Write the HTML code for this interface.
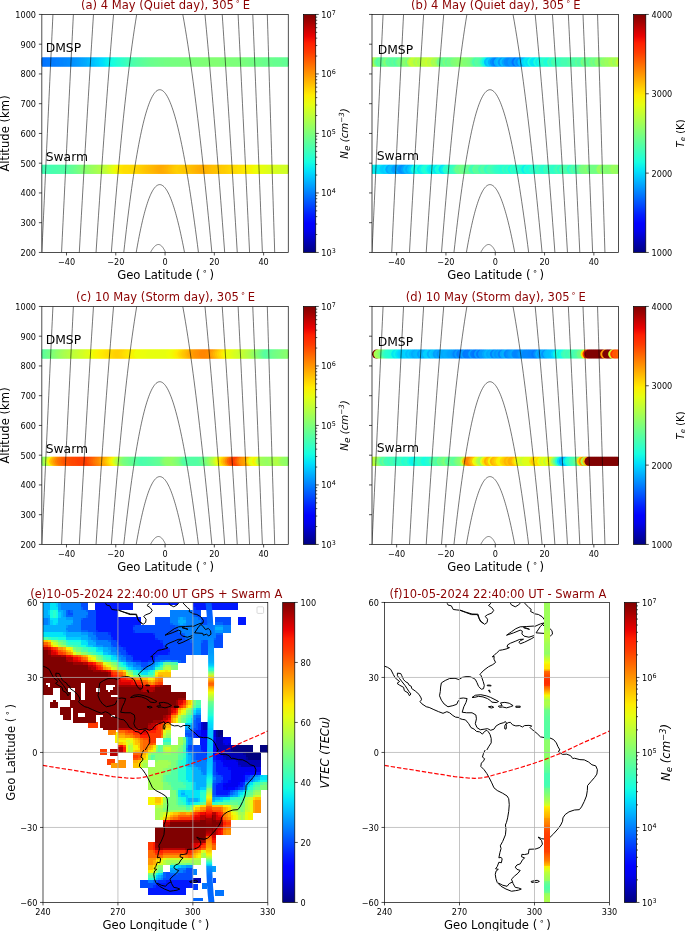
<!DOCTYPE html>
<html lang="en"><head><meta charset="utf-8"><title>Figure</title>
<style>html,body{margin:0;padding:0;background:#fff}svg{display:block}</style></head>
<body>
<svg width="685" height="931" viewBox="0 0 685 931" font-family='"DejaVu Sans","Liberation Sans",sans-serif'>
<rect width="685" height="931" fill="#fff"/>
<g opacity="0.999">
<defs>
<linearGradient id="jet" x1="0" y1="0" x2="0" y2="1"><stop offset="0" stop-color="#800000"/><stop offset="0.03" stop-color="#9f0000"/><stop offset="0.06" stop-color="#c40000"/><stop offset="0.09" stop-color="#e80000"/><stop offset="0.12" stop-color="#ff1e00"/><stop offset="0.16" stop-color="#ff3b00"/><stop offset="0.19" stop-color="#ff5900"/><stop offset="0.22" stop-color="#ff7700"/><stop offset="0.25" stop-color="#ff9400"/><stop offset="0.28" stop-color="#ffb200"/><stop offset="0.31" stop-color="#ffd000"/><stop offset="0.34" stop-color="#feed00"/><stop offset="0.38" stop-color="#e4ff13"/><stop offset="0.41" stop-color="#caff2c"/><stop offset="0.44" stop-color="#b1ff46"/><stop offset="0.47" stop-color="#97ff60"/><stop offset="0.5" stop-color="#7dff7a"/><stop offset="0.53" stop-color="#63ff94"/><stop offset="0.56" stop-color="#49ffad"/><stop offset="0.59" stop-color="#30ffc7"/><stop offset="0.62" stop-color="#16ffe1"/><stop offset="0.66" stop-color="#00e0fb"/><stop offset="0.69" stop-color="#00c0ff"/><stop offset="0.72" stop-color="#00a0ff"/><stop offset="0.75" stop-color="#0080ff"/><stop offset="0.78" stop-color="#0060ff"/><stop offset="0.81" stop-color="#0040ff"/><stop offset="0.84" stop-color="#0020ff"/><stop offset="0.88" stop-color="#0000ff"/><stop offset="0.91" stop-color="#0000ed"/><stop offset="0.94" stop-color="#0000c8"/><stop offset="0.97" stop-color="#0000a4"/><stop offset="1" stop-color="#000080"/></linearGradient>
<linearGradient id="g_a_dmsp" x1="0" y1="0" x2="1" y2="0"><stop offset="0" stop-color="#0074ff"/><stop offset="0.01" stop-color="#0074ff"/><stop offset="0.02" stop-color="#0078ff"/><stop offset="0.03" stop-color="#0078ff"/><stop offset="0.04" stop-color="#007cff"/><stop offset="0.05" stop-color="#0080ff"/><stop offset="0.06" stop-color="#0080ff"/><stop offset="0.07" stop-color="#0084ff"/><stop offset="0.08" stop-color="#0084ff"/><stop offset="0.09" stop-color="#0088ff"/><stop offset="0.1" stop-color="#0088ff"/><stop offset="0.11" stop-color="#008cff"/><stop offset="0.12" stop-color="#0090ff"/><stop offset="0.13" stop-color="#0094ff"/><stop offset="0.14" stop-color="#0098ff"/><stop offset="0.15" stop-color="#009cff"/><stop offset="0.16" stop-color="#00a4ff"/><stop offset="0.17" stop-color="#00a8ff"/><stop offset="0.18" stop-color="#00b0ff"/><stop offset="0.19" stop-color="#00b4ff"/><stop offset="0.2" stop-color="#00bcff"/><stop offset="0.21" stop-color="#00c4ff"/><stop offset="0.22" stop-color="#00ccff"/><stop offset="0.23" stop-color="#00d4ff"/><stop offset="0.24" stop-color="#00dcfe"/><stop offset="0.25" stop-color="#00e4f8"/><stop offset="0.26" stop-color="#06ecf1"/><stop offset="0.27" stop-color="#0cf4eb"/><stop offset="0.28" stop-color="#13fce4"/><stop offset="0.29" stop-color="#19ffde"/><stop offset="0.3" stop-color="#1fffd7"/><stop offset="0.31" stop-color="#26ffd1"/><stop offset="0.32" stop-color="#2cffca"/><stop offset="0.33" stop-color="#33ffc4"/><stop offset="0.34" stop-color="#3cffba"/><stop offset="0.35" stop-color="#43ffb4"/><stop offset="0.36" stop-color="#46ffb1"/><stop offset="0.37" stop-color="#4dffaa"/><stop offset="0.38" stop-color="#50ffa7"/><stop offset="0.39" stop-color="#56ffa0"/><stop offset="0.4" stop-color="#5aff9d"/><stop offset="0.41" stop-color="#5dff9a"/><stop offset="0.42" stop-color="#60ff97"/><stop offset="0.43" stop-color="#63ff94"/><stop offset="0.44" stop-color="#66ff90"/><stop offset="0.45" stop-color="#6aff8d"/><stop offset="0.46" stop-color="#6dff8a"/><stop offset="0.47" stop-color="#6dff8a"/><stop offset="0.48" stop-color="#70ff87"/><stop offset="0.49" stop-color="#70ff87"/><stop offset="0.5" stop-color="#73ff83"/><stop offset="0.51" stop-color="#73ff83"/><stop offset="0.52" stop-color="#73ff83"/><stop offset="0.53" stop-color="#77ff80"/><stop offset="0.54" stop-color="#77ff80"/><stop offset="0.55" stop-color="#77ff80"/><stop offset="0.56" stop-color="#77ff80"/><stop offset="0.57" stop-color="#7aff7d"/><stop offset="0.58" stop-color="#7aff7d"/><stop offset="0.59" stop-color="#7aff7d"/><stop offset="0.6" stop-color="#7dff7a"/><stop offset="0.61" stop-color="#7dff7a"/><stop offset="0.62" stop-color="#7dff7a"/><stop offset="0.63" stop-color="#7dff7a"/><stop offset="0.64" stop-color="#80ff77"/><stop offset="0.65" stop-color="#80ff77"/><stop offset="0.66" stop-color="#80ff77"/><stop offset="0.67" stop-color="#80ff77"/><stop offset="0.68" stop-color="#83ff73"/><stop offset="0.69" stop-color="#83ff73"/><stop offset="0.7" stop-color="#83ff73"/><stop offset="0.71" stop-color="#83ff73"/><stop offset="0.72" stop-color="#83ff73"/><stop offset="0.73" stop-color="#80ff77"/><stop offset="0.74" stop-color="#80ff77"/><stop offset="0.75" stop-color="#80ff77"/><stop offset="0.76" stop-color="#80ff77"/><stop offset="0.77" stop-color="#7dff7a"/><stop offset="0.78" stop-color="#7dff7a"/><stop offset="0.79" stop-color="#7dff7a"/><stop offset="0.8" stop-color="#7dff7a"/><stop offset="0.81" stop-color="#7aff7d"/><stop offset="0.82" stop-color="#77ff80"/><stop offset="0.83" stop-color="#77ff80"/><stop offset="0.84" stop-color="#73ff83"/><stop offset="0.85" stop-color="#73ff83"/><stop offset="0.86" stop-color="#70ff87"/><stop offset="0.87" stop-color="#70ff87"/><stop offset="0.88" stop-color="#6dff8a"/><stop offset="0.89" stop-color="#6dff8a"/><stop offset="0.9" stop-color="#6aff8d"/><stop offset="0.91" stop-color="#6aff8d"/><stop offset="0.92" stop-color="#6aff8d"/><stop offset="0.93" stop-color="#6aff8d"/><stop offset="0.94" stop-color="#66ff90"/><stop offset="0.95" stop-color="#66ff90"/><stop offset="0.96" stop-color="#66ff90"/><stop offset="0.97" stop-color="#66ff90"/><stop offset="0.98" stop-color="#63ff94"/><stop offset="0.99" stop-color="#63ff94"/><stop offset="1" stop-color="#63ff94"/></linearGradient>
<linearGradient id="g_a_swarm" x1="0" y1="0" x2="1" y2="0"><stop offset="0" stop-color="#43ffb4"/><stop offset="0.01" stop-color="#43ffb4"/><stop offset="0.02" stop-color="#46ffb1"/><stop offset="0.03" stop-color="#46ffb1"/><stop offset="0.04" stop-color="#49ffad"/><stop offset="0.05" stop-color="#49ffad"/><stop offset="0.06" stop-color="#4dffaa"/><stop offset="0.07" stop-color="#4dffaa"/><stop offset="0.08" stop-color="#50ffa7"/><stop offset="0.09" stop-color="#50ffa7"/><stop offset="0.1" stop-color="#56ffa0"/><stop offset="0.11" stop-color="#5dff9a"/><stop offset="0.12" stop-color="#63ff94"/><stop offset="0.13" stop-color="#6aff8d"/><stop offset="0.14" stop-color="#70ff87"/><stop offset="0.15" stop-color="#7aff7d"/><stop offset="0.16" stop-color="#80ff77"/><stop offset="0.17" stop-color="#87ff70"/><stop offset="0.18" stop-color="#8dff6a"/><stop offset="0.19" stop-color="#94ff63"/><stop offset="0.2" stop-color="#9aff5d"/><stop offset="0.21" stop-color="#a0ff56"/><stop offset="0.22" stop-color="#a7ff50"/><stop offset="0.23" stop-color="#adff49"/><stop offset="0.24" stop-color="#b4ff43"/><stop offset="0.25" stop-color="#beff39"/><stop offset="0.26" stop-color="#c7ff30"/><stop offset="0.27" stop-color="#d1ff26"/><stop offset="0.28" stop-color="#deff19"/><stop offset="0.29" stop-color="#e7ff0f"/><stop offset="0.3" stop-color="#f4f802"/><stop offset="0.31" stop-color="#feed00"/><stop offset="0.32" stop-color="#ffe200"/><stop offset="0.33" stop-color="#ffde00"/><stop offset="0.34" stop-color="#ffde00"/><stop offset="0.35" stop-color="#ffde00"/><stop offset="0.36" stop-color="#ffdb00"/><stop offset="0.37" stop-color="#ffdb00"/><stop offset="0.38" stop-color="#ffd700"/><stop offset="0.39" stop-color="#ffd300"/><stop offset="0.4" stop-color="#ffcc00"/><stop offset="0.41" stop-color="#ffc800"/><stop offset="0.42" stop-color="#ffc400"/><stop offset="0.43" stop-color="#ffc100"/><stop offset="0.44" stop-color="#ffb900"/><stop offset="0.45" stop-color="#ffb600"/><stop offset="0.46" stop-color="#ffb200"/><stop offset="0.47" stop-color="#ffae00"/><stop offset="0.48" stop-color="#ffab00"/><stop offset="0.49" stop-color="#ffae00"/><stop offset="0.5" stop-color="#ffb200"/><stop offset="0.51" stop-color="#ffb900"/><stop offset="0.52" stop-color="#ffc100"/><stop offset="0.53" stop-color="#ffc800"/><stop offset="0.54" stop-color="#ffcc00"/><stop offset="0.55" stop-color="#ffcc00"/><stop offset="0.56" stop-color="#ffcc00"/><stop offset="0.57" stop-color="#ffc800"/><stop offset="0.58" stop-color="#ffc800"/><stop offset="0.59" stop-color="#ffc400"/><stop offset="0.6" stop-color="#ffc100"/><stop offset="0.61" stop-color="#ffb900"/><stop offset="0.62" stop-color="#ffb600"/><stop offset="0.63" stop-color="#ffae00"/><stop offset="0.64" stop-color="#ffab00"/><stop offset="0.65" stop-color="#ffae00"/><stop offset="0.66" stop-color="#ffb200"/><stop offset="0.67" stop-color="#ffb900"/><stop offset="0.68" stop-color="#ffbd00"/><stop offset="0.69" stop-color="#ffc100"/><stop offset="0.7" stop-color="#ffc400"/><stop offset="0.71" stop-color="#ffc400"/><stop offset="0.72" stop-color="#ffc800"/><stop offset="0.73" stop-color="#ffcc00"/><stop offset="0.74" stop-color="#ffd000"/><stop offset="0.75" stop-color="#ffd300"/><stop offset="0.76" stop-color="#ffd300"/><stop offset="0.77" stop-color="#ffd700"/><stop offset="0.78" stop-color="#ffdb00"/><stop offset="0.79" stop-color="#ffde00"/><stop offset="0.8" stop-color="#ffe200"/><stop offset="0.81" stop-color="#ffe600"/><stop offset="0.82" stop-color="#ffea00"/><stop offset="0.83" stop-color="#feed00"/><stop offset="0.84" stop-color="#fbf100"/><stop offset="0.85" stop-color="#f4f802"/><stop offset="0.86" stop-color="#f1fc06"/><stop offset="0.87" stop-color="#eeff09"/><stop offset="0.88" stop-color="#e7ff0f"/><stop offset="0.89" stop-color="#e4ff13"/><stop offset="0.9" stop-color="#e1ff16"/><stop offset="0.91" stop-color="#e1ff16"/><stop offset="0.92" stop-color="#deff19"/><stop offset="0.93" stop-color="#dbff1c"/><stop offset="0.94" stop-color="#d7ff1f"/><stop offset="0.95" stop-color="#d4ff23"/><stop offset="0.96" stop-color="#d4ff23"/><stop offset="0.97" stop-color="#d1ff26"/><stop offset="0.98" stop-color="#d1ff26"/><stop offset="0.99" stop-color="#d1ff26"/><stop offset="1" stop-color="#ceff29"/></linearGradient>
<linearGradient id="g_b_dmsp" x1="0" y1="0" x2="1" y2="0"><stop offset="0" stop-color="#a4ff53"/><stop offset="0.01" stop-color="#83ff73"/><stop offset="0.02" stop-color="#60ff97"/><stop offset="0.03" stop-color="#60ff97"/><stop offset="0.04" stop-color="#73ff83"/><stop offset="0.05" stop-color="#6dff8a"/><stop offset="0.06" stop-color="#5dff9a"/><stop offset="0.07" stop-color="#53ffa4"/><stop offset="0.08" stop-color="#5aff9d"/><stop offset="0.09" stop-color="#5dff9a"/><stop offset="0.1" stop-color="#63ff94"/><stop offset="0.11" stop-color="#6dff8a"/><stop offset="0.12" stop-color="#77ff80"/><stop offset="0.13" stop-color="#83ff73"/><stop offset="0.14" stop-color="#90ff66"/><stop offset="0.15" stop-color="#b4ff43"/><stop offset="0.16" stop-color="#caff2c"/><stop offset="0.17" stop-color="#baff3c"/><stop offset="0.18" stop-color="#aaff4d"/><stop offset="0.19" stop-color="#a7ff50"/><stop offset="0.2" stop-color="#adff49"/><stop offset="0.21" stop-color="#b4ff43"/><stop offset="0.22" stop-color="#baff3c"/><stop offset="0.23" stop-color="#baff3c"/><stop offset="0.24" stop-color="#aaff4d"/><stop offset="0.25" stop-color="#97ff60"/><stop offset="0.26" stop-color="#8aff6d"/><stop offset="0.27" stop-color="#7dff7a"/><stop offset="0.28" stop-color="#73ff83"/><stop offset="0.29" stop-color="#66ff90"/><stop offset="0.3" stop-color="#6aff8d"/><stop offset="0.31" stop-color="#70ff87"/><stop offset="0.32" stop-color="#7aff7d"/><stop offset="0.33" stop-color="#83ff73"/><stop offset="0.34" stop-color="#8aff6d"/><stop offset="0.35" stop-color="#83ff73"/><stop offset="0.36" stop-color="#7dff7a"/><stop offset="0.37" stop-color="#77ff80"/><stop offset="0.38" stop-color="#70ff87"/><stop offset="0.39" stop-color="#6aff8d"/><stop offset="0.4" stop-color="#60ff97"/><stop offset="0.41" stop-color="#56ffa0"/><stop offset="0.42" stop-color="#49ffad"/><stop offset="0.43" stop-color="#40ffb7"/><stop offset="0.44" stop-color="#29ffce"/><stop offset="0.45" stop-color="#06ecf1"/><stop offset="0.46" stop-color="#00c8ff"/><stop offset="0.47" stop-color="#00b4ff"/><stop offset="0.48" stop-color="#00a0ff"/><stop offset="0.49" stop-color="#0094ff"/><stop offset="0.5" stop-color="#00a0ff"/><stop offset="0.51" stop-color="#00a8ff"/><stop offset="0.52" stop-color="#00b0ff"/><stop offset="0.53" stop-color="#00a4ff"/><stop offset="0.54" stop-color="#0098ff"/><stop offset="0.55" stop-color="#0090ff"/><stop offset="0.56" stop-color="#0084ff"/><stop offset="0.57" stop-color="#0088ff"/><stop offset="0.58" stop-color="#0098ff"/><stop offset="0.59" stop-color="#00acff"/><stop offset="0.6" stop-color="#00b8ff"/><stop offset="0.61" stop-color="#00c8ff"/><stop offset="0.62" stop-color="#00d8ff"/><stop offset="0.63" stop-color="#00e4f8"/><stop offset="0.64" stop-color="#09f0ee"/><stop offset="0.65" stop-color="#0ff8e7"/><stop offset="0.66" stop-color="#16ffe1"/><stop offset="0.67" stop-color="#1fffd7"/><stop offset="0.68" stop-color="#26ffd1"/><stop offset="0.69" stop-color="#2cffca"/><stop offset="0.7" stop-color="#2cffca"/><stop offset="0.71" stop-color="#30ffc7"/><stop offset="0.72" stop-color="#33ffc4"/><stop offset="0.73" stop-color="#36ffc1"/><stop offset="0.74" stop-color="#39ffbe"/><stop offset="0.75" stop-color="#3cffba"/><stop offset="0.76" stop-color="#3cffba"/><stop offset="0.77" stop-color="#40ffb7"/><stop offset="0.78" stop-color="#43ffb4"/><stop offset="0.79" stop-color="#46ffb1"/><stop offset="0.8" stop-color="#49ffad"/><stop offset="0.81" stop-color="#49ffad"/><stop offset="0.82" stop-color="#50ffa7"/><stop offset="0.83" stop-color="#56ffa0"/><stop offset="0.84" stop-color="#5dff9a"/><stop offset="0.85" stop-color="#60ff97"/><stop offset="0.86" stop-color="#66ff90"/><stop offset="0.87" stop-color="#6dff8a"/><stop offset="0.88" stop-color="#73ff83"/><stop offset="0.89" stop-color="#77ff80"/><stop offset="0.9" stop-color="#7dff7a"/><stop offset="0.91" stop-color="#83ff73"/><stop offset="0.92" stop-color="#8aff6d"/><stop offset="0.93" stop-color="#8dff6a"/><stop offset="0.94" stop-color="#94ff63"/><stop offset="0.95" stop-color="#9aff5d"/><stop offset="0.96" stop-color="#9dff5a"/><stop offset="0.97" stop-color="#a4ff53"/><stop offset="0.98" stop-color="#b1ff46"/><stop offset="0.99" stop-color="#beff39"/><stop offset="1" stop-color="#beff39"/></linearGradient>
<linearGradient id="g_b_swarm" x1="0" y1="0" x2="1" y2="0"><stop offset="0" stop-color="#0ff8e7"/><stop offset="0.01" stop-color="#09f0ee"/><stop offset="0.02" stop-color="#02e8f4"/><stop offset="0.03" stop-color="#00e0fb"/><stop offset="0.04" stop-color="#00d4ff"/><stop offset="0.05" stop-color="#00ccff"/><stop offset="0.06" stop-color="#00c0ff"/><stop offset="0.07" stop-color="#00b4ff"/><stop offset="0.08" stop-color="#00acff"/><stop offset="0.09" stop-color="#00a8ff"/><stop offset="0.1" stop-color="#00a4ff"/><stop offset="0.11" stop-color="#00a0ff"/><stop offset="0.12" stop-color="#00a4ff"/><stop offset="0.13" stop-color="#00b4ff"/><stop offset="0.14" stop-color="#00c8ff"/><stop offset="0.15" stop-color="#00dcfe"/><stop offset="0.16" stop-color="#06ecf1"/><stop offset="0.17" stop-color="#0cf4eb"/><stop offset="0.18" stop-color="#0ff8e7"/><stop offset="0.19" stop-color="#13fce4"/><stop offset="0.2" stop-color="#16ffe1"/><stop offset="0.21" stop-color="#16ffe1"/><stop offset="0.22" stop-color="#16ffe1"/><stop offset="0.23" stop-color="#13fce4"/><stop offset="0.24" stop-color="#0ff8e7"/><stop offset="0.25" stop-color="#0ff8e7"/><stop offset="0.26" stop-color="#0cf4eb"/><stop offset="0.27" stop-color="#09f0ee"/><stop offset="0.28" stop-color="#0ff8e7"/><stop offset="0.29" stop-color="#1cffdb"/><stop offset="0.3" stop-color="#26ffd1"/><stop offset="0.31" stop-color="#33ffc4"/><stop offset="0.32" stop-color="#40ffb7"/><stop offset="0.33" stop-color="#53ffa4"/><stop offset="0.34" stop-color="#63ff94"/><stop offset="0.35" stop-color="#77ff80"/><stop offset="0.36" stop-color="#73ff83"/><stop offset="0.37" stop-color="#6aff8d"/><stop offset="0.38" stop-color="#5dff9a"/><stop offset="0.39" stop-color="#56ffa0"/><stop offset="0.4" stop-color="#53ffa4"/><stop offset="0.41" stop-color="#4dffaa"/><stop offset="0.42" stop-color="#49ffad"/><stop offset="0.43" stop-color="#43ffb4"/><stop offset="0.44" stop-color="#40ffb7"/><stop offset="0.45" stop-color="#40ffb7"/><stop offset="0.46" stop-color="#3cffba"/><stop offset="0.47" stop-color="#3cffba"/><stop offset="0.48" stop-color="#39ffbe"/><stop offset="0.49" stop-color="#39ffbe"/><stop offset="0.5" stop-color="#36ffc1"/><stop offset="0.51" stop-color="#36ffc1"/><stop offset="0.52" stop-color="#33ffc4"/><stop offset="0.53" stop-color="#33ffc4"/><stop offset="0.54" stop-color="#30ffc7"/><stop offset="0.55" stop-color="#29ffce"/><stop offset="0.56" stop-color="#26ffd1"/><stop offset="0.57" stop-color="#23ffd4"/><stop offset="0.58" stop-color="#1fffd7"/><stop offset="0.59" stop-color="#19ffde"/><stop offset="0.6" stop-color="#19ffde"/><stop offset="0.61" stop-color="#1cffdb"/><stop offset="0.62" stop-color="#1fffd7"/><stop offset="0.63" stop-color="#23ffd4"/><stop offset="0.64" stop-color="#26ffd1"/><stop offset="0.65" stop-color="#29ffce"/><stop offset="0.66" stop-color="#2cffca"/><stop offset="0.67" stop-color="#2cffca"/><stop offset="0.68" stop-color="#30ffc7"/><stop offset="0.69" stop-color="#30ffc7"/><stop offset="0.7" stop-color="#33ffc4"/><stop offset="0.71" stop-color="#33ffc4"/><stop offset="0.72" stop-color="#36ffc1"/><stop offset="0.73" stop-color="#36ffc1"/><stop offset="0.74" stop-color="#39ffbe"/><stop offset="0.75" stop-color="#39ffbe"/><stop offset="0.76" stop-color="#3cffba"/><stop offset="0.77" stop-color="#3cffba"/><stop offset="0.78" stop-color="#3cffba"/><stop offset="0.79" stop-color="#40ffb7"/><stop offset="0.8" stop-color="#40ffb7"/><stop offset="0.81" stop-color="#46ffb1"/><stop offset="0.82" stop-color="#53ffa4"/><stop offset="0.83" stop-color="#63ff94"/><stop offset="0.84" stop-color="#73ff83"/><stop offset="0.85" stop-color="#7dff7a"/><stop offset="0.86" stop-color="#7dff7a"/><stop offset="0.87" stop-color="#80ff77"/><stop offset="0.88" stop-color="#80ff77"/><stop offset="0.89" stop-color="#83ff73"/><stop offset="0.9" stop-color="#83ff73"/><stop offset="0.91" stop-color="#87ff70"/><stop offset="0.92" stop-color="#87ff70"/><stop offset="0.93" stop-color="#87ff70"/><stop offset="0.94" stop-color="#8aff6d"/><stop offset="0.95" stop-color="#8aff6d"/><stop offset="0.96" stop-color="#8dff6a"/><stop offset="0.97" stop-color="#94ff63"/><stop offset="0.98" stop-color="#97ff60"/><stop offset="0.99" stop-color="#9dff5a"/><stop offset="1" stop-color="#9dff5a"/></linearGradient>
<linearGradient id="g_c_dmsp" x1="0" y1="0" x2="1" y2="0"><stop offset="0" stop-color="#5aff9d"/><stop offset="0.01" stop-color="#63ff94"/><stop offset="0.02" stop-color="#6dff8a"/><stop offset="0.03" stop-color="#77ff80"/><stop offset="0.04" stop-color="#7dff7a"/><stop offset="0.05" stop-color="#87ff70"/><stop offset="0.06" stop-color="#90ff66"/><stop offset="0.07" stop-color="#9aff5d"/><stop offset="0.08" stop-color="#a4ff53"/><stop offset="0.09" stop-color="#aaff4d"/><stop offset="0.1" stop-color="#b1ff46"/><stop offset="0.11" stop-color="#b4ff43"/><stop offset="0.12" stop-color="#baff3c"/><stop offset="0.13" stop-color="#c1ff36"/><stop offset="0.14" stop-color="#c7ff30"/><stop offset="0.15" stop-color="#caff2c"/><stop offset="0.16" stop-color="#d1ff26"/><stop offset="0.17" stop-color="#d7ff1f"/><stop offset="0.18" stop-color="#dbff1c"/><stop offset="0.19" stop-color="#e4ff13"/><stop offset="0.2" stop-color="#ebff0c"/><stop offset="0.21" stop-color="#f4f802"/><stop offset="0.22" stop-color="#fbf100"/><stop offset="0.23" stop-color="#feed00"/><stop offset="0.24" stop-color="#ffea00"/><stop offset="0.25" stop-color="#ffe600"/><stop offset="0.26" stop-color="#ffe200"/><stop offset="0.27" stop-color="#ffde00"/><stop offset="0.28" stop-color="#ffdb00"/><stop offset="0.29" stop-color="#ffd300"/><stop offset="0.3" stop-color="#ffd000"/><stop offset="0.31" stop-color="#ffd300"/><stop offset="0.32" stop-color="#ffd700"/><stop offset="0.33" stop-color="#ffde00"/><stop offset="0.34" stop-color="#ffe200"/><stop offset="0.35" stop-color="#ffea00"/><stop offset="0.36" stop-color="#fbf100"/><stop offset="0.37" stop-color="#f4f802"/><stop offset="0.38" stop-color="#eeff09"/><stop offset="0.39" stop-color="#eeff09"/><stop offset="0.4" stop-color="#ebff0c"/><stop offset="0.41" stop-color="#ebff0c"/><stop offset="0.42" stop-color="#e7ff0f"/><stop offset="0.43" stop-color="#e7ff0f"/><stop offset="0.44" stop-color="#e7ff0f"/><stop offset="0.45" stop-color="#e7ff0f"/><stop offset="0.46" stop-color="#e7ff0f"/><stop offset="0.47" stop-color="#e7ff0f"/><stop offset="0.48" stop-color="#e7ff0f"/><stop offset="0.49" stop-color="#e7ff0f"/><stop offset="0.5" stop-color="#e7ff0f"/><stop offset="0.51" stop-color="#eeff09"/><stop offset="0.52" stop-color="#f1fc06"/><stop offset="0.53" stop-color="#f4f802"/><stop offset="0.54" stop-color="#fbf100"/><stop offset="0.55" stop-color="#ffe200"/><stop offset="0.56" stop-color="#ffd700"/><stop offset="0.57" stop-color="#ffc800"/><stop offset="0.58" stop-color="#ffbd00"/><stop offset="0.59" stop-color="#ffae00"/><stop offset="0.6" stop-color="#ffa300"/><stop offset="0.61" stop-color="#ff9c00"/><stop offset="0.62" stop-color="#ff9400"/><stop offset="0.63" stop-color="#ff8d00"/><stop offset="0.64" stop-color="#ff8900"/><stop offset="0.65" stop-color="#ff8600"/><stop offset="0.66" stop-color="#ff8600"/><stop offset="0.67" stop-color="#ff8900"/><stop offset="0.68" stop-color="#ff9400"/><stop offset="0.69" stop-color="#ffa700"/><stop offset="0.7" stop-color="#ffb900"/><stop offset="0.71" stop-color="#ffcc00"/><stop offset="0.72" stop-color="#ffdb00"/><stop offset="0.73" stop-color="#ffea00"/><stop offset="0.74" stop-color="#f4f802"/><stop offset="0.75" stop-color="#ebff0c"/><stop offset="0.76" stop-color="#e4ff13"/><stop offset="0.77" stop-color="#deff19"/><stop offset="0.78" stop-color="#d7ff1f"/><stop offset="0.79" stop-color="#d1ff26"/><stop offset="0.8" stop-color="#caff2c"/><stop offset="0.81" stop-color="#c4ff33"/><stop offset="0.82" stop-color="#baff3c"/><stop offset="0.83" stop-color="#b4ff43"/><stop offset="0.84" stop-color="#aaff4d"/><stop offset="0.85" stop-color="#9dff5a"/><stop offset="0.86" stop-color="#90ff66"/><stop offset="0.87" stop-color="#83ff73"/><stop offset="0.88" stop-color="#77ff80"/><stop offset="0.89" stop-color="#66ff90"/><stop offset="0.9" stop-color="#56ffa0"/><stop offset="0.91" stop-color="#5aff9d"/><stop offset="0.92" stop-color="#60ff97"/><stop offset="0.93" stop-color="#6aff8d"/><stop offset="0.94" stop-color="#70ff87"/><stop offset="0.95" stop-color="#77ff80"/><stop offset="0.96" stop-color="#7aff7d"/><stop offset="0.97" stop-color="#80ff77"/><stop offset="0.98" stop-color="#83ff73"/><stop offset="0.99" stop-color="#87ff70"/><stop offset="1" stop-color="#8dff6a"/></linearGradient>
<linearGradient id="g_c_swarm" x1="0" y1="0" x2="1" y2="0"><stop offset="0" stop-color="#8dff6a"/><stop offset="0.01" stop-color="#adff49"/><stop offset="0.02" stop-color="#d4ff23"/><stop offset="0.03" stop-color="#ffdb00"/><stop offset="0.04" stop-color="#ffb200"/><stop offset="0.05" stop-color="#ff9400"/><stop offset="0.06" stop-color="#ff7700"/><stop offset="0.07" stop-color="#ff6c00"/><stop offset="0.08" stop-color="#ff6000"/><stop offset="0.09" stop-color="#ff5200"/><stop offset="0.1" stop-color="#ff4e00"/><stop offset="0.11" stop-color="#ff4e00"/><stop offset="0.12" stop-color="#ff4a00"/><stop offset="0.13" stop-color="#ff4700"/><stop offset="0.14" stop-color="#ff4300"/><stop offset="0.15" stop-color="#ff3f00"/><stop offset="0.16" stop-color="#ff3f00"/><stop offset="0.17" stop-color="#ff3f00"/><stop offset="0.18" stop-color="#ff4300"/><stop offset="0.19" stop-color="#ff5200"/><stop offset="0.2" stop-color="#ff6400"/><stop offset="0.21" stop-color="#ff7300"/><stop offset="0.22" stop-color="#ff8200"/><stop offset="0.23" stop-color="#ff9100"/><stop offset="0.24" stop-color="#ff9f00"/><stop offset="0.25" stop-color="#ffae00"/><stop offset="0.26" stop-color="#ffc400"/><stop offset="0.27" stop-color="#ffdb00"/><stop offset="0.28" stop-color="#fbf100"/><stop offset="0.29" stop-color="#d7ff1f"/><stop offset="0.3" stop-color="#b7ff40"/><stop offset="0.31" stop-color="#9dff5a"/><stop offset="0.32" stop-color="#87ff70"/><stop offset="0.33" stop-color="#77ff80"/><stop offset="0.34" stop-color="#70ff87"/><stop offset="0.35" stop-color="#6aff8d"/><stop offset="0.36" stop-color="#63ff94"/><stop offset="0.37" stop-color="#5dff9a"/><stop offset="0.38" stop-color="#56ffa0"/><stop offset="0.39" stop-color="#50ffa7"/><stop offset="0.4" stop-color="#49ffad"/><stop offset="0.41" stop-color="#4dffaa"/><stop offset="0.42" stop-color="#50ffa7"/><stop offset="0.43" stop-color="#50ffa7"/><stop offset="0.44" stop-color="#53ffa4"/><stop offset="0.45" stop-color="#5aff9d"/><stop offset="0.46" stop-color="#5dff9a"/><stop offset="0.47" stop-color="#60ff97"/><stop offset="0.48" stop-color="#70ff87"/><stop offset="0.49" stop-color="#83ff73"/><stop offset="0.5" stop-color="#8dff6a"/><stop offset="0.51" stop-color="#90ff66"/><stop offset="0.52" stop-color="#94ff63"/><stop offset="0.53" stop-color="#8dff6a"/><stop offset="0.54" stop-color="#83ff73"/><stop offset="0.55" stop-color="#7dff7a"/><stop offset="0.56" stop-color="#6aff8d"/><stop offset="0.57" stop-color="#56ffa0"/><stop offset="0.58" stop-color="#53ffa4"/><stop offset="0.59" stop-color="#53ffa4"/><stop offset="0.6" stop-color="#53ffa4"/><stop offset="0.61" stop-color="#53ffa4"/><stop offset="0.62" stop-color="#53ffa4"/><stop offset="0.63" stop-color="#53ffa4"/><stop offset="0.64" stop-color="#5dff9a"/><stop offset="0.65" stop-color="#6aff8d"/><stop offset="0.66" stop-color="#7aff7d"/><stop offset="0.67" stop-color="#8aff6d"/><stop offset="0.68" stop-color="#a0ff56"/><stop offset="0.69" stop-color="#b4ff43"/><stop offset="0.7" stop-color="#ceff29"/><stop offset="0.71" stop-color="#ebff0c"/><stop offset="0.72" stop-color="#ffe200"/><stop offset="0.73" stop-color="#ffc400"/><stop offset="0.74" stop-color="#ffa300"/><stop offset="0.75" stop-color="#ff7700"/><stop offset="0.76" stop-color="#ff5200"/><stop offset="0.77" stop-color="#ff3f00"/><stop offset="0.78" stop-color="#ff4300"/><stop offset="0.79" stop-color="#ff6400"/><stop offset="0.8" stop-color="#ff8600"/><stop offset="0.81" stop-color="#ff9800"/><stop offset="0.82" stop-color="#ffa300"/><stop offset="0.83" stop-color="#ffc400"/><stop offset="0.84" stop-color="#eeff09"/><stop offset="0.85" stop-color="#ebff0c"/><stop offset="0.86" stop-color="#feed00"/><stop offset="0.87" stop-color="#caff2c"/><stop offset="0.88" stop-color="#a4ff53"/><stop offset="0.89" stop-color="#9dff5a"/><stop offset="0.9" stop-color="#9aff5d"/><stop offset="0.91" stop-color="#97ff60"/><stop offset="0.92" stop-color="#9aff5d"/><stop offset="0.93" stop-color="#a4ff53"/><stop offset="0.94" stop-color="#adff49"/><stop offset="0.95" stop-color="#b4ff43"/><stop offset="0.96" stop-color="#a7ff50"/><stop offset="0.97" stop-color="#97ff60"/><stop offset="0.98" stop-color="#90ff66"/><stop offset="0.99" stop-color="#90ff66"/><stop offset="1" stop-color="#8dff6a"/></linearGradient>
<linearGradient id="g_d_dmsp" x1="0" y1="0" x2="1" y2="0"><stop offset="0" stop-color="#beff39"/><stop offset="0.01" stop-color="#b7ff40"/><stop offset="0.02" stop-color="#97ff60"/><stop offset="0.03" stop-color="#77ff80"/><stop offset="0.04" stop-color="#56ffa0"/><stop offset="0.05" stop-color="#39ffbe"/><stop offset="0.06" stop-color="#29ffce"/><stop offset="0.07" stop-color="#19ffde"/><stop offset="0.08" stop-color="#09f0ee"/><stop offset="0.09" stop-color="#02e8f4"/><stop offset="0.1" stop-color="#00e0fb"/><stop offset="0.11" stop-color="#00d4ff"/><stop offset="0.12" stop-color="#00d0ff"/><stop offset="0.13" stop-color="#00c8ff"/><stop offset="0.14" stop-color="#00c4ff"/><stop offset="0.15" stop-color="#00c0ff"/><stop offset="0.16" stop-color="#00b8ff"/><stop offset="0.17" stop-color="#00b4ff"/><stop offset="0.18" stop-color="#00b4ff"/><stop offset="0.19" stop-color="#00b4ff"/><stop offset="0.2" stop-color="#00b8ff"/><stop offset="0.21" stop-color="#00bcff"/><stop offset="0.22" stop-color="#00b8ff"/><stop offset="0.23" stop-color="#00b4ff"/><stop offset="0.24" stop-color="#00b0ff"/><stop offset="0.25" stop-color="#00acff"/><stop offset="0.26" stop-color="#00a8ff"/><stop offset="0.27" stop-color="#00a4ff"/><stop offset="0.28" stop-color="#00a0ff"/><stop offset="0.29" stop-color="#009cff"/><stop offset="0.3" stop-color="#009cff"/><stop offset="0.31" stop-color="#0098ff"/><stop offset="0.32" stop-color="#0098ff"/><stop offset="0.33" stop-color="#0098ff"/><stop offset="0.34" stop-color="#0094ff"/><stop offset="0.35" stop-color="#0094ff"/><stop offset="0.36" stop-color="#0094ff"/><stop offset="0.37" stop-color="#0090ff"/><stop offset="0.38" stop-color="#0090ff"/><stop offset="0.39" stop-color="#0090ff"/><stop offset="0.4" stop-color="#008cff"/><stop offset="0.41" stop-color="#008cff"/><stop offset="0.42" stop-color="#008cff"/><stop offset="0.43" stop-color="#0088ff"/><stop offset="0.44" stop-color="#008cff"/><stop offset="0.45" stop-color="#0098ff"/><stop offset="0.46" stop-color="#00a4ff"/><stop offset="0.47" stop-color="#00a4ff"/><stop offset="0.48" stop-color="#009cff"/><stop offset="0.49" stop-color="#0094ff"/><stop offset="0.5" stop-color="#0094ff"/><stop offset="0.51" stop-color="#0098ff"/><stop offset="0.52" stop-color="#0098ff"/><stop offset="0.53" stop-color="#009cff"/><stop offset="0.54" stop-color="#009cff"/><stop offset="0.55" stop-color="#0098ff"/><stop offset="0.56" stop-color="#0098ff"/><stop offset="0.57" stop-color="#0098ff"/><stop offset="0.58" stop-color="#0094ff"/><stop offset="0.59" stop-color="#0094ff"/><stop offset="0.6" stop-color="#0090ff"/><stop offset="0.61" stop-color="#0090ff"/><stop offset="0.62" stop-color="#008cff"/><stop offset="0.63" stop-color="#008cff"/><stop offset="0.64" stop-color="#0088ff"/><stop offset="0.65" stop-color="#008cff"/><stop offset="0.66" stop-color="#0094ff"/><stop offset="0.67" stop-color="#0098ff"/><stop offset="0.68" stop-color="#00a0ff"/><stop offset="0.69" stop-color="#00a8ff"/><stop offset="0.7" stop-color="#00b0ff"/><stop offset="0.71" stop-color="#00b4ff"/><stop offset="0.72" stop-color="#00c0ff"/><stop offset="0.73" stop-color="#00d8ff"/><stop offset="0.74" stop-color="#0cf4eb"/><stop offset="0.75" stop-color="#19ffde"/><stop offset="0.76" stop-color="#26ffd1"/><stop offset="0.77" stop-color="#30ffc7"/><stop offset="0.78" stop-color="#36ffc1"/><stop offset="0.79" stop-color="#3cffba"/><stop offset="0.8" stop-color="#43ffb4"/><stop offset="0.81" stop-color="#4dffaa"/><stop offset="0.82" stop-color="#5aff9d"/><stop offset="0.83" stop-color="#66ff90"/><stop offset="0.84" stop-color="#73ff83"/><stop offset="0.85" stop-color="#ffd700"/><stop offset="0.86" stop-color="#800000"/><stop offset="0.87" stop-color="#800000"/><stop offset="0.88" stop-color="#800000"/><stop offset="0.89" stop-color="#800000"/><stop offset="0.9" stop-color="#800000"/><stop offset="0.91" stop-color="#800000"/><stop offset="0.92" stop-color="#800000"/><stop offset="0.93" stop-color="#ffb200"/><stop offset="0.94" stop-color="#800000"/><stop offset="0.95" stop-color="#800000"/><stop offset="0.96" stop-color="#d4ff23"/><stop offset="0.97" stop-color="#ff3b00"/><stop offset="0.98" stop-color="#ff5900"/><stop offset="0.99" stop-color="#ff6800"/><stop offset="1" stop-color="#ff6800"/></linearGradient>
<linearGradient id="g_d_swarm" x1="0" y1="0" x2="1" y2="0"><stop offset="0" stop-color="#ceff29"/><stop offset="0.01" stop-color="#b4ff43"/><stop offset="0.02" stop-color="#83ff73"/><stop offset="0.03" stop-color="#63ff94"/><stop offset="0.04" stop-color="#53ffa4"/><stop offset="0.05" stop-color="#43ffb4"/><stop offset="0.06" stop-color="#3cffba"/><stop offset="0.07" stop-color="#39ffbe"/><stop offset="0.08" stop-color="#36ffc1"/><stop offset="0.09" stop-color="#33ffc4"/><stop offset="0.1" stop-color="#30ffc7"/><stop offset="0.11" stop-color="#2cffca"/><stop offset="0.12" stop-color="#29ffce"/><stop offset="0.13" stop-color="#23ffd4"/><stop offset="0.14" stop-color="#1fffd7"/><stop offset="0.15" stop-color="#1cffdb"/><stop offset="0.16" stop-color="#19ffde"/><stop offset="0.17" stop-color="#19ffde"/><stop offset="0.18" stop-color="#1cffdb"/><stop offset="0.19" stop-color="#1cffdb"/><stop offset="0.2" stop-color="#1fffd7"/><stop offset="0.21" stop-color="#23ffd4"/><stop offset="0.22" stop-color="#2cffca"/><stop offset="0.23" stop-color="#36ffc1"/><stop offset="0.24" stop-color="#40ffb7"/><stop offset="0.25" stop-color="#4dffaa"/><stop offset="0.26" stop-color="#5aff9d"/><stop offset="0.27" stop-color="#66ff90"/><stop offset="0.28" stop-color="#73ff83"/><stop offset="0.29" stop-color="#77ff80"/><stop offset="0.3" stop-color="#6dff8a"/><stop offset="0.31" stop-color="#60ff97"/><stop offset="0.32" stop-color="#60ff97"/><stop offset="0.33" stop-color="#6aff8d"/><stop offset="0.34" stop-color="#73ff83"/><stop offset="0.35" stop-color="#8dff6a"/><stop offset="0.36" stop-color="#baff3c"/><stop offset="0.37" stop-color="#ffb200"/><stop offset="0.38" stop-color="#ff7300"/><stop offset="0.39" stop-color="#ff9400"/><stop offset="0.4" stop-color="#ffd000"/><stop offset="0.41" stop-color="#f4f802"/><stop offset="0.42" stop-color="#d1ff26"/><stop offset="0.43" stop-color="#b4ff43"/><stop offset="0.44" stop-color="#caff2c"/><stop offset="0.45" stop-color="#ffcc00"/><stop offset="0.46" stop-color="#ffc800"/><stop offset="0.47" stop-color="#ffe600"/><stop offset="0.48" stop-color="#ffcc00"/><stop offset="0.49" stop-color="#ffc100"/><stop offset="0.5" stop-color="#ffea00"/><stop offset="0.51" stop-color="#f8f500"/><stop offset="0.52" stop-color="#ffe600"/><stop offset="0.53" stop-color="#ffd300"/><stop offset="0.54" stop-color="#ffc100"/><stop offset="0.55" stop-color="#ffb600"/><stop offset="0.56" stop-color="#ffc400"/><stop offset="0.57" stop-color="#ffd700"/><stop offset="0.58" stop-color="#fbf100"/><stop offset="0.59" stop-color="#e7ff0f"/><stop offset="0.6" stop-color="#d1ff26"/><stop offset="0.61" stop-color="#d4ff23"/><stop offset="0.62" stop-color="#d7ff1f"/><stop offset="0.63" stop-color="#deff19"/><stop offset="0.64" stop-color="#ffea00"/><stop offset="0.65" stop-color="#ffc800"/><stop offset="0.66" stop-color="#ffe200"/><stop offset="0.67" stop-color="#f1fc06"/><stop offset="0.68" stop-color="#e1ff16"/><stop offset="0.69" stop-color="#d7ff1f"/><stop offset="0.7" stop-color="#d7ff1f"/><stop offset="0.71" stop-color="#f8f500"/><stop offset="0.72" stop-color="#ceff29"/><stop offset="0.73" stop-color="#90ff66"/><stop offset="0.74" stop-color="#4dffaa"/><stop offset="0.75" stop-color="#13fce4"/><stop offset="0.76" stop-color="#00c8ff"/><stop offset="0.77" stop-color="#00c4ff"/><stop offset="0.78" stop-color="#02e8f4"/><stop offset="0.79" stop-color="#1cffdb"/><stop offset="0.8" stop-color="#36ffc1"/><stop offset="0.81" stop-color="#50ffa7"/><stop offset="0.82" stop-color="#6aff8d"/><stop offset="0.83" stop-color="#87ff70"/><stop offset="0.84" stop-color="#ff7a00"/><stop offset="0.85" stop-color="#a4ff53"/><stop offset="0.86" stop-color="#ff6f00"/><stop offset="0.87" stop-color="#800000"/><stop offset="0.88" stop-color="#800000"/><stop offset="0.89" stop-color="#800000"/><stop offset="0.9" stop-color="#800000"/><stop offset="0.91" stop-color="#800000"/><stop offset="0.92" stop-color="#800000"/><stop offset="0.93" stop-color="#800000"/><stop offset="0.94" stop-color="#800000"/><stop offset="0.95" stop-color="#800000"/><stop offset="0.96" stop-color="#800000"/><stop offset="0.97" stop-color="#800000"/><stop offset="0.98" stop-color="#800000"/><stop offset="0.99" stop-color="#800000"/><stop offset="1" stop-color="#800000"/></linearGradient>
<linearGradient id="g_fs" x1="0" y1="0" x2="0" y2="1"><stop offset="0" stop-color="#9dff5a"/><stop offset="0.01" stop-color="#9dff5a"/><stop offset="0.02" stop-color="#9dff5a"/><stop offset="0.03" stop-color="#9dff5a"/><stop offset="0.03" stop-color="#9dff5a"/><stop offset="0.04" stop-color="#9dff5a"/><stop offset="0.05" stop-color="#9dff5a"/><stop offset="0.06" stop-color="#9dff5a"/><stop offset="0.07" stop-color="#9dff5a"/><stop offset="0.07" stop-color="#9dff5a"/><stop offset="0.08" stop-color="#9dff5a"/><stop offset="0.09" stop-color="#a7ff50"/><stop offset="0.1" stop-color="#b1ff46"/><stop offset="0.11" stop-color="#baff3c"/><stop offset="0.12" stop-color="#b7ff40"/><stop offset="0.12" stop-color="#b1ff46"/><stop offset="0.13" stop-color="#aaff4d"/><stop offset="0.14" stop-color="#a0ff56"/><stop offset="0.15" stop-color="#9dff5a"/><stop offset="0.16" stop-color="#97ff60"/><stop offset="0.17" stop-color="#90ff66"/><stop offset="0.17" stop-color="#90ff66"/><stop offset="0.18" stop-color="#adff49"/><stop offset="0.19" stop-color="#caff2c"/><stop offset="0.2" stop-color="#eeff09"/><stop offset="0.21" stop-color="#ffe600"/><stop offset="0.22" stop-color="#ffe600"/><stop offset="0.23" stop-color="#ff8200"/><stop offset="0.23" stop-color="#ff6c00"/><stop offset="0.24" stop-color="#ff5500"/><stop offset="0.25" stop-color="#ff3f00"/><stop offset="0.26" stop-color="#ff2d00"/><stop offset="0.27" stop-color="#ff2d00"/><stop offset="0.28" stop-color="#ff3f00"/><stop offset="0.28" stop-color="#ff5d00"/><stop offset="0.29" stop-color="#ff8900"/><stop offset="0.3" stop-color="#ffc100"/><stop offset="0.31" stop-color="#f4f802"/><stop offset="0.32" stop-color="#caff2c"/><stop offset="0.33" stop-color="#94ff63"/><stop offset="0.33" stop-color="#adff49"/><stop offset="0.34" stop-color="#adff49"/><stop offset="0.35" stop-color="#97ff60"/><stop offset="0.36" stop-color="#6aff8d"/><stop offset="0.37" stop-color="#66ff90"/><stop offset="0.38" stop-color="#60ff97"/><stop offset="0.38" stop-color="#5dff9a"/><stop offset="0.39" stop-color="#5aff9d"/><stop offset="0.4" stop-color="#56ffa0"/><stop offset="0.41" stop-color="#56ffa0"/><stop offset="0.42" stop-color="#53ffa4"/><stop offset="0.42" stop-color="#53ffa4"/><stop offset="0.43" stop-color="#53ffa4"/><stop offset="0.44" stop-color="#53ffa4"/><stop offset="0.45" stop-color="#53ffa4"/><stop offset="0.46" stop-color="#8dff6a"/><stop offset="0.47" stop-color="#8dff6a"/><stop offset="0.47" stop-color="#8dff6a"/><stop offset="0.48" stop-color="#8dff6a"/><stop offset="0.49" stop-color="#8dff6a"/><stop offset="0.5" stop-color="#8dff6a"/><stop offset="0.51" stop-color="#8dff6a"/><stop offset="0.52" stop-color="#8dff6a"/><stop offset="0.53" stop-color="#87ff70"/><stop offset="0.53" stop-color="#7dff7a"/><stop offset="0.54" stop-color="#70ff87"/><stop offset="0.55" stop-color="#66ff90"/><stop offset="0.56" stop-color="#5dff9a"/><stop offset="0.57" stop-color="#53ffa4"/><stop offset="0.57" stop-color="#49ffad"/><stop offset="0.58" stop-color="#46ffb1"/><stop offset="0.59" stop-color="#46ffb1"/><stop offset="0.6" stop-color="#43ffb4"/><stop offset="0.61" stop-color="#46ffb1"/><stop offset="0.62" stop-color="#56ffa0"/><stop offset="0.62" stop-color="#66ff90"/><stop offset="0.63" stop-color="#73ff83"/><stop offset="0.64" stop-color="#83ff73"/><stop offset="0.65" stop-color="#97ff60"/><stop offset="0.66" stop-color="#aaff4d"/><stop offset="0.67" stop-color="#c4ff33"/><stop offset="0.68" stop-color="#deff19"/><stop offset="0.68" stop-color="#fbf100"/><stop offset="0.69" stop-color="#ffdb00"/><stop offset="0.7" stop-color="#ffc800"/><stop offset="0.71" stop-color="#ffb900"/><stop offset="0.72" stop-color="#ffa700"/><stop offset="0.72" stop-color="#ff9800"/><stop offset="0.73" stop-color="#ff8900"/><stop offset="0.74" stop-color="#ff7a00"/><stop offset="0.75" stop-color="#ff6000"/><stop offset="0.76" stop-color="#ff4700"/><stop offset="0.77" stop-color="#ff3f00"/><stop offset="0.78" stop-color="#ff3b00"/><stop offset="0.78" stop-color="#ff3b00"/><stop offset="0.79" stop-color="#ff3800"/><stop offset="0.8" stop-color="#ff3800"/><stop offset="0.81" stop-color="#ff3b00"/><stop offset="0.82" stop-color="#ff3b00"/><stop offset="0.82" stop-color="#ff3f00"/><stop offset="0.83" stop-color="#ff3f00"/><stop offset="0.84" stop-color="#ff5500"/><stop offset="0.85" stop-color="#ff6800"/><stop offset="0.86" stop-color="#ff7a00"/><stop offset="0.87" stop-color="#ffa300"/><stop offset="0.88" stop-color="#ffcc00"/><stop offset="0.88" stop-color="#fbf100"/><stop offset="0.89" stop-color="#deff19"/><stop offset="0.9" stop-color="#beff39"/><stop offset="0.91" stop-color="#adff49"/><stop offset="0.92" stop-color="#a0ff56"/><stop offset="0.93" stop-color="#90ff66"/><stop offset="0.93" stop-color="#73ff83"/><stop offset="0.94" stop-color="#5dff9a"/><stop offset="0.95" stop-color="#50ffa7"/><stop offset="0.96" stop-color="#5aff9d"/><stop offset="0.97" stop-color="#77ff80"/><stop offset="0.97" stop-color="#90ff66"/><stop offset="0.98" stop-color="#a4ff53"/><stop offset="0.99" stop-color="#aaff4d"/><stop offset="1" stop-color="#adff49"/></linearGradient>
<linearGradient id="g_es" x1="0" y1="0" x2="0" y2="1"><stop offset="0" stop-color="#0054ff"/><stop offset="0.01" stop-color="#0058ff"/><stop offset="0.02" stop-color="#005cff"/><stop offset="0.03" stop-color="#005cff"/><stop offset="0.03" stop-color="#0060ff"/><stop offset="0.04" stop-color="#0060ff"/><stop offset="0.05" stop-color="#0064ff"/><stop offset="0.06" stop-color="#0068ff"/><stop offset="0.07" stop-color="#0068ff"/><stop offset="0.07" stop-color="#0070ff"/><stop offset="0.08" stop-color="#0074ff"/><stop offset="0.09" stop-color="#0078ff"/><stop offset="0.1" stop-color="#007cff"/><stop offset="0.11" stop-color="#0080ff"/><stop offset="0.12" stop-color="#0084ff"/><stop offset="0.12" stop-color="#0088ff"/><stop offset="0.13" stop-color="#008cff"/><stop offset="0.14" stop-color="#0090ff"/><stop offset="0.15" stop-color="#0094ff"/><stop offset="0.16" stop-color="#0098ff"/><stop offset="0.17" stop-color="#0098ff"/><stop offset="0.17" stop-color="#009cff"/><stop offset="0.18" stop-color="#00a4ff"/><stop offset="0.19" stop-color="#00a8ff"/><stop offset="0.2" stop-color="#00b0ff"/><stop offset="0.21" stop-color="#00ccff"/><stop offset="0.22" stop-color="#1cffdb"/><stop offset="0.23" stop-color="#40ffb7"/><stop offset="0.23" stop-color="#63ff94"/><stop offset="0.24" stop-color="#b4ff43"/><stop offset="0.25" stop-color="#ffd700"/><stop offset="0.26" stop-color="#ff9c00"/><stop offset="0.27" stop-color="#ff6000"/><stop offset="0.28" stop-color="#ff7300"/><stop offset="0.28" stop-color="#ff9400"/><stop offset="0.29" stop-color="#ffd000"/><stop offset="0.3" stop-color="#ebff0c"/><stop offset="0.31" stop-color="#c7ff30"/><stop offset="0.32" stop-color="#a7ff50"/><stop offset="0.33" stop-color="#8dff6a"/><stop offset="0.33" stop-color="#73ff83"/><stop offset="0.34" stop-color="#5dff9a"/><stop offset="0.35" stop-color="#49ffad"/><stop offset="0.36" stop-color="#39ffbe"/><stop offset="0.37" stop-color="#29ffce"/><stop offset="0.38" stop-color="#1cffdb"/><stop offset="0.38" stop-color="#13fce4"/><stop offset="0.39" stop-color="#09f0ee"/><stop offset="0.4" stop-color="#00e4f8"/><stop offset="0.41" stop-color="#00d8ff"/><stop offset="0.42" stop-color="#00d4ff"/><stop offset="0.42" stop-color="#00ccff"/><stop offset="0.43" stop-color="#00c4ff"/><stop offset="0.44" stop-color="#00c4ff"/><stop offset="0.45" stop-color="#00c0ff"/><stop offset="0.46" stop-color="#00c0ff"/><stop offset="0.47" stop-color="#00bcff"/><stop offset="0.47" stop-color="#00bcff"/><stop offset="0.48" stop-color="#00bcff"/><stop offset="0.49" stop-color="#00bcff"/><stop offset="0.5" stop-color="#00bcff"/><stop offset="0.51" stop-color="#00bcff"/><stop offset="0.52" stop-color="#00c0ff"/><stop offset="0.53" stop-color="#00c4ff"/><stop offset="0.53" stop-color="#00c4ff"/><stop offset="0.54" stop-color="#00c8ff"/><stop offset="0.55" stop-color="#00ccff"/><stop offset="0.56" stop-color="#00d0ff"/><stop offset="0.57" stop-color="#00d8ff"/><stop offset="0.57" stop-color="#00dcfe"/><stop offset="0.58" stop-color="#09f0ee"/><stop offset="0.59" stop-color="#16ffe1"/><stop offset="0.6" stop-color="#26ffd1"/><stop offset="0.61" stop-color="#40ffb7"/><stop offset="0.62" stop-color="#60ff97"/><stop offset="0.62" stop-color="#80ff77"/><stop offset="0.63" stop-color="#a4ff53"/><stop offset="0.64" stop-color="#caff2c"/><stop offset="0.65" stop-color="#f1fc06"/><stop offset="0.66" stop-color="#ffd300"/><stop offset="0.67" stop-color="#ffab00"/><stop offset="0.68" stop-color="#ff8900"/><stop offset="0.68" stop-color="#ff6400"/><stop offset="0.69" stop-color="#ff3f00"/><stop offset="0.7" stop-color="#ff1a00"/><stop offset="0.71" stop-color="#e40000"/><stop offset="0.72" stop-color="#c40000"/><stop offset="0.72" stop-color="#a80000"/><stop offset="0.73" stop-color="#960000"/><stop offset="0.74" stop-color="#890000"/><stop offset="0.75" stop-color="#800000"/><stop offset="0.76" stop-color="#9b0000"/><stop offset="0.77" stop-color="#bb0000"/><stop offset="0.78" stop-color="#f10800"/><stop offset="0.78" stop-color="#ff4a00"/><stop offset="0.79" stop-color="#ff7300"/><stop offset="0.8" stop-color="#ff8900"/><stop offset="0.81" stop-color="#ff9c00"/><stop offset="0.82" stop-color="#ffa700"/><stop offset="0.82" stop-color="#ffb600"/><stop offset="0.83" stop-color="#ffcc00"/><stop offset="0.84" stop-color="#f8f500"/><stop offset="0.85" stop-color="#baff3c"/><stop offset="0.86" stop-color="#60ff97"/><stop offset="0.87" stop-color="#0ff8e7"/><stop offset="0.88" stop-color="#00b0ff"/><stop offset="0.88" stop-color="#0098ff"/><stop offset="0.89" stop-color="#0084ff"/><stop offset="0.9" stop-color="#0078ff"/><stop offset="0.91" stop-color="#006cff"/><stop offset="0.92" stop-color="#0068ff"/><stop offset="0.93" stop-color="#0068ff"/><stop offset="0.93" stop-color="#0068ff"/><stop offset="0.94" stop-color="#0068ff"/><stop offset="0.95" stop-color="#0068ff"/><stop offset="0.96" stop-color="#0068ff"/><stop offset="0.97" stop-color="#0068ff"/><stop offset="0.97" stop-color="#0068ff"/><stop offset="0.98" stop-color="#0068ff"/><stop offset="0.99" stop-color="#0068ff"/><stop offset="1" stop-color="#0068ff"/></linearGradient>
<clipPath id="cp_a"><rect x="41.85" y="14.45" width="246.4" height="238"/></clipPath>
<clipPath id="cp_b"><rect x="372" y="14.45" width="246.5" height="238"/></clipPath>
<clipPath id="cp_c"><rect x="41.85" y="306.45" width="246.4" height="238"/></clipPath>
<clipPath id="cp_d"><rect x="372" y="306.45" width="246.5" height="238"/></clipPath>
<clipPath id="cp_e"><rect x="43" y="602.45" width="224.8" height="300"/></clipPath>
<clipPath id="cp_f"><rect x="384.5" y="602.45" width="225" height="300"/></clipPath>
</defs>
<g clip-path="url(#cp_a)">
<rect x="41.85" y="57.6" width="246.4" height="8.9" fill="url(#g_a_dmsp)"/>
<circle cx="37.91" cy="62.05" r="4.45" fill="#0074ff"/><circle cx="39.88" cy="62.05" r="4.45" fill="#0074ff"/><circle cx="41.85" cy="62.05" r="4.45" fill="#0074ff"/><circle cx="43.82" cy="62.05" r="4.45" fill="#0074ff"/><circle cx="45.79" cy="62.05" r="4.45" fill="#0074ff"/><circle cx="47.76" cy="62.05" r="4.45" fill="#0074ff"/><circle cx="49.73" cy="62.05" r="4.45" fill="#0078ff"/><circle cx="51.71" cy="62.05" r="4.45" fill="#0078ff"/><circle cx="53.68" cy="62.05" r="4.45" fill="#007cff"/><circle cx="55.65" cy="62.05" r="4.45" fill="#007cff"/><circle cx="57.62" cy="62.05" r="4.45" fill="#007cff"/><circle cx="59.59" cy="62.05" r="4.45" fill="#0080ff"/><circle cx="61.56" cy="62.05" r="4.45" fill="#0080ff"/><circle cx="63.53" cy="62.05" r="4.45" fill="#0084ff"/><circle cx="65.5" cy="62.05" r="4.45" fill="#0084ff"/><circle cx="67.48" cy="62.05" r="4.45" fill="#0088ff"/><circle cx="69.45" cy="62.05" r="4.45" fill="#0088ff"/><circle cx="71.42" cy="62.05" r="4.45" fill="#008cff"/><circle cx="73.39" cy="62.05" r="4.45" fill="#008cff"/><circle cx="75.36" cy="62.05" r="4.45" fill="#0090ff"/><circle cx="77.33" cy="62.05" r="4.45" fill="#0094ff"/><circle cx="79.3" cy="62.05" r="4.45" fill="#0098ff"/><circle cx="81.27" cy="62.05" r="4.45" fill="#009cff"/><circle cx="83.25" cy="62.05" r="4.45" fill="#00a0ff"/><circle cx="85.22" cy="62.05" r="4.45" fill="#00a4ff"/><circle cx="87.19" cy="62.05" r="4.45" fill="#00a8ff"/><circle cx="89.16" cy="62.05" r="4.45" fill="#00acff"/><circle cx="91.13" cy="62.05" r="4.45" fill="#00b4ff"/><circle cx="93.1" cy="62.05" r="4.45" fill="#00b8ff"/><circle cx="95.07" cy="62.05" r="4.45" fill="#00bcff"/><circle cx="97.04" cy="62.05" r="4.45" fill="#00c4ff"/><circle cx="99.01" cy="62.05" r="4.45" fill="#00ccff"/><circle cx="100.99" cy="62.05" r="4.45" fill="#00d0ff"/><circle cx="102.96" cy="62.05" r="4.45" fill="#00d8ff"/><circle cx="104.93" cy="62.05" r="4.45" fill="#00dcfe"/><circle cx="106.9" cy="62.05" r="4.45" fill="#00e4f8"/><circle cx="108.87" cy="62.05" r="4.45" fill="#06ecf1"/><circle cx="110.84" cy="62.05" r="4.45" fill="#09f0ee"/><circle cx="112.81" cy="62.05" r="4.45" fill="#0ff8e7"/><circle cx="114.78" cy="62.05" r="4.45" fill="#16ffe1"/><circle cx="116.76" cy="62.05" r="4.45" fill="#19ffde"/><circle cx="118.73" cy="62.05" r="4.45" fill="#1fffd7"/><circle cx="120.7" cy="62.05" r="4.45" fill="#26ffd1"/><circle cx="122.67" cy="62.05" r="4.45" fill="#29ffce"/><circle cx="124.64" cy="62.05" r="4.45" fill="#30ffc7"/><circle cx="126.61" cy="62.05" r="4.45" fill="#33ffc4"/><circle cx="128.58" cy="62.05" r="4.45" fill="#39ffbe"/><circle cx="130.55" cy="62.05" r="4.45" fill="#40ffb7"/><circle cx="132.53" cy="62.05" r="4.45" fill="#43ffb4"/><circle cx="134.5" cy="62.05" r="4.45" fill="#46ffb1"/><circle cx="136.47" cy="62.05" r="4.45" fill="#4dffaa"/><circle cx="138.44" cy="62.05" r="4.45" fill="#50ffa7"/><circle cx="140.41" cy="62.05" r="4.45" fill="#53ffa4"/><circle cx="142.38" cy="62.05" r="4.45" fill="#56ffa0"/><circle cx="144.35" cy="62.05" r="4.45" fill="#5aff9d"/><circle cx="146.32" cy="62.05" r="4.45" fill="#5dff9a"/><circle cx="148.29" cy="62.05" r="4.45" fill="#60ff97"/><circle cx="150.27" cy="62.05" r="4.45" fill="#63ff94"/><circle cx="152.24" cy="62.05" r="4.45" fill="#66ff90"/><circle cx="154.21" cy="62.05" r="4.45" fill="#6aff8d"/><circle cx="156.18" cy="62.05" r="4.45" fill="#6aff8d"/><circle cx="158.15" cy="62.05" r="4.45" fill="#6dff8a"/><circle cx="160.12" cy="62.05" r="4.45" fill="#6dff8a"/><circle cx="162.09" cy="62.05" r="4.45" fill="#70ff87"/><circle cx="164.06" cy="62.05" r="4.45" fill="#70ff87"/><circle cx="166.04" cy="62.05" r="4.45" fill="#70ff87"/><circle cx="168.01" cy="62.05" r="4.45" fill="#73ff83"/><circle cx="169.98" cy="62.05" r="4.45" fill="#73ff83"/><circle cx="171.95" cy="62.05" r="4.45" fill="#73ff83"/><circle cx="173.92" cy="62.05" r="4.45" fill="#77ff80"/><circle cx="175.89" cy="62.05" r="4.45" fill="#77ff80"/><circle cx="177.86" cy="62.05" r="4.45" fill="#77ff80"/><circle cx="179.83" cy="62.05" r="4.45" fill="#77ff80"/><circle cx="181.81" cy="62.05" r="4.45" fill="#77ff80"/><circle cx="183.78" cy="62.05" r="4.45" fill="#7aff7d"/><circle cx="185.75" cy="62.05" r="4.45" fill="#7aff7d"/><circle cx="187.72" cy="62.05" r="4.45" fill="#7aff7d"/><circle cx="189.69" cy="62.05" r="4.45" fill="#7aff7d"/><circle cx="191.66" cy="62.05" r="4.45" fill="#7aff7d"/><circle cx="193.63" cy="62.05" r="4.45" fill="#7dff7a"/><circle cx="195.6" cy="62.05" r="4.45" fill="#7dff7a"/><circle cx="197.57" cy="62.05" r="4.45" fill="#7dff7a"/><circle cx="199.55" cy="62.05" r="4.45" fill="#7dff7a"/><circle cx="201.52" cy="62.05" r="4.45" fill="#7dff7a"/><circle cx="203.49" cy="62.05" r="4.45" fill="#80ff77"/><circle cx="205.46" cy="62.05" r="4.45" fill="#80ff77"/><circle cx="207.43" cy="62.05" r="4.45" fill="#80ff77"/><circle cx="209.4" cy="62.05" r="4.45" fill="#80ff77"/><circle cx="211.37" cy="62.05" r="4.45" fill="#80ff77"/><circle cx="213.34" cy="62.05" r="4.45" fill="#83ff73"/><circle cx="215.32" cy="62.05" r="4.45" fill="#83ff73"/><circle cx="217.29" cy="62.05" r="4.45" fill="#83ff73"/><circle cx="219.26" cy="62.05" r="4.45" fill="#83ff73"/><circle cx="221.23" cy="62.05" r="4.45" fill="#83ff73"/><circle cx="223.2" cy="62.05" r="4.45" fill="#80ff77"/><circle cx="225.17" cy="62.05" r="4.45" fill="#80ff77"/><circle cx="227.14" cy="62.05" r="4.45" fill="#80ff77"/><circle cx="229.11" cy="62.05" r="4.45" fill="#80ff77"/><circle cx="231.09" cy="62.05" r="4.45" fill="#80ff77"/><circle cx="233.06" cy="62.05" r="4.45" fill="#7dff7a"/><circle cx="235.03" cy="62.05" r="4.45" fill="#7dff7a"/><circle cx="237" cy="62.05" r="4.45" fill="#7dff7a"/><circle cx="238.97" cy="62.05" r="4.45" fill="#7dff7a"/><circle cx="240.94" cy="62.05" r="4.45" fill="#7dff7a"/><circle cx="242.91" cy="62.05" r="4.45" fill="#7aff7d"/><circle cx="244.88" cy="62.05" r="4.45" fill="#7aff7d"/><circle cx="246.85" cy="62.05" r="4.45" fill="#7aff7d"/><circle cx="248.83" cy="62.05" r="4.45" fill="#77ff80"/><circle cx="250.8" cy="62.05" r="4.45" fill="#77ff80"/><circle cx="252.77" cy="62.05" r="4.45" fill="#73ff83"/><circle cx="254.74" cy="62.05" r="4.45" fill="#73ff83"/><circle cx="256.71" cy="62.05" r="4.45" fill="#73ff83"/><circle cx="258.68" cy="62.05" r="4.45" fill="#70ff87"/><circle cx="260.65" cy="62.05" r="4.45" fill="#70ff87"/><circle cx="262.62" cy="62.05" r="4.45" fill="#6dff8a"/><circle cx="264.6" cy="62.05" r="4.45" fill="#6dff8a"/><circle cx="266.57" cy="62.05" r="4.45" fill="#6aff8d"/><circle cx="268.54" cy="62.05" r="4.45" fill="#6aff8d"/><circle cx="270.51" cy="62.05" r="4.45" fill="#6aff8d"/><circle cx="272.48" cy="62.05" r="4.45" fill="#6aff8d"/><circle cx="274.45" cy="62.05" r="4.45" fill="#6aff8d"/><circle cx="276.42" cy="62.05" r="4.45" fill="#66ff90"/><circle cx="278.39" cy="62.05" r="4.45" fill="#66ff90"/><circle cx="280.37" cy="62.05" r="4.45" fill="#66ff90"/><circle cx="282.34" cy="62.05" r="4.45" fill="#66ff90"/><circle cx="284.31" cy="62.05" r="4.45" fill="#66ff90"/><circle cx="286.28" cy="62.05" r="4.45" fill="#63ff94"/><circle cx="288.25" cy="62.05" r="4.45" fill="#63ff94"/><circle cx="290.22" cy="62.05" r="4.45" fill="#63ff94"/><circle cx="292.19" cy="62.05" r="4.45" fill="#63ff94"/>
<rect x="41.85" y="164.85" width="246.4" height="8.9" fill="url(#g_a_swarm)"/>
<circle cx="37.91" cy="169.3" r="4.45" fill="#43ffb4"/><circle cx="39.88" cy="169.3" r="4.45" fill="#43ffb4"/><circle cx="41.85" cy="169.3" r="4.45" fill="#43ffb4"/><circle cx="43.82" cy="169.3" r="4.45" fill="#43ffb4"/><circle cx="45.79" cy="169.3" r="4.45" fill="#43ffb4"/><circle cx="47.76" cy="169.3" r="4.45" fill="#43ffb4"/><circle cx="49.73" cy="169.3" r="4.45" fill="#46ffb1"/><circle cx="51.71" cy="169.3" r="4.45" fill="#46ffb1"/><circle cx="53.68" cy="169.3" r="4.45" fill="#46ffb1"/><circle cx="55.65" cy="169.3" r="4.45" fill="#49ffad"/><circle cx="57.62" cy="169.3" r="4.45" fill="#49ffad"/><circle cx="59.59" cy="169.3" r="4.45" fill="#4dffaa"/><circle cx="61.56" cy="169.3" r="4.45" fill="#4dffaa"/><circle cx="63.53" cy="169.3" r="4.45" fill="#50ffa7"/><circle cx="65.5" cy="169.3" r="4.45" fill="#50ffa7"/><circle cx="67.48" cy="169.3" r="4.45" fill="#50ffa7"/><circle cx="69.45" cy="169.3" r="4.45" fill="#53ffa4"/><circle cx="71.42" cy="169.3" r="4.45" fill="#5aff9d"/><circle cx="73.39" cy="169.3" r="4.45" fill="#60ff97"/><circle cx="75.36" cy="169.3" r="4.45" fill="#63ff94"/><circle cx="77.33" cy="169.3" r="4.45" fill="#6aff8d"/><circle cx="79.3" cy="169.3" r="4.45" fill="#70ff87"/><circle cx="81.27" cy="169.3" r="4.45" fill="#77ff80"/><circle cx="83.25" cy="169.3" r="4.45" fill="#7aff7d"/><circle cx="85.22" cy="169.3" r="4.45" fill="#80ff77"/><circle cx="87.19" cy="169.3" r="4.45" fill="#87ff70"/><circle cx="89.16" cy="169.3" r="4.45" fill="#8dff6a"/><circle cx="91.13" cy="169.3" r="4.45" fill="#90ff66"/><circle cx="93.1" cy="169.3" r="4.45" fill="#97ff60"/><circle cx="95.07" cy="169.3" r="4.45" fill="#9aff5d"/><circle cx="97.04" cy="169.3" r="4.45" fill="#a0ff56"/><circle cx="99.01" cy="169.3" r="4.45" fill="#a4ff53"/><circle cx="100.99" cy="169.3" r="4.45" fill="#aaff4d"/><circle cx="102.96" cy="169.3" r="4.45" fill="#adff49"/><circle cx="104.93" cy="169.3" r="4.45" fill="#b4ff43"/><circle cx="106.9" cy="169.3" r="4.45" fill="#beff39"/><circle cx="108.87" cy="169.3" r="4.45" fill="#c4ff33"/><circle cx="110.84" cy="169.3" r="4.45" fill="#ceff29"/><circle cx="112.81" cy="169.3" r="4.45" fill="#d7ff1f"/><circle cx="114.78" cy="169.3" r="4.45" fill="#e1ff16"/><circle cx="116.76" cy="169.3" r="4.45" fill="#e7ff0f"/><circle cx="118.73" cy="169.3" r="4.45" fill="#f1fc06"/><circle cx="120.7" cy="169.3" r="4.45" fill="#fbf100"/><circle cx="122.67" cy="169.3" r="4.45" fill="#ffe600"/><circle cx="124.64" cy="169.3" r="4.45" fill="#ffe200"/><circle cx="126.61" cy="169.3" r="4.45" fill="#ffde00"/><circle cx="128.58" cy="169.3" r="4.45" fill="#ffde00"/><circle cx="130.55" cy="169.3" r="4.45" fill="#ffde00"/><circle cx="132.53" cy="169.3" r="4.45" fill="#ffdb00"/><circle cx="134.5" cy="169.3" r="4.45" fill="#ffdb00"/><circle cx="136.47" cy="169.3" r="4.45" fill="#ffdb00"/><circle cx="138.44" cy="169.3" r="4.45" fill="#ffd700"/><circle cx="140.41" cy="169.3" r="4.45" fill="#ffd300"/><circle cx="142.38" cy="169.3" r="4.45" fill="#ffd000"/><circle cx="144.35" cy="169.3" r="4.45" fill="#ffcc00"/><circle cx="146.32" cy="169.3" r="4.45" fill="#ffc800"/><circle cx="148.29" cy="169.3" r="4.45" fill="#ffc400"/><circle cx="150.27" cy="169.3" r="4.45" fill="#ffc100"/><circle cx="152.24" cy="169.3" r="4.45" fill="#ffbd00"/><circle cx="154.21" cy="169.3" r="4.45" fill="#ffb900"/><circle cx="156.18" cy="169.3" r="4.45" fill="#ffb600"/><circle cx="158.15" cy="169.3" r="4.45" fill="#ffb200"/><circle cx="160.12" cy="169.3" r="4.45" fill="#ffae00"/><circle cx="162.09" cy="169.3" r="4.45" fill="#ffab00"/><circle cx="164.06" cy="169.3" r="4.45" fill="#ffab00"/><circle cx="166.04" cy="169.3" r="4.45" fill="#ffae00"/><circle cx="168.01" cy="169.3" r="4.45" fill="#ffb200"/><circle cx="169.98" cy="169.3" r="4.45" fill="#ffb600"/><circle cx="171.95" cy="169.3" r="4.45" fill="#ffbd00"/><circle cx="173.92" cy="169.3" r="4.45" fill="#ffc100"/><circle cx="175.89" cy="169.3" r="4.45" fill="#ffc800"/><circle cx="177.86" cy="169.3" r="4.45" fill="#ffcc00"/><circle cx="179.83" cy="169.3" r="4.45" fill="#ffd000"/><circle cx="181.81" cy="169.3" r="4.45" fill="#ffcc00"/><circle cx="183.78" cy="169.3" r="4.45" fill="#ffcc00"/><circle cx="185.75" cy="169.3" r="4.45" fill="#ffc800"/><circle cx="187.72" cy="169.3" r="4.45" fill="#ffc800"/><circle cx="189.69" cy="169.3" r="4.45" fill="#ffc400"/><circle cx="191.66" cy="169.3" r="4.45" fill="#ffc100"/><circle cx="193.63" cy="169.3" r="4.45" fill="#ffbd00"/><circle cx="195.6" cy="169.3" r="4.45" fill="#ffb900"/><circle cx="197.57" cy="169.3" r="4.45" fill="#ffb600"/><circle cx="199.55" cy="169.3" r="4.45" fill="#ffb200"/><circle cx="201.52" cy="169.3" r="4.45" fill="#ffae00"/><circle cx="203.49" cy="169.3" r="4.45" fill="#ffab00"/><circle cx="205.46" cy="169.3" r="4.45" fill="#ffae00"/><circle cx="207.43" cy="169.3" r="4.45" fill="#ffb200"/><circle cx="209.4" cy="169.3" r="4.45" fill="#ffb600"/><circle cx="211.37" cy="169.3" r="4.45" fill="#ffb900"/><circle cx="213.34" cy="169.3" r="4.45" fill="#ffbd00"/><circle cx="215.32" cy="169.3" r="4.45" fill="#ffc100"/><circle cx="217.29" cy="169.3" r="4.45" fill="#ffc100"/><circle cx="219.26" cy="169.3" r="4.45" fill="#ffc400"/><circle cx="221.23" cy="169.3" r="4.45" fill="#ffc800"/><circle cx="223.2" cy="169.3" r="4.45" fill="#ffc800"/><circle cx="225.17" cy="169.3" r="4.45" fill="#ffcc00"/><circle cx="227.14" cy="169.3" r="4.45" fill="#ffcc00"/><circle cx="229.11" cy="169.3" r="4.45" fill="#ffd000"/><circle cx="231.09" cy="169.3" r="4.45" fill="#ffd300"/><circle cx="233.06" cy="169.3" r="4.45" fill="#ffd700"/><circle cx="235.03" cy="169.3" r="4.45" fill="#ffd700"/><circle cx="237" cy="169.3" r="4.45" fill="#ffdb00"/><circle cx="238.97" cy="169.3" r="4.45" fill="#ffde00"/><circle cx="240.94" cy="169.3" r="4.45" fill="#ffe200"/><circle cx="242.91" cy="169.3" r="4.45" fill="#ffe200"/><circle cx="244.88" cy="169.3" r="4.45" fill="#ffe600"/><circle cx="246.85" cy="169.3" r="4.45" fill="#ffea00"/><circle cx="248.83" cy="169.3" r="4.45" fill="#feed00"/><circle cx="250.8" cy="169.3" r="4.45" fill="#fbf100"/><circle cx="252.77" cy="169.3" r="4.45" fill="#f8f500"/><circle cx="254.74" cy="169.3" r="4.45" fill="#f4f802"/><circle cx="256.71" cy="169.3" r="4.45" fill="#f1fc06"/><circle cx="258.68" cy="169.3" r="4.45" fill="#eeff09"/><circle cx="260.65" cy="169.3" r="4.45" fill="#ebff0c"/><circle cx="262.62" cy="169.3" r="4.45" fill="#e7ff0f"/><circle cx="264.6" cy="169.3" r="4.45" fill="#e4ff13"/><circle cx="266.57" cy="169.3" r="4.45" fill="#e4ff13"/><circle cx="268.54" cy="169.3" r="4.45" fill="#e1ff16"/><circle cx="270.51" cy="169.3" r="4.45" fill="#deff19"/><circle cx="272.48" cy="169.3" r="4.45" fill="#dbff1c"/><circle cx="274.45" cy="169.3" r="4.45" fill="#dbff1c"/><circle cx="276.42" cy="169.3" r="4.45" fill="#d7ff1f"/><circle cx="278.39" cy="169.3" r="4.45" fill="#d7ff1f"/><circle cx="280.37" cy="169.3" r="4.45" fill="#d4ff23"/><circle cx="282.34" cy="169.3" r="4.45" fill="#d4ff23"/><circle cx="284.31" cy="169.3" r="4.45" fill="#d1ff26"/><circle cx="286.28" cy="169.3" r="4.45" fill="#d1ff26"/><circle cx="288.25" cy="169.3" r="4.45" fill="#d1ff26"/><circle cx="290.22" cy="169.3" r="4.45" fill="#ceff29"/><circle cx="292.19" cy="169.3" r="4.45" fill="#ceff29"/>
<path d="M111.33 252.45 111.93 245.01 112.52 237.57 113.13 230.14 113.74 222.7 114.36 215.26 114.99 207.82 115.62 200.39 116.27 192.95 116.92 185.51 117.59 178.07 118.27 170.64 118.95 163.2 119.65 155.76 120.36 148.32 121.08 140.89 121.82 133.45 122.57 126.01 123.34 118.57 124.12 111.14 124.93 103.7 125.75 96.26 126.59 88.82 127.46 81.39 128.34 73.95 129.26 66.51 130.21 59.07 131.18 51.64 132.2 44.2 133.25 36.76 134.35 29.32 135.5 21.89 136.71 14.45M211.87 252.45 211.16 245.01 210.45 237.57 209.73 230.14 209 222.7 208.26 215.26 207.52 207.82 206.77 200.39 206.01 192.95 205.24 185.51 204.46 178.07 203.66 170.64 202.86 163.2 202.05 155.76 201.22 148.32 200.38 140.89 199.53 133.45 198.66 126.01 197.78 118.57 196.88 111.14 195.96 103.7 195.03 96.26 194.07 88.82 193.09 81.39 192.08 73.95 191.05 66.51 189.99 59.07 188.9 51.64 187.77 44.2 186.6 36.76 185.39 29.32 184.12 21.89 182.79 14.45M96.06 252.45 96.54 245.01 97.03 237.57 97.52 230.14 98.01 222.7 98.51 215.26 99 207.82 99.51 200.39 100.01 192.95 100.52 185.51 101.04 178.07 101.55 170.64 102.07 163.2 102.6 155.76 103.13 148.32 103.66 140.89 104.2 133.45 104.74 126.01 105.29 118.57 105.84 111.14 106.4 103.7 106.96 96.26 107.53 88.82 108.1 81.39 108.68 73.95 109.26 66.51 109.86 59.07 110.45 51.64 111.06 44.2 111.67 36.76 112.29 29.32 112.92 21.89 113.55 14.45M224.68 252.45 224.13 245.01 223.57 237.57 223.01 230.14 222.45 222.7 221.88 215.26 221.32 207.82 220.74 200.39 220.17 192.95 219.59 185.51 219.01 178.07 218.42 170.64 217.83 163.2 217.24 155.76 216.64 148.32 216.04 140.89 215.43 133.45 214.82 126.01 214.2 118.57 213.58 111.14 212.95 103.7 212.32 96.26 211.69 88.82 211.04 81.39 210.39 73.95 209.74 66.51 209.08 59.07 208.41 51.64 207.74 44.2 207.06 36.76 206.37 29.32 205.67 21.89 204.97 14.45M79.3 252.45 79.72 245.01 80.14 237.57 80.56 230.14 80.98 222.7 81.4 215.26 81.83 207.82 82.25 200.39 82.68 192.95 83.11 185.51 83.54 178.07 83.97 170.64 84.4 163.2 84.84 155.76 85.27 148.32 85.71 140.89 86.15 133.45 86.59 126.01 87.04 118.57 87.48 111.14 87.93 103.7 88.38 96.26 88.83 88.82 89.29 81.39 89.74 73.95 90.2 66.51 90.66 59.07 91.12 51.64 91.59 44.2 92.05 36.76 92.52 29.32 93 21.89 93.47 14.45M237.25 252.45 236.8 245.01 236.36 237.57 235.91 230.14 235.46 222.7 235.01 215.26 234.56 207.82 234.11 200.39 233.65 192.95 233.2 185.51 232.74 178.07 232.28 170.64 231.82 163.2 231.36 155.76 230.9 148.32 230.43 140.89 229.96 133.45 229.5 126.01 229.02 118.57 228.55 111.14 228.08 103.7 227.6 96.26 227.12 88.82 226.64 81.39 226.16 73.95 225.67 66.51 225.19 59.07 224.7 51.64 224.21 44.2 223.71 36.76 223.22 29.32 222.72 21.89 222.21 14.45M61.56 252.45 61.92 245.01 62.28 237.57 62.64 230.14 63.01 222.7 63.37 215.26 63.73 207.82 64.1 200.39 64.46 192.95 64.82 185.51 65.19 178.07 65.55 170.64 65.92 163.2 66.29 155.76 66.66 148.32 67.02 140.89 67.39 133.45 67.76 126.01 68.13 118.57 68.5 111.14 68.87 103.7 69.25 96.26 69.62 88.82 69.99 81.39 70.37 73.95 70.74 66.51 71.12 59.07 71.49 51.64 71.87 44.2 72.25 36.76 72.63 29.32 73.01 21.89 73.39 14.45M249.57 252.45 249.22 245.01 248.87 237.57 248.52 230.14 248.17 222.7 247.82 215.26 247.46 207.82 247.11 200.39 246.76 192.95 246.41 185.51 246.05 178.07 245.7 170.64 245.35 163.2 244.99 155.76 244.63 148.32 244.28 140.89 243.92 133.45 243.56 126.01 243.2 118.57 242.84 111.14 242.48 103.7 242.12 96.26 241.76 88.82 241.4 81.39 241.04 73.95 240.67 66.51 240.31 59.07 239.95 51.64 239.58 44.2 239.21 36.76 238.85 29.32 238.48 21.89 238.11 14.45M41.85 252.45 42.19 245.01 42.54 237.57 42.88 230.14 43.22 222.7 43.57 215.26 43.91 207.82 44.26 200.39 44.6 192.95 44.94 185.51 45.29 178.07 45.63 170.64 45.98 163.2 46.32 155.76 46.67 148.32 47.02 140.89 47.36 133.45 47.71 126.01 48.06 118.57 48.4 111.14 48.75 103.7 49.1 96.26 49.44 88.82 49.79 81.39 50.14 73.95 50.49 66.51 50.84 59.07 51.19 51.64 51.54 44.2 51.89 36.76 52.24 29.32 52.59 21.89 52.94 14.45M262.38 252.45 262.08 245.01 261.78 237.57 261.49 230.14 261.19 222.7 260.89 215.26 260.59 207.82 260.3 200.39 260 192.95 259.7 185.51 259.4 178.07 259.1 170.64 258.8 163.2 258.5 155.76 258.2 148.32 257.9 140.89 257.61 133.45 257.3 126.01 257 118.57 256.7 111.14 256.4 103.7 256.1 96.26 255.8 88.82 255.5 81.39 255.2 73.95 254.89 66.51 254.59 59.07 254.29 51.64 253.99 44.2 253.68 36.76 253.38 29.32 253.07 21.89 252.77 14.45M21.15 252.45 21.49 245.01 21.83 237.57 22.17 230.14 22.51 222.7 22.85 215.26 23.19 207.82 23.52 200.39 23.86 192.95 24.2 185.51 24.54 178.07 24.88 170.64 25.22 163.2 25.56 155.76 25.89 148.32 26.23 140.89 26.57 133.45 26.91 126.01 27.25 118.57 27.59 111.14 27.93 103.7 28.26 96.26 28.6 88.82 28.94 81.39 29.28 73.95 29.62 66.51 29.96 59.07 30.3 51.64 30.64 44.2 30.98 36.76 31.32 29.32 31.65 21.89 31.99 14.45M274.7 252.45 274.47 245.01 274.24 237.57 274 230.14 273.77 222.7 273.54 215.26 273.31 207.82 273.08 200.39 272.85 192.95 272.62 185.51 272.39 178.07 272.16 170.64 271.93 163.2 271.7 155.76 271.47 148.32 271.23 140.89 271 133.45 270.77 126.01 270.54 118.57 270.31 111.14 270.08 103.7 269.85 96.26 269.62 88.82 269.39 81.39 269.16 73.95 268.93 66.51 268.69 59.07 268.46 51.64 268.23 44.2 268 36.76 267.77 29.32 267.54 21.89 267.31 14.45M150.51 252.45 150.72 252.06 150.92 251.68 151.13 251.31 151.33 250.95 151.54 250.6 151.74 250.26 151.95 249.92 152.15 249.6 152.35 249.29 152.55 248.99 152.75 248.7 152.96 248.42 153.16 248.14 153.36 247.88 153.56 247.63 153.75 247.39 153.95 247.16 154.15 246.93 154.35 246.72 154.55 246.52 154.74 246.32 154.94 246.14 155.14 245.97 155.33 245.8 155.53 245.65 155.72 245.51 155.92 245.37 156.11 245.25 156.3 245.14 156.5 245.03 156.69 244.94 156.88 244.85 157.07 244.78 157.26 244.71 157.45 244.66 157.64 244.62 157.83 244.58 158.02 244.56 158.21 244.54 158.4 244.54 158.58 244.54 158.77 244.56 158.96 244.58 159.15 244.62 159.33 244.66 159.52 244.71 159.7 244.78 159.89 244.85 160.07 244.94 160.25 245.03 160.44 245.14 160.62 245.25 160.8 245.37 160.98 245.51 161.16 245.65 161.34 245.8 161.52 245.97 161.7 246.14 161.88 246.32 162.06 246.52 162.24 246.72 162.42 246.93 162.6 247.16 162.77 247.39 162.95 247.63 163.13 247.88 163.3 248.14 163.48 248.42 163.65 248.7 163.83 248.99 164 249.29 164.17 249.6 164.35 249.92 164.52 250.26 164.69 250.6 164.86 250.95 165.03 251.31 165.2 251.68 165.37 252.06 165.54 252.45M136.22 252.45 136.79 249.14 137.37 245.9 137.94 242.75 138.52 239.68 139.1 236.69 139.67 233.78 140.25 230.95 140.83 228.21 141.41 225.55 141.99 222.96 142.57 220.47 143.15 218.05 143.74 215.72 144.32 213.47 144.9 211.3 145.49 209.22 146.07 207.22 146.66 205.3 147.25 203.47 147.83 201.72 148.42 200.06 149.01 198.48 149.6 196.99 150.19 195.58 150.78 194.25 151.38 193.01 151.97 191.86 152.56 190.79 153.16 189.8 153.75 188.9 154.35 188.09 154.95 187.36 155.55 186.72 156.14 186.16 156.74 185.69 157.34 185.31 157.94 185.01 158.55 184.79 159.15 184.66 159.75 184.62 160.36 184.66 160.96 184.79 161.57 185.01 162.17 185.31 162.78 185.69 163.39 186.16 164 186.72 164.61 187.36 165.22 188.09 165.83 188.9 166.44 189.8 167.05 190.79 167.67 191.86 168.28 193.01 168.9 194.25 169.51 195.58 170.13 196.99 170.74 198.48 171.36 200.06 171.98 201.72 172.6 203.47 173.22 205.3 173.84 207.22 174.46 209.22 175.09 211.3 175.71 213.47 176.33 215.72 176.96 218.05 177.58 220.47 178.21 222.96 178.84 225.55 179.47 228.21 180.09 230.95 180.72 233.78 181.35 236.69 181.98 239.68 182.62 242.75 183.25 245.9 183.88 249.14 184.52 252.45M123.78 252.45 124.65 244.62 125.52 236.96 126.39 229.49 127.26 222.19 128.13 215.08 129.01 208.16 129.89 201.42 130.76 194.86 131.64 188.5 132.53 182.32 133.41 176.33 134.29 170.54 135.18 164.94 136.07 159.53 136.96 154.32 137.85 149.3 138.74 144.48 139.64 139.86 140.54 135.44 141.43 131.21 142.33 127.19 143.23 123.37 144.14 119.75 145.04 116.34 145.95 113.13 146.86 110.12 147.77 107.32 148.68 104.72 149.59 102.33 150.51 100.14 151.42 98.16 152.34 96.39 153.26 94.83 154.18 93.47 155.11 92.33 156.03 91.39 156.96 90.66 157.89 90.14 158.82 89.82 159.75 89.72 160.69 89.82 161.62 90.14 162.56 90.66 163.5 91.39 164.44 92.33 165.38 93.47 166.33 94.83 167.27 96.39 168.22 98.16 169.17 100.14 170.12 102.33 171.08 104.72 172.03 107.32 172.99 110.12 173.95 113.13 174.91 116.34 175.87 119.75 176.83 123.37 177.8 127.19 178.76 131.21 179.73 135.44 180.7 139.86 181.67 144.48 182.65 149.3 183.62 154.32 184.6 159.53 185.58 164.94 186.56 170.54 187.54 176.33 188.52 182.32 189.51 188.5 190.49 194.86 191.48 201.42 192.47 208.16 193.46 215.08 194.45 222.19 195.45 229.49 196.44 236.96 197.44 244.62 198.44 252.45" fill="none" stroke="#000" stroke-width="0.55"/>
</g>
<rect x="41.85" y="14.45" width="246.4" height="238" fill="none" stroke="#000" stroke-width="0.7"/>
<text x="66.49" y="264.55" font-size="8.15" text-anchor="middle" fill="#000">&#x2212;40</text>
<text x="115.77" y="264.55" font-size="8.15" text-anchor="middle" fill="#000">&#x2212;20</text>
<text x="165.05" y="264.55" font-size="8.15" text-anchor="middle" fill="#000">0</text>
<text x="214.33" y="264.55" font-size="8.15" text-anchor="middle" fill="#000">20</text>
<text x="263.61" y="264.55" font-size="8.15" text-anchor="middle" fill="#000">40</text>
<text x="36.05" y="255.95" font-size="8.15" text-anchor="end" fill="#000">200</text>
<text x="36.05" y="226.2" font-size="8.15" text-anchor="end" fill="#000">300</text>
<text x="36.05" y="196.45" font-size="8.15" text-anchor="end" fill="#000">400</text>
<text x="36.05" y="166.7" font-size="8.15" text-anchor="end" fill="#000">500</text>
<text x="36.05" y="136.95" font-size="8.15" text-anchor="end" fill="#000">600</text>
<text x="36.05" y="107.2" font-size="8.15" text-anchor="end" fill="#000">700</text>
<text x="36.05" y="77.45" font-size="8.15" text-anchor="end" fill="#000">800</text>
<text x="36.05" y="47.7" font-size="8.15" text-anchor="end" fill="#000">900</text>
<text x="36.05" y="17.95" font-size="8.15" text-anchor="end" fill="#000">1000</text>
<path d="M66.49 252.45v3M115.77 252.45v3M165.05 252.45v3M214.33 252.45v3M263.61 252.45v3M41.85 252.45h-3M41.85 222.7h-3M41.85 192.95h-3M41.85 163.2h-3M41.85 133.45h-3M41.85 103.7h-3M41.85 73.95h-3M41.85 44.2h-3M41.85 14.45h-3" stroke="#000" stroke-width="0.7" fill="none"/>
<text x="165.55" y="279.1" font-size="11.65" text-anchor="middle" fill="#000">Geo Latitude (<tspan dx="1.9" dy="-5.0" font-size="8.15">&#x2218;</tspan><tspan dx="2.1" dy="5.0">)</tspan></text>
<text transform="translate(9.15 133.45) rotate(-90)" font-size="11.65" text-anchor="middle" fill="#000">Altitude (km)</text>
<text x="165.55" y="9.35" font-size="11.55" text-anchor="middle" fill="#8b0000">(a) 4 May (Quiet day), 305<tspan dx="1.5" dy="-5.4" font-size="8.05">&#x2218;</tspan><tspan dx="2.4" dy="5.4">E</tspan></text>
<text x="45.65" y="52.35" font-size="12.35" text-anchor="start" fill="#000">DMSP</text>
<text x="45.65" y="161.3" font-size="12.35" text-anchor="start" fill="#000">Swarm</text>
<rect x="303.45" y="14.45" width="12.3" height="238" fill="url(#jet)" stroke="#000" stroke-width="0.7"/>
<text x="321.35" y="255.85" font-size="8.15" fill="#000">10<tspan dy="-3.2" font-size="6.4">3</tspan></text>
<text x="321.35" y="196.35" font-size="8.15" fill="#000">10<tspan dy="-3.2" font-size="6.4">4</tspan></text>
<text x="321.35" y="136.85" font-size="8.15" fill="#000">10<tspan dy="-3.2" font-size="6.4">5</tspan></text>
<text x="321.35" y="77.35" font-size="8.15" fill="#000">10<tspan dy="-3.2" font-size="6.4">6</tspan></text>
<text x="321.35" y="17.85" font-size="8.15" fill="#000">10<tspan dy="-3.2" font-size="6.4">7</tspan></text>
<text transform="translate(347.95 133.45) rotate(-90)" font-size="10.2" text-anchor="middle" fill="#000"><tspan font-style="italic">N<tspan dy="1.8" font-size="9">e</tspan><tspan dy="-1.8"> (cm</tspan><tspan dy="-3.9" font-size="7.1">&#x2212;3</tspan><tspan dy="3.9">)</tspan></tspan></text>
<path d="M315.75 252.45h3M315.75 234.54h1.5M315.75 224.06h1.5M315.75 216.63h1.5M315.75 210.86h1.5M315.75 206.15h1.5M315.75 202.17h1.5M315.75 198.72h1.5M315.75 195.67h1.5M315.75 192.95h3M315.75 175.04h1.5M315.75 164.56h1.5M315.75 157.13h1.5M315.75 151.36h1.5M315.75 146.65h1.5M315.75 142.67h1.5M315.75 139.22h1.5M315.75 136.17h1.5M315.75 133.45h3M315.75 115.54h1.5M315.75 105.06h1.5M315.75 97.63h1.5M315.75 91.86h1.5M315.75 87.15h1.5M315.75 83.17h1.5M315.75 79.72h1.5M315.75 76.67h1.5M315.75 73.95h3M315.75 56.04h1.5M315.75 45.56h1.5M315.75 38.13h1.5M315.75 32.36h1.5M315.75 27.65h1.5M315.75 23.67h1.5M315.75 20.22h1.5M315.75 17.17h1.5M315.75 14.45h3" stroke="#000" stroke-width="0.7" fill="none"/>
<g clip-path="url(#cp_b)">
<rect x="372" y="57.6" width="246.5" height="8.9" fill="url(#g_b_dmsp)"/>
<circle cx="368.06" cy="62.05" r="4.45" fill="#9aff5d"/><circle cx="370.03" cy="62.05" r="4.45" fill="#a7ff50"/><circle cx="372" cy="62.05" r="4.45" fill="#a0ff56"/><circle cx="373.97" cy="62.05" r="4.45" fill="#aaff4d"/><circle cx="375.94" cy="62.05" r="4.45" fill="#a4ff53"/><circle cx="377.92" cy="62.05" r="4.45" fill="#70ff87"/><circle cx="379.89" cy="62.05" r="4.45" fill="#53ffa4"/><circle cx="381.86" cy="62.05" r="4.45" fill="#63ff94"/><circle cx="383.83" cy="62.05" r="4.45" fill="#5dff9a"/><circle cx="385.8" cy="62.05" r="4.45" fill="#6dff8a"/><circle cx="387.78" cy="62.05" r="4.45" fill="#83ff73"/><circle cx="389.75" cy="62.05" r="4.45" fill="#5dff9a"/><circle cx="391.72" cy="62.05" r="4.45" fill="#60ff97"/><circle cx="393.69" cy="62.05" r="4.45" fill="#56ffa0"/><circle cx="395.66" cy="62.05" r="4.45" fill="#60ff97"/><circle cx="397.64" cy="62.05" r="4.45" fill="#50ffa7"/><circle cx="399.61" cy="62.05" r="4.45" fill="#66ff90"/><circle cx="401.58" cy="62.05" r="4.45" fill="#77ff80"/><circle cx="403.55" cy="62.05" r="4.45" fill="#70ff87"/><circle cx="405.52" cy="62.05" r="4.45" fill="#83ff73"/><circle cx="407.5" cy="62.05" r="4.45" fill="#8aff6d"/><circle cx="409.47" cy="62.05" r="4.45" fill="#7aff7d"/><circle cx="411.44" cy="62.05" r="4.45" fill="#b1ff46"/><circle cx="413.41" cy="62.05" r="4.45" fill="#c7ff30"/><circle cx="415.38" cy="62.05" r="4.45" fill="#beff39"/><circle cx="417.36" cy="62.05" r="4.45" fill="#a7ff50"/><circle cx="419.33" cy="62.05" r="4.45" fill="#baff3c"/><circle cx="421.3" cy="62.05" r="4.45" fill="#a4ff53"/><circle cx="423.27" cy="62.05" r="4.45" fill="#b4ff43"/><circle cx="425.24" cy="62.05" r="4.45" fill="#beff39"/><circle cx="427.22" cy="62.05" r="4.45" fill="#beff39"/><circle cx="429.19" cy="62.05" r="4.45" fill="#caff2c"/><circle cx="431.16" cy="62.05" r="4.45" fill="#b7ff40"/><circle cx="433.13" cy="62.05" r="4.45" fill="#c1ff36"/><circle cx="435.1" cy="62.05" r="4.45" fill="#a4ff53"/><circle cx="437.08" cy="62.05" r="4.45" fill="#aaff4d"/><circle cx="439.05" cy="62.05" r="4.45" fill="#9aff5d"/><circle cx="441.02" cy="62.05" r="4.45" fill="#70ff87"/><circle cx="442.99" cy="62.05" r="4.45" fill="#6aff8d"/><circle cx="444.96" cy="62.05" r="4.45" fill="#63ff94"/><circle cx="446.94" cy="62.05" r="4.45" fill="#7aff7d"/><circle cx="448.91" cy="62.05" r="4.45" fill="#63ff94"/><circle cx="450.88" cy="62.05" r="4.45" fill="#73ff83"/><circle cx="452.85" cy="62.05" r="4.45" fill="#6dff8a"/><circle cx="454.82" cy="62.05" r="4.45" fill="#7dff7a"/><circle cx="456.8" cy="62.05" r="4.45" fill="#80ff77"/><circle cx="458.77" cy="62.05" r="4.45" fill="#83ff73"/><circle cx="460.74" cy="62.05" r="4.45" fill="#8aff6d"/><circle cx="462.71" cy="62.05" r="4.45" fill="#87ff70"/><circle cx="464.68" cy="62.05" r="4.45" fill="#8dff6a"/><circle cx="466.66" cy="62.05" r="4.45" fill="#80ff77"/><circle cx="468.63" cy="62.05" r="4.45" fill="#83ff73"/><circle cx="470.6" cy="62.05" r="4.45" fill="#7dff7a"/><circle cx="472.57" cy="62.05" r="4.45" fill="#7aff7d"/><circle cx="474.54" cy="62.05" r="4.45" fill="#63ff94"/><circle cx="476.52" cy="62.05" r="4.45" fill="#46ffb1"/><circle cx="478.49" cy="62.05" r="4.45" fill="#5aff9d"/><circle cx="480.46" cy="62.05" r="4.45" fill="#56ffa0"/><circle cx="482.43" cy="62.05" r="4.45" fill="#4dffaa"/><circle cx="484.4" cy="62.05" r="4.45" fill="#26ffd1"/><circle cx="486.38" cy="62.05" r="4.45" fill="#0ff8e7"/><circle cx="488.35" cy="62.05" r="4.45" fill="#00c0ff"/><circle cx="490.32" cy="62.05" r="4.45" fill="#00d0ff"/><circle cx="492.29" cy="62.05" r="4.45" fill="#00b0ff"/><circle cx="494.26" cy="62.05" r="4.45" fill="#0090ff"/><circle cx="496.24" cy="62.05" r="4.45" fill="#0080ff"/><circle cx="498.21" cy="62.05" r="4.45" fill="#00b0ff"/><circle cx="500.18" cy="62.05" r="4.45" fill="#00bcff"/><circle cx="502.15" cy="62.05" r="4.45" fill="#0098ff"/><circle cx="504.12" cy="62.05" r="4.45" fill="#00c0ff"/><circle cx="506.1" cy="62.05" r="4.45" fill="#00a0ff"/><circle cx="508.07" cy="62.05" r="4.45" fill="#008cff"/><circle cx="510.04" cy="62.05" r="4.45" fill="#0088ff"/><circle cx="512.01" cy="62.05" r="4.45" fill="#0098ff"/><circle cx="513.98" cy="62.05" r="4.45" fill="#0094ff"/><circle cx="515.96" cy="62.05" r="4.45" fill="#0070ff"/><circle cx="517.93" cy="62.05" r="4.45" fill="#009cff"/><circle cx="519.9" cy="62.05" r="4.45" fill="#008cff"/><circle cx="521.87" cy="62.05" r="4.45" fill="#00bcff"/><circle cx="523.84" cy="62.05" r="4.45" fill="#00b4ff"/><circle cx="525.82" cy="62.05" r="4.45" fill="#00dcfe"/><circle cx="527.79" cy="62.05" r="4.45" fill="#06ecf1"/><circle cx="529.76" cy="62.05" r="4.45" fill="#00e0fb"/><circle cx="531.73" cy="62.05" r="4.45" fill="#16ffe1"/><circle cx="533.7" cy="62.05" r="4.45" fill="#02e8f4"/><circle cx="535.68" cy="62.05" r="4.45" fill="#00e4f8"/><circle cx="537.65" cy="62.05" r="4.45" fill="#19ffde"/><circle cx="539.62" cy="62.05" r="4.45" fill="#09f0ee"/><circle cx="541.59" cy="62.05" r="4.45" fill="#16ffe1"/><circle cx="543.56" cy="62.05" r="4.45" fill="#26ffd1"/><circle cx="545.54" cy="62.05" r="4.45" fill="#30ffc7"/><circle cx="547.51" cy="62.05" r="4.45" fill="#1fffd7"/><circle cx="549.48" cy="62.05" r="4.45" fill="#1cffdb"/><circle cx="551.45" cy="62.05" r="4.45" fill="#40ffb7"/><circle cx="553.42" cy="62.05" r="4.45" fill="#2cffca"/><circle cx="555.4" cy="62.05" r="4.45" fill="#49ffad"/><circle cx="557.37" cy="62.05" r="4.45" fill="#49ffad"/><circle cx="559.34" cy="62.05" r="4.45" fill="#36ffc1"/><circle cx="561.31" cy="62.05" r="4.45" fill="#39ffbe"/><circle cx="563.28" cy="62.05" r="4.45" fill="#40ffb7"/><circle cx="565.26" cy="62.05" r="4.45" fill="#46ffb1"/><circle cx="567.23" cy="62.05" r="4.45" fill="#46ffb1"/><circle cx="569.2" cy="62.05" r="4.45" fill="#46ffb1"/><circle cx="571.17" cy="62.05" r="4.45" fill="#4dffaa"/><circle cx="573.14" cy="62.05" r="4.45" fill="#5aff9d"/><circle cx="575.12" cy="62.05" r="4.45" fill="#4dffaa"/><circle cx="577.09" cy="62.05" r="4.45" fill="#4dffaa"/><circle cx="579.06" cy="62.05" r="4.45" fill="#5dff9a"/><circle cx="581.03" cy="62.05" r="4.45" fill="#4dffaa"/><circle cx="583" cy="62.05" r="4.45" fill="#53ffa4"/><circle cx="584.98" cy="62.05" r="4.45" fill="#77ff80"/><circle cx="586.95" cy="62.05" r="4.45" fill="#66ff90"/><circle cx="588.92" cy="62.05" r="4.45" fill="#6dff8a"/><circle cx="590.89" cy="62.05" r="4.45" fill="#5aff9d"/><circle cx="592.86" cy="62.05" r="4.45" fill="#70ff87"/><circle cx="594.84" cy="62.05" r="4.45" fill="#7aff7d"/><circle cx="596.81" cy="62.05" r="4.45" fill="#6aff8d"/><circle cx="598.78" cy="62.05" r="4.45" fill="#87ff70"/><circle cx="600.75" cy="62.05" r="4.45" fill="#8aff6d"/><circle cx="602.72" cy="62.05" r="4.45" fill="#77ff80"/><circle cx="604.7" cy="62.05" r="4.45" fill="#94ff63"/><circle cx="606.67" cy="62.05" r="4.45" fill="#90ff66"/><circle cx="608.64" cy="62.05" r="4.45" fill="#9dff5a"/><circle cx="610.61" cy="62.05" r="4.45" fill="#97ff60"/><circle cx="612.58" cy="62.05" r="4.45" fill="#a7ff50"/><circle cx="614.56" cy="62.05" r="4.45" fill="#adff49"/><circle cx="616.53" cy="62.05" r="4.45" fill="#9aff5d"/><circle cx="618.5" cy="62.05" r="4.45" fill="#a7ff50"/><circle cx="620.47" cy="62.05" r="4.45" fill="#c4ff33"/><circle cx="622.44" cy="62.05" r="4.45" fill="#d1ff26"/>
<rect x="372" y="164.85" width="246.5" height="8.9" fill="url(#g_b_swarm)"/>
<circle cx="368.06" cy="169.3" r="4.45" fill="#06ecf1"/><circle cx="370.03" cy="169.3" r="4.45" fill="#0ff8e7"/><circle cx="372" cy="169.3" r="4.45" fill="#13fce4"/><circle cx="373.97" cy="169.3" r="4.45" fill="#09f0ee"/><circle cx="375.94" cy="169.3" r="4.45" fill="#09f0ee"/><circle cx="377.92" cy="169.3" r="4.45" fill="#02e8f4"/><circle cx="379.89" cy="169.3" r="4.45" fill="#00e4f8"/><circle cx="381.86" cy="169.3" r="4.45" fill="#02e8f4"/><circle cx="383.83" cy="169.3" r="4.45" fill="#00d0ff"/><circle cx="385.8" cy="169.3" r="4.45" fill="#00ccff"/><circle cx="387.78" cy="169.3" r="4.45" fill="#00d8ff"/><circle cx="389.75" cy="169.3" r="4.45" fill="#00a8ff"/><circle cx="391.72" cy="169.3" r="4.45" fill="#00bcff"/><circle cx="393.69" cy="169.3" r="4.45" fill="#00bcff"/><circle cx="395.66" cy="169.3" r="4.45" fill="#00a4ff"/><circle cx="397.64" cy="169.3" r="4.45" fill="#009cff"/><circle cx="399.61" cy="169.3" r="4.45" fill="#00b4ff"/><circle cx="401.58" cy="169.3" r="4.45" fill="#0094ff"/><circle cx="403.55" cy="169.3" r="4.45" fill="#0090ff"/><circle cx="405.52" cy="169.3" r="4.45" fill="#00a4ff"/><circle cx="407.5" cy="169.3" r="4.45" fill="#00c0ff"/><circle cx="409.47" cy="169.3" r="4.45" fill="#00b0ff"/><circle cx="411.44" cy="169.3" r="4.45" fill="#00c8ff"/><circle cx="413.41" cy="169.3" r="4.45" fill="#00d8ff"/><circle cx="415.38" cy="169.3" r="4.45" fill="#16ffe1"/><circle cx="417.36" cy="169.3" r="4.45" fill="#09f0ee"/><circle cx="419.33" cy="169.3" r="4.45" fill="#1cffdb"/><circle cx="421.3" cy="169.3" r="4.45" fill="#02e8f4"/><circle cx="423.27" cy="169.3" r="4.45" fill="#0cf4eb"/><circle cx="425.24" cy="169.3" r="4.45" fill="#1cffdb"/><circle cx="427.22" cy="169.3" r="4.45" fill="#26ffd1"/><circle cx="429.19" cy="169.3" r="4.45" fill="#16ffe1"/><circle cx="431.16" cy="169.3" r="4.45" fill="#09f0ee"/><circle cx="433.13" cy="169.3" r="4.45" fill="#02e8f4"/><circle cx="435.1" cy="169.3" r="4.45" fill="#13fce4"/><circle cx="437.08" cy="169.3" r="4.45" fill="#02e8f4"/><circle cx="439.05" cy="169.3" r="4.45" fill="#19ffde"/><circle cx="441.02" cy="169.3" r="4.45" fill="#19ffde"/><circle cx="442.99" cy="169.3" r="4.45" fill="#00e0fb"/><circle cx="444.96" cy="169.3" r="4.45" fill="#09f0ee"/><circle cx="446.94" cy="169.3" r="4.45" fill="#29ffce"/><circle cx="448.91" cy="169.3" r="4.45" fill="#2cffca"/><circle cx="450.88" cy="169.3" r="4.45" fill="#39ffbe"/><circle cx="452.85" cy="169.3" r="4.45" fill="#30ffc7"/><circle cx="454.82" cy="169.3" r="4.45" fill="#36ffc1"/><circle cx="456.8" cy="169.3" r="4.45" fill="#49ffad"/><circle cx="458.77" cy="169.3" r="4.45" fill="#6dff8a"/><circle cx="460.74" cy="169.3" r="4.45" fill="#66ff90"/><circle cx="462.71" cy="169.3" r="4.45" fill="#73ff83"/><circle cx="464.68" cy="169.3" r="4.45" fill="#6dff8a"/><circle cx="466.66" cy="169.3" r="4.45" fill="#66ff90"/><circle cx="468.63" cy="169.3" r="4.45" fill="#5dff9a"/><circle cx="470.6" cy="169.3" r="4.45" fill="#6aff8d"/><circle cx="472.57" cy="169.3" r="4.45" fill="#46ffb1"/><circle cx="474.54" cy="169.3" r="4.45" fill="#3cffba"/><circle cx="476.52" cy="169.3" r="4.45" fill="#60ff97"/><circle cx="478.49" cy="169.3" r="4.45" fill="#5aff9d"/><circle cx="480.46" cy="169.3" r="4.45" fill="#5aff9d"/><circle cx="482.43" cy="169.3" r="4.45" fill="#40ffb7"/><circle cx="484.4" cy="169.3" r="4.45" fill="#53ffa4"/><circle cx="486.38" cy="169.3" r="4.45" fill="#50ffa7"/><circle cx="488.35" cy="169.3" r="4.45" fill="#33ffc4"/><circle cx="490.32" cy="169.3" r="4.45" fill="#46ffb1"/><circle cx="492.29" cy="169.3" r="4.45" fill="#49ffad"/><circle cx="494.26" cy="169.3" r="4.45" fill="#40ffb7"/><circle cx="496.24" cy="169.3" r="4.45" fill="#39ffbe"/><circle cx="498.21" cy="169.3" r="4.45" fill="#30ffc7"/><circle cx="500.18" cy="169.3" r="4.45" fill="#30ffc7"/><circle cx="502.15" cy="169.3" r="4.45" fill="#29ffce"/><circle cx="504.12" cy="169.3" r="4.45" fill="#23ffd4"/><circle cx="506.1" cy="169.3" r="4.45" fill="#36ffc1"/><circle cx="508.07" cy="169.3" r="4.45" fill="#26ffd1"/><circle cx="510.04" cy="169.3" r="4.45" fill="#39ffbe"/><circle cx="512.01" cy="169.3" r="4.45" fill="#16ffe1"/><circle cx="513.98" cy="169.3" r="4.45" fill="#36ffc1"/><circle cx="515.96" cy="169.3" r="4.45" fill="#29ffce"/><circle cx="517.93" cy="169.3" r="4.45" fill="#30ffc7"/><circle cx="519.9" cy="169.3" r="4.45" fill="#2cffca"/><circle cx="521.87" cy="169.3" r="4.45" fill="#29ffce"/><circle cx="523.84" cy="169.3" r="4.45" fill="#1fffd7"/><circle cx="525.82" cy="169.3" r="4.45" fill="#09f0ee"/><circle cx="527.79" cy="169.3" r="4.45" fill="#29ffce"/><circle cx="529.76" cy="169.3" r="4.45" fill="#16ffe1"/><circle cx="531.73" cy="169.3" r="4.45" fill="#1cffdb"/><circle cx="533.7" cy="169.3" r="4.45" fill="#30ffc7"/><circle cx="535.68" cy="169.3" r="4.45" fill="#29ffce"/><circle cx="537.65" cy="169.3" r="4.45" fill="#26ffd1"/><circle cx="539.62" cy="169.3" r="4.45" fill="#40ffb7"/><circle cx="541.59" cy="169.3" r="4.45" fill="#33ffc4"/><circle cx="543.56" cy="169.3" r="4.45" fill="#29ffce"/><circle cx="545.54" cy="169.3" r="4.45" fill="#26ffd1"/><circle cx="547.51" cy="169.3" r="4.45" fill="#40ffb7"/><circle cx="549.48" cy="169.3" r="4.45" fill="#33ffc4"/><circle cx="551.45" cy="169.3" r="4.45" fill="#40ffb7"/><circle cx="553.42" cy="169.3" r="4.45" fill="#30ffc7"/><circle cx="555.4" cy="169.3" r="4.45" fill="#2cffca"/><circle cx="557.37" cy="169.3" r="4.45" fill="#39ffbe"/><circle cx="559.34" cy="169.3" r="4.45" fill="#46ffb1"/><circle cx="561.31" cy="169.3" r="4.45" fill="#2cffca"/><circle cx="563.28" cy="169.3" r="4.45" fill="#49ffad"/><circle cx="565.26" cy="169.3" r="4.45" fill="#50ffa7"/><circle cx="567.23" cy="169.3" r="4.45" fill="#49ffad"/><circle cx="569.2" cy="169.3" r="4.45" fill="#4dffaa"/><circle cx="571.17" cy="169.3" r="4.45" fill="#2cffca"/><circle cx="573.14" cy="169.3" r="4.45" fill="#46ffb1"/><circle cx="575.12" cy="169.3" r="4.45" fill="#53ffa4"/><circle cx="577.09" cy="169.3" r="4.45" fill="#40ffb7"/><circle cx="579.06" cy="169.3" r="4.45" fill="#53ffa4"/><circle cx="581.03" cy="169.3" r="4.45" fill="#60ff97"/><circle cx="583" cy="169.3" r="4.45" fill="#77ff80"/><circle cx="584.98" cy="169.3" r="4.45" fill="#7aff7d"/><circle cx="586.95" cy="169.3" r="4.45" fill="#7dff7a"/><circle cx="588.92" cy="169.3" r="4.45" fill="#8aff6d"/><circle cx="590.89" cy="169.3" r="4.45" fill="#6dff8a"/><circle cx="592.86" cy="169.3" r="4.45" fill="#70ff87"/><circle cx="594.84" cy="169.3" r="4.45" fill="#73ff83"/><circle cx="596.81" cy="169.3" r="4.45" fill="#73ff83"/><circle cx="598.78" cy="169.3" r="4.45" fill="#73ff83"/><circle cx="600.75" cy="169.3" r="4.45" fill="#9aff5d"/><circle cx="602.72" cy="169.3" r="4.45" fill="#97ff60"/><circle cx="604.7" cy="169.3" r="4.45" fill="#77ff80"/><circle cx="606.67" cy="169.3" r="4.45" fill="#8aff6d"/><circle cx="608.64" cy="169.3" r="4.45" fill="#83ff73"/><circle cx="610.61" cy="169.3" r="4.45" fill="#83ff73"/><circle cx="612.58" cy="169.3" r="4.45" fill="#8aff6d"/><circle cx="614.56" cy="169.3" r="4.45" fill="#9aff5d"/><circle cx="616.53" cy="169.3" r="4.45" fill="#9aff5d"/><circle cx="618.5" cy="169.3" r="4.45" fill="#94ff63"/><circle cx="620.47" cy="169.3" r="4.45" fill="#90ff66"/><circle cx="622.44" cy="169.3" r="4.45" fill="#97ff60"/>
<path d="M441.51 252.45 442.1 245.01 442.7 237.57 443.31 230.14 443.92 222.7 444.54 215.26 445.17 207.82 445.8 200.39 446.45 192.95 447.11 185.51 447.77 178.07 448.45 170.64 449.13 163.2 449.83 155.76 450.54 148.32 451.27 140.89 452 133.45 452.76 126.01 453.52 118.57 454.31 111.14 455.11 103.7 455.93 96.26 456.77 88.82 457.64 81.39 458.53 73.95 459.45 66.51 460.39 59.07 461.37 51.64 462.38 44.2 463.44 36.76 464.54 29.32 465.69 21.89 466.9 14.45M542.09 252.45 541.38 245.01 540.67 237.57 539.95 230.14 539.22 222.7 538.48 215.26 537.74 207.82 536.99 200.39 536.22 192.95 535.45 185.51 534.67 178.07 533.88 170.64 533.08 163.2 532.26 155.76 531.44 148.32 530.6 140.89 529.75 133.45 528.88 126.01 527.99 118.57 527.09 111.14 526.18 103.7 525.24 96.26 524.28 88.82 523.3 81.39 522.3 73.95 521.26 66.51 520.2 59.07 519.11 51.64 517.98 44.2 516.81 36.76 515.59 29.32 514.33 21.89 513 14.45M426.23 252.45 426.71 245.01 427.2 237.57 427.69 230.14 428.18 222.7 428.68 215.26 429.18 207.82 429.68 200.39 430.19 192.95 430.7 185.51 431.21 178.07 431.73 170.64 432.25 163.2 432.77 155.76 433.3 148.32 433.84 140.89 434.37 133.45 434.92 126.01 435.46 118.57 436.02 111.14 436.57 103.7 437.14 96.26 437.7 88.82 438.28 81.39 438.86 73.95 439.44 66.51 440.03 59.07 440.63 51.64 441.24 44.2 441.85 36.76 442.47 29.32 443.1 21.89 443.73 14.45M554.9 252.45 554.35 245.01 553.79 237.57 553.24 230.14 552.67 222.7 552.11 215.26 551.54 207.82 550.97 200.39 550.39 192.95 549.81 185.51 549.23 178.07 548.64 170.64 548.05 163.2 547.46 155.76 546.86 148.32 546.26 140.89 545.65 133.45 545.04 126.01 544.42 118.57 543.8 111.14 543.17 103.7 542.54 96.26 541.9 88.82 541.26 81.39 540.61 73.95 539.96 66.51 539.3 59.07 538.63 51.64 537.95 44.2 537.27 36.76 536.58 29.32 535.89 21.89 535.18 14.45M409.47 252.45 409.89 245.01 410.3 237.57 410.72 230.14 411.15 222.7 411.57 215.26 411.99 207.82 412.42 200.39 412.85 192.95 413.27 185.51 413.7 178.07 414.14 170.64 414.57 163.2 415.01 155.76 415.44 148.32 415.88 140.89 416.32 133.45 416.76 126.01 417.21 118.57 417.65 111.14 418.1 103.7 418.55 96.26 419 88.82 419.46 81.39 419.91 73.95 420.37 66.51 420.83 59.07 421.29 51.64 421.76 44.2 422.22 36.76 422.69 29.32 423.17 21.89 423.64 14.45M567.47 252.45 567.03 245.01 566.58 237.57 566.14 230.14 565.69 222.7 565.24 215.26 564.79 207.82 564.34 200.39 563.88 192.95 563.43 185.51 562.97 178.07 562.51 170.64 562.05 163.2 561.59 155.76 561.12 148.32 560.66 140.89 560.19 133.45 559.72 126.01 559.25 118.57 558.78 111.14 558.3 103.7 557.83 96.26 557.35 88.82 556.87 81.39 556.38 73.95 555.9 66.51 555.41 59.07 554.92 51.64 554.43 44.2 553.94 36.76 553.44 29.32 552.94 21.89 552.44 14.45M391.72 252.45 392.08 245.01 392.44 237.57 392.8 230.14 393.17 222.7 393.53 215.26 393.89 207.82 394.25 200.39 394.62 192.95 394.98 185.51 395.35 178.07 395.71 170.64 396.08 163.2 396.45 155.76 396.82 148.32 397.18 140.89 397.55 133.45 397.92 126.01 398.29 118.57 398.66 111.14 399.03 103.7 399.41 96.26 399.78 88.82 400.15 81.39 400.53 73.95 400.9 66.51 401.28 59.07 401.66 51.64 402.03 44.2 402.41 36.76 402.79 29.32 403.17 21.89 403.55 14.45M579.8 252.45 579.45 245.01 579.1 237.57 578.75 230.14 578.4 222.7 578.05 215.26 577.7 207.82 577.35 200.39 576.99 192.95 576.64 185.51 576.29 178.07 575.93 170.64 575.58 163.2 575.22 155.76 574.87 148.32 574.51 140.89 574.15 133.45 573.79 126.01 573.44 118.57 573.08 111.14 572.72 103.7 572.36 96.26 571.99 88.82 571.63 81.39 571.27 73.95 570.91 66.51 570.54 59.07 570.18 51.64 569.81 44.2 569.44 36.76 569.08 29.32 568.71 21.89 568.34 14.45M372 252.45 372.34 245.01 372.69 237.57 373.03 230.14 373.37 222.7 373.72 215.26 374.06 207.82 374.41 200.39 374.75 192.95 375.1 185.51 375.44 178.07 375.79 170.64 376.13 163.2 376.48 155.76 376.82 148.32 377.17 140.89 377.51 133.45 377.86 126.01 378.21 118.57 378.55 111.14 378.9 103.7 379.25 96.26 379.6 88.82 379.95 81.39 380.29 73.95 380.64 66.51 380.99 59.07 381.34 51.64 381.69 44.2 382.04 36.76 382.39 29.32 382.74 21.89 383.09 14.45M592.62 252.45 592.32 245.01 592.02 237.57 591.73 230.14 591.43 222.7 591.13 215.26 590.83 207.82 590.53 200.39 590.24 192.95 589.94 185.51 589.64 178.07 589.34 170.64 589.04 163.2 588.74 155.76 588.44 148.32 588.14 140.89 587.84 133.45 587.54 126.01 587.24 118.57 586.94 111.14 586.64 103.7 586.34 96.26 586.04 88.82 585.74 81.39 585.43 73.95 585.13 66.51 584.83 59.07 584.52 51.64 584.22 44.2 583.92 36.76 583.61 29.32 583.31 21.89 583 14.45M351.29 252.45 351.63 245.01 351.97 237.57 352.31 230.14 352.65 222.7 352.99 215.26 353.33 207.82 353.67 200.39 354.01 192.95 354.34 185.51 354.68 178.07 355.02 170.64 355.36 163.2 355.7 155.76 356.04 148.32 356.38 140.89 356.72 133.45 357.05 126.01 357.39 118.57 357.73 111.14 358.07 103.7 358.41 96.26 358.75 88.82 359.09 81.39 359.43 73.95 359.77 66.51 360.1 59.07 360.44 51.64 360.78 44.2 361.12 36.76 361.46 29.32 361.8 21.89 362.14 14.45M604.94 252.45 604.71 245.01 604.48 237.57 604.25 230.14 604.02 222.7 603.79 215.26 603.56 207.82 603.32 200.39 603.09 192.95 602.86 185.51 602.63 178.07 602.4 170.64 602.17 163.2 601.94 155.76 601.71 148.32 601.48 140.89 601.25 133.45 601.02 126.01 600.78 118.57 600.55 111.14 600.32 103.7 600.09 96.26 599.86 88.82 599.63 81.39 599.4 73.95 599.17 66.51 598.94 59.07 598.7 51.64 598.47 44.2 598.24 36.76 598.01 29.32 597.78 21.89 597.55 14.45M480.71 252.45 480.91 252.06 481.12 251.68 481.32 251.31 481.53 250.95 481.73 250.6 481.94 250.26 482.14 249.92 482.34 249.6 482.55 249.29 482.75 248.99 482.95 248.7 483.15 248.42 483.35 248.14 483.55 247.88 483.75 247.63 483.95 247.39 484.15 247.16 484.35 246.93 484.55 246.72 484.74 246.52 484.94 246.32 485.14 246.14 485.33 245.97 485.53 245.8 485.72 245.65 485.92 245.51 486.11 245.37 486.31 245.25 486.5 245.14 486.69 245.03 486.88 244.94 487.08 244.85 487.27 244.78 487.46 244.71 487.65 244.66 487.84 244.62 488.03 244.58 488.22 244.56 488.41 244.54 488.59 244.54 488.78 244.54 488.97 244.56 489.16 244.58 489.34 244.62 489.53 244.66 489.71 244.71 489.9 244.78 490.08 244.85 490.27 244.94 490.45 245.03 490.63 245.14 490.82 245.25 491 245.37 491.18 245.51 491.36 245.65 491.54 245.8 491.72 245.97 491.9 246.14 492.08 246.32 492.26 246.52 492.44 246.72 492.62 246.93 492.8 247.16 492.97 247.39 493.15 247.63 493.33 247.88 493.5 248.14 493.68 248.42 493.85 248.7 494.03 248.99 494.2 249.29 494.37 249.6 494.55 249.92 494.72 250.26 494.89 250.6 495.06 250.95 495.23 251.31 495.4 251.68 495.57 252.06 495.74 252.45M466.41 252.45 466.98 249.14 467.56 245.9 468.13 242.75 468.71 239.68 469.29 236.69 469.86 233.78 470.44 230.95 471.02 228.21 471.6 225.55 472.18 222.96 472.76 220.47 473.34 218.05 473.93 215.72 474.51 213.47 475.09 211.3 475.68 209.22 476.27 207.22 476.85 205.3 477.44 203.47 478.03 201.72 478.62 200.06 479.21 198.48 479.8 196.99 480.39 195.58 480.98 194.25 481.57 193.01 482.16 191.86 482.76 190.79 483.35 189.8 483.95 188.9 484.55 188.09 485.14 187.36 485.74 186.72 486.34 186.16 486.94 185.69 487.54 185.31 488.14 185.01 488.74 184.79 489.35 184.66 489.95 184.62 490.55 184.66 491.16 184.79 491.77 185.01 492.37 185.31 492.98 185.69 493.59 186.16 494.2 186.72 494.81 187.36 495.42 188.09 496.03 188.9 496.64 189.8 497.25 190.79 497.87 191.86 498.48 193.01 499.1 194.25 499.71 195.58 500.33 196.99 500.95 198.48 501.57 200.06 502.18 201.72 502.8 203.47 503.42 205.3 504.05 207.22 504.67 209.22 505.29 211.3 505.91 213.47 506.54 215.72 507.16 218.05 507.79 220.47 508.42 222.96 509.04 225.55 509.67 228.21 510.3 230.95 510.93 233.78 511.56 236.69 512.19 239.68 512.82 242.75 513.46 245.9 514.09 249.14 514.72 252.45M453.96 252.45 454.83 244.62 455.7 236.96 456.57 229.49 457.44 222.19 458.32 215.08 459.19 208.16 460.07 201.42 460.95 194.86 461.83 188.5 462.71 182.32 463.6 176.33 464.48 170.54 465.37 164.94 466.26 159.53 467.15 154.32 468.04 149.3 468.93 144.48 469.83 139.86 470.73 135.44 471.62 131.21 472.52 127.19 473.43 123.37 474.33 119.75 475.23 116.34 476.14 113.13 477.05 110.12 477.96 107.32 478.87 104.72 479.79 102.33 480.7 100.14 481.62 98.16 482.54 96.39 483.46 94.83 484.38 93.47 485.3 92.33 486.23 91.39 487.16 90.66 488.09 90.14 489.02 89.82 489.95 89.72 490.88 89.82 491.82 90.14 492.76 90.66 493.7 91.39 494.64 92.33 495.58 93.47 496.53 94.83 497.47 96.39 498.42 98.16 499.37 100.14 500.33 102.33 501.28 104.72 502.23 107.32 503.19 110.12 504.15 113.13 505.11 116.34 506.07 119.75 507.04 123.37 508 127.19 508.97 131.21 509.94 135.44 510.91 139.86 511.88 144.48 512.85 149.3 513.83 154.32 514.81 159.53 515.78 164.94 516.76 170.54 517.75 176.33 518.73 182.32 519.72 188.5 520.7 194.86 521.69 201.42 522.68 208.16 523.67 215.08 524.66 222.19 525.66 229.49 526.65 236.96 527.65 244.62 528.65 252.45" fill="none" stroke="#000" stroke-width="0.55"/>
</g>
<rect x="372" y="14.45" width="246.5" height="238" fill="none" stroke="#000" stroke-width="0.7"/>
<text x="396.65" y="264.55" font-size="8.15" text-anchor="middle" fill="#000">&#x2212;40</text>
<text x="445.95" y="264.55" font-size="8.15" text-anchor="middle" fill="#000">&#x2212;20</text>
<text x="495.25" y="264.55" font-size="8.15" text-anchor="middle" fill="#000">0</text>
<text x="544.55" y="264.55" font-size="8.15" text-anchor="middle" fill="#000">20</text>
<text x="593.85" y="264.55" font-size="8.15" text-anchor="middle" fill="#000">40</text>
<path d="M396.65 252.45v3M445.95 252.45v3M495.25 252.45v3M544.55 252.45v3M593.85 252.45v3M372 252.45h-3M372 222.7h-3M372 192.95h-3M372 163.2h-3M372 133.45h-3M372 103.7h-3M372 73.95h-3M372 44.2h-3M372 14.45h-3" stroke="#000" stroke-width="0.7" fill="none"/>
<text x="495.75" y="279.1" font-size="11.65" text-anchor="middle" fill="#000">Geo Latitude (<tspan dx="1.9" dy="-5.0" font-size="8.15">&#x2218;</tspan><tspan dx="2.1" dy="5.0">)</tspan></text>
<text x="495.75" y="9.35" font-size="11.55" text-anchor="middle" fill="#8b0000">(b) 4 May (Quiet day), 305<tspan dx="1.5" dy="-5.4" font-size="8.05">&#x2218;</tspan><tspan dx="2.4" dy="5.4">E</tspan></text>
<text x="377.7" y="53.55" font-size="12.35" text-anchor="start" fill="#000">DMSP</text>
<text x="376.75" y="160.25" font-size="12.35" text-anchor="start" fill="#000">Swarm</text>
<rect x="633.5" y="14.45" width="12.3" height="238" fill="url(#jet)" stroke="#000" stroke-width="0.7"/>
<text x="651.6" y="255.85" font-size="8.15" text-anchor="start" fill="#000">1000</text>
<text x="651.6" y="176.52" font-size="8.15" text-anchor="start" fill="#000">2000</text>
<text x="651.6" y="97.18" font-size="8.15" text-anchor="start" fill="#000">3000</text>
<text x="651.6" y="17.85" font-size="8.15" text-anchor="start" fill="#000">4000</text>
<text transform="translate(683.5 133.45) rotate(-90)" font-size="10" text-anchor="middle" fill="#000"><tspan font-style="italic">T<tspan dy="1.8" font-size="7">e</tspan></tspan><tspan dy="-1.8"> (K)</tspan></text>
<path d="M645.8 252.45h3M645.8 173.12h3M645.8 93.78h3M645.8 14.45h3" stroke="#000" stroke-width="0.7" fill="none"/>
<g clip-path="url(#cp_c)">
<rect x="41.85" y="349.6" width="246.4" height="8.9" fill="url(#g_c_dmsp)"/>
<circle cx="37.91" cy="354.05" r="4.45" fill="#5aff9d"/><circle cx="39.88" cy="354.05" r="4.45" fill="#5aff9d"/><circle cx="41.85" cy="354.05" r="4.45" fill="#5aff9d"/><circle cx="43.82" cy="354.05" r="4.45" fill="#5aff9d"/><circle cx="45.79" cy="354.05" r="4.45" fill="#5dff9a"/><circle cx="47.76" cy="354.05" r="4.45" fill="#63ff94"/><circle cx="49.73" cy="354.05" r="4.45" fill="#6aff8d"/><circle cx="51.71" cy="354.05" r="4.45" fill="#70ff87"/><circle cx="53.68" cy="354.05" r="4.45" fill="#7aff7d"/><circle cx="55.65" cy="354.05" r="4.45" fill="#80ff77"/><circle cx="57.62" cy="354.05" r="4.45" fill="#87ff70"/><circle cx="59.59" cy="354.05" r="4.45" fill="#90ff66"/><circle cx="61.56" cy="354.05" r="4.45" fill="#97ff60"/><circle cx="63.53" cy="354.05" r="4.45" fill="#9dff5a"/><circle cx="65.5" cy="354.05" r="4.45" fill="#a4ff53"/><circle cx="67.48" cy="354.05" r="4.45" fill="#aaff4d"/><circle cx="69.45" cy="354.05" r="4.45" fill="#adff49"/><circle cx="71.42" cy="354.05" r="4.45" fill="#b4ff43"/><circle cx="73.39" cy="354.05" r="4.45" fill="#b7ff40"/><circle cx="75.36" cy="354.05" r="4.45" fill="#baff3c"/><circle cx="77.33" cy="354.05" r="4.45" fill="#c1ff36"/><circle cx="79.3" cy="354.05" r="4.45" fill="#c4ff33"/><circle cx="81.27" cy="354.05" r="4.45" fill="#caff2c"/><circle cx="83.25" cy="354.05" r="4.45" fill="#ceff29"/><circle cx="85.22" cy="354.05" r="4.45" fill="#d1ff26"/><circle cx="87.19" cy="354.05" r="4.45" fill="#d7ff1f"/><circle cx="89.16" cy="354.05" r="4.45" fill="#dbff1c"/><circle cx="91.13" cy="354.05" r="4.45" fill="#deff19"/><circle cx="93.1" cy="354.05" r="4.45" fill="#e7ff0f"/><circle cx="95.07" cy="354.05" r="4.45" fill="#eeff09"/><circle cx="97.04" cy="354.05" r="4.45" fill="#f4f802"/><circle cx="99.01" cy="354.05" r="4.45" fill="#f8f500"/><circle cx="100.99" cy="354.05" r="4.45" fill="#fbf100"/><circle cx="102.96" cy="354.05" r="4.45" fill="#feed00"/><circle cx="104.93" cy="354.05" r="4.45" fill="#ffea00"/><circle cx="106.9" cy="354.05" r="4.45" fill="#ffe600"/><circle cx="108.87" cy="354.05" r="4.45" fill="#ffe200"/><circle cx="110.84" cy="354.05" r="4.45" fill="#ffde00"/><circle cx="112.81" cy="354.05" r="4.45" fill="#ffdb00"/><circle cx="114.78" cy="354.05" r="4.45" fill="#ffd700"/><circle cx="116.76" cy="354.05" r="4.45" fill="#ffd300"/><circle cx="118.73" cy="354.05" r="4.45" fill="#ffd000"/><circle cx="120.7" cy="354.05" r="4.45" fill="#ffd000"/><circle cx="122.67" cy="354.05" r="4.45" fill="#ffd300"/><circle cx="124.64" cy="354.05" r="4.45" fill="#ffd700"/><circle cx="126.61" cy="354.05" r="4.45" fill="#ffde00"/><circle cx="128.58" cy="354.05" r="4.45" fill="#ffe200"/><circle cx="130.55" cy="354.05" r="4.45" fill="#ffe600"/><circle cx="132.53" cy="354.05" r="4.45" fill="#feed00"/><circle cx="134.5" cy="354.05" r="4.45" fill="#f8f500"/><circle cx="136.47" cy="354.05" r="4.45" fill="#f4f802"/><circle cx="138.44" cy="354.05" r="4.45" fill="#eeff09"/><circle cx="140.41" cy="354.05" r="4.45" fill="#eeff09"/><circle cx="142.38" cy="354.05" r="4.45" fill="#eeff09"/><circle cx="144.35" cy="354.05" r="4.45" fill="#ebff0c"/><circle cx="146.32" cy="354.05" r="4.45" fill="#ebff0c"/><circle cx="148.29" cy="354.05" r="4.45" fill="#ebff0c"/><circle cx="150.27" cy="354.05" r="4.45" fill="#e7ff0f"/><circle cx="152.24" cy="354.05" r="4.45" fill="#e7ff0f"/><circle cx="154.21" cy="354.05" r="4.45" fill="#e7ff0f"/><circle cx="156.18" cy="354.05" r="4.45" fill="#e7ff0f"/><circle cx="158.15" cy="354.05" r="4.45" fill="#e7ff0f"/><circle cx="160.12" cy="354.05" r="4.45" fill="#e7ff0f"/><circle cx="162.09" cy="354.05" r="4.45" fill="#e7ff0f"/><circle cx="164.06" cy="354.05" r="4.45" fill="#e7ff0f"/><circle cx="166.04" cy="354.05" r="4.45" fill="#e7ff0f"/><circle cx="168.01" cy="354.05" r="4.45" fill="#e7ff0f"/><circle cx="169.98" cy="354.05" r="4.45" fill="#ebff0c"/><circle cx="171.95" cy="354.05" r="4.45" fill="#eeff09"/><circle cx="173.92" cy="354.05" r="4.45" fill="#f1fc06"/><circle cx="175.89" cy="354.05" r="4.45" fill="#f4f802"/><circle cx="177.86" cy="354.05" r="4.45" fill="#fbf100"/><circle cx="179.83" cy="354.05" r="4.45" fill="#ffea00"/><circle cx="181.81" cy="354.05" r="4.45" fill="#ffde00"/><circle cx="183.78" cy="354.05" r="4.45" fill="#ffd300"/><circle cx="185.75" cy="354.05" r="4.45" fill="#ffc800"/><circle cx="187.72" cy="354.05" r="4.45" fill="#ffc100"/><circle cx="189.69" cy="354.05" r="4.45" fill="#ffb600"/><circle cx="191.66" cy="354.05" r="4.45" fill="#ffab00"/><circle cx="193.63" cy="354.05" r="4.45" fill="#ff9f00"/><circle cx="195.6" cy="354.05" r="4.45" fill="#ff9c00"/><circle cx="197.57" cy="354.05" r="4.45" fill="#ff9400"/><circle cx="199.55" cy="354.05" r="4.45" fill="#ff9100"/><circle cx="201.52" cy="354.05" r="4.45" fill="#ff8d00"/><circle cx="203.49" cy="354.05" r="4.45" fill="#ff8600"/><circle cx="205.46" cy="354.05" r="4.45" fill="#ff8600"/><circle cx="207.43" cy="354.05" r="4.45" fill="#ff8600"/><circle cx="209.4" cy="354.05" r="4.45" fill="#ff8900"/><circle cx="211.37" cy="354.05" r="4.45" fill="#ff8d00"/><circle cx="213.34" cy="354.05" r="4.45" fill="#ff9800"/><circle cx="215.32" cy="354.05" r="4.45" fill="#ffa700"/><circle cx="217.29" cy="354.05" r="4.45" fill="#ffb600"/><circle cx="219.26" cy="354.05" r="4.45" fill="#ffc400"/><circle cx="221.23" cy="354.05" r="4.45" fill="#ffd300"/><circle cx="223.2" cy="354.05" r="4.45" fill="#ffde00"/><circle cx="225.17" cy="354.05" r="4.45" fill="#ffea00"/><circle cx="227.14" cy="354.05" r="4.45" fill="#f4f802"/><circle cx="229.11" cy="354.05" r="4.45" fill="#eeff09"/><circle cx="231.09" cy="354.05" r="4.45" fill="#e7ff0f"/><circle cx="233.06" cy="354.05" r="4.45" fill="#e4ff13"/><circle cx="235.03" cy="354.05" r="4.45" fill="#deff19"/><circle cx="237" cy="354.05" r="4.45" fill="#d7ff1f"/><circle cx="238.97" cy="354.05" r="4.45" fill="#d4ff23"/><circle cx="240.94" cy="354.05" r="4.45" fill="#ceff29"/><circle cx="242.91" cy="354.05" r="4.45" fill="#c7ff30"/><circle cx="244.88" cy="354.05" r="4.45" fill="#c4ff33"/><circle cx="246.85" cy="354.05" r="4.45" fill="#beff39"/><circle cx="248.83" cy="354.05" r="4.45" fill="#b7ff40"/><circle cx="250.8" cy="354.05" r="4.45" fill="#b1ff46"/><circle cx="252.77" cy="354.05" r="4.45" fill="#aaff4d"/><circle cx="254.74" cy="354.05" r="4.45" fill="#9dff5a"/><circle cx="256.71" cy="354.05" r="4.45" fill="#94ff63"/><circle cx="258.68" cy="354.05" r="4.45" fill="#8aff6d"/><circle cx="260.65" cy="354.05" r="4.45" fill="#7dff7a"/><circle cx="262.62" cy="354.05" r="4.45" fill="#73ff83"/><circle cx="264.6" cy="354.05" r="4.45" fill="#66ff90"/><circle cx="266.57" cy="354.05" r="4.45" fill="#5aff9d"/><circle cx="268.54" cy="354.05" r="4.45" fill="#56ffa0"/><circle cx="270.51" cy="354.05" r="4.45" fill="#5dff9a"/><circle cx="272.48" cy="354.05" r="4.45" fill="#63ff94"/><circle cx="274.45" cy="354.05" r="4.45" fill="#6aff8d"/><circle cx="276.42" cy="354.05" r="4.45" fill="#70ff87"/><circle cx="278.39" cy="354.05" r="4.45" fill="#73ff83"/><circle cx="280.37" cy="354.05" r="4.45" fill="#77ff80"/><circle cx="282.34" cy="354.05" r="4.45" fill="#7aff7d"/><circle cx="284.31" cy="354.05" r="4.45" fill="#80ff77"/><circle cx="286.28" cy="354.05" r="4.45" fill="#83ff73"/><circle cx="288.25" cy="354.05" r="4.45" fill="#87ff70"/><circle cx="290.22" cy="354.05" r="4.45" fill="#8aff6d"/><circle cx="292.19" cy="354.05" r="4.45" fill="#8dff6a"/>
<rect x="41.85" y="456.85" width="246.4" height="8.9" fill="url(#g_c_swarm)"/>
<circle cx="37.91" cy="461.3" r="4.45" fill="#8dff6a"/><circle cx="39.88" cy="461.3" r="4.45" fill="#8dff6a"/><circle cx="41.85" cy="461.3" r="4.45" fill="#8dff6a"/><circle cx="43.82" cy="461.3" r="4.45" fill="#8dff6a"/><circle cx="45.79" cy="461.3" r="4.45" fill="#94ff63"/><circle cx="47.76" cy="461.3" r="4.45" fill="#adff49"/><circle cx="49.73" cy="461.3" r="4.45" fill="#caff2c"/><circle cx="51.71" cy="461.3" r="4.45" fill="#f8f500"/><circle cx="53.68" cy="461.3" r="4.45" fill="#ffc400"/><circle cx="55.65" cy="461.3" r="4.45" fill="#ffab00"/><circle cx="57.62" cy="461.3" r="4.45" fill="#ff9400"/><circle cx="59.59" cy="461.3" r="4.45" fill="#ff7e00"/><circle cx="61.56" cy="461.3" r="4.45" fill="#ff6f00"/><circle cx="63.53" cy="461.3" r="4.45" fill="#ff6800"/><circle cx="65.5" cy="461.3" r="4.45" fill="#ff5d00"/><circle cx="67.48" cy="461.3" r="4.45" fill="#ff5200"/><circle cx="69.45" cy="461.3" r="4.45" fill="#ff5200"/><circle cx="71.42" cy="461.3" r="4.45" fill="#ff4e00"/><circle cx="73.39" cy="461.3" r="4.45" fill="#ff4a00"/><circle cx="75.36" cy="461.3" r="4.45" fill="#ff4700"/><circle cx="77.33" cy="461.3" r="4.45" fill="#ff4700"/><circle cx="79.3" cy="461.3" r="4.45" fill="#ff4300"/><circle cx="81.27" cy="461.3" r="4.45" fill="#ff3f00"/><circle cx="83.25" cy="461.3" r="4.45" fill="#ff3f00"/><circle cx="85.22" cy="461.3" r="4.45" fill="#ff3f00"/><circle cx="87.19" cy="461.3" r="4.45" fill="#ff3f00"/><circle cx="89.16" cy="461.3" r="4.45" fill="#ff3f00"/><circle cx="91.13" cy="461.3" r="4.45" fill="#ff4e00"/><circle cx="93.1" cy="461.3" r="4.45" fill="#ff5900"/><circle cx="95.07" cy="461.3" r="4.45" fill="#ff6400"/><circle cx="97.04" cy="461.3" r="4.45" fill="#ff7300"/><circle cx="99.01" cy="461.3" r="4.45" fill="#ff7e00"/><circle cx="100.99" cy="461.3" r="4.45" fill="#ff8900"/><circle cx="102.96" cy="461.3" r="4.45" fill="#ff9800"/><circle cx="104.93" cy="461.3" r="4.45" fill="#ffa300"/><circle cx="106.9" cy="461.3" r="4.45" fill="#ffae00"/><circle cx="108.87" cy="461.3" r="4.45" fill="#ffc100"/><circle cx="110.84" cy="461.3" r="4.45" fill="#ffd300"/><circle cx="112.81" cy="461.3" r="4.45" fill="#ffe600"/><circle cx="114.78" cy="461.3" r="4.45" fill="#f4f802"/><circle cx="116.76" cy="461.3" r="4.45" fill="#d7ff1f"/><circle cx="118.73" cy="461.3" r="4.45" fill="#beff39"/><circle cx="120.7" cy="461.3" r="4.45" fill="#a7ff50"/><circle cx="122.67" cy="461.3" r="4.45" fill="#94ff63"/><circle cx="124.64" cy="461.3" r="4.45" fill="#83ff73"/><circle cx="126.61" cy="461.3" r="4.45" fill="#77ff80"/><circle cx="128.58" cy="461.3" r="4.45" fill="#73ff83"/><circle cx="130.55" cy="461.3" r="4.45" fill="#6dff8a"/><circle cx="132.53" cy="461.3" r="4.45" fill="#66ff90"/><circle cx="134.5" cy="461.3" r="4.45" fill="#63ff94"/><circle cx="136.47" cy="461.3" r="4.45" fill="#5dff9a"/><circle cx="138.44" cy="461.3" r="4.45" fill="#5aff9d"/><circle cx="140.41" cy="461.3" r="4.45" fill="#53ffa4"/><circle cx="142.38" cy="461.3" r="4.45" fill="#4dffaa"/><circle cx="144.35" cy="461.3" r="4.45" fill="#49ffad"/><circle cx="146.32" cy="461.3" r="4.45" fill="#4dffaa"/><circle cx="148.29" cy="461.3" r="4.45" fill="#4dffaa"/><circle cx="150.27" cy="461.3" r="4.45" fill="#50ffa7"/><circle cx="152.24" cy="461.3" r="4.45" fill="#53ffa4"/><circle cx="154.21" cy="461.3" r="4.45" fill="#56ffa0"/><circle cx="156.18" cy="461.3" r="4.45" fill="#5aff9d"/><circle cx="158.15" cy="461.3" r="4.45" fill="#5dff9a"/><circle cx="160.12" cy="461.3" r="4.45" fill="#60ff97"/><circle cx="162.09" cy="461.3" r="4.45" fill="#63ff94"/><circle cx="164.06" cy="461.3" r="4.45" fill="#73ff83"/><circle cx="166.04" cy="461.3" r="4.45" fill="#83ff73"/><circle cx="168.01" cy="461.3" r="4.45" fill="#8dff6a"/><circle cx="169.98" cy="461.3" r="4.45" fill="#90ff66"/><circle cx="171.95" cy="461.3" r="4.45" fill="#90ff66"/><circle cx="173.92" cy="461.3" r="4.45" fill="#94ff63"/><circle cx="175.89" cy="461.3" r="4.45" fill="#8dff6a"/><circle cx="177.86" cy="461.3" r="4.45" fill="#87ff70"/><circle cx="179.83" cy="461.3" r="4.45" fill="#80ff77"/><circle cx="181.81" cy="461.3" r="4.45" fill="#77ff80"/><circle cx="183.78" cy="461.3" r="4.45" fill="#66ff90"/><circle cx="185.75" cy="461.3" r="4.45" fill="#56ffa0"/><circle cx="187.72" cy="461.3" r="4.45" fill="#53ffa4"/><circle cx="189.69" cy="461.3" r="4.45" fill="#53ffa4"/><circle cx="191.66" cy="461.3" r="4.45" fill="#53ffa4"/><circle cx="193.63" cy="461.3" r="4.45" fill="#53ffa4"/><circle cx="195.6" cy="461.3" r="4.45" fill="#53ffa4"/><circle cx="197.57" cy="461.3" r="4.45" fill="#53ffa4"/><circle cx="199.55" cy="461.3" r="4.45" fill="#53ffa4"/><circle cx="201.52" cy="461.3" r="4.45" fill="#56ffa0"/><circle cx="203.49" cy="461.3" r="4.45" fill="#60ff97"/><circle cx="205.46" cy="461.3" r="4.45" fill="#6aff8d"/><circle cx="207.43" cy="461.3" r="4.45" fill="#77ff80"/><circle cx="209.4" cy="461.3" r="4.45" fill="#83ff73"/><circle cx="211.37" cy="461.3" r="4.45" fill="#94ff63"/><circle cx="213.34" cy="461.3" r="4.45" fill="#a4ff53"/><circle cx="215.32" cy="461.3" r="4.45" fill="#b4ff43"/><circle cx="217.29" cy="461.3" r="4.45" fill="#caff2c"/><circle cx="219.26" cy="461.3" r="4.45" fill="#e1ff16"/><circle cx="221.23" cy="461.3" r="4.45" fill="#f8f500"/><circle cx="223.2" cy="461.3" r="4.45" fill="#ffde00"/><circle cx="225.17" cy="461.3" r="4.45" fill="#ffc400"/><circle cx="227.14" cy="461.3" r="4.45" fill="#ffab00"/><circle cx="229.11" cy="461.3" r="4.45" fill="#ff8900"/><circle cx="231.09" cy="461.3" r="4.45" fill="#ff6400"/><circle cx="233.06" cy="461.3" r="4.45" fill="#ff4e00"/><circle cx="235.03" cy="461.3" r="4.45" fill="#ff3f00"/><circle cx="237" cy="461.3" r="4.45" fill="#ff3f00"/><circle cx="238.97" cy="461.3" r="4.45" fill="#ff5900"/><circle cx="240.94" cy="461.3" r="4.45" fill="#ff7300"/><circle cx="242.91" cy="461.3" r="4.45" fill="#ff8d00"/><circle cx="244.88" cy="461.3" r="4.45" fill="#ff9800"/><circle cx="246.85" cy="461.3" r="4.45" fill="#ff9f00"/><circle cx="248.83" cy="461.3" r="4.45" fill="#ffae00"/><circle cx="250.8" cy="461.3" r="4.45" fill="#ffde00"/><circle cx="252.77" cy="461.3" r="4.45" fill="#e4ff13"/><circle cx="254.74" cy="461.3" r="4.45" fill="#ebff0c"/><circle cx="256.71" cy="461.3" r="4.45" fill="#fbf100"/><circle cx="258.68" cy="461.3" r="4.45" fill="#e1ff16"/><circle cx="260.65" cy="461.3" r="4.45" fill="#b1ff46"/><circle cx="262.62" cy="461.3" r="4.45" fill="#a0ff56"/><circle cx="264.6" cy="461.3" r="4.45" fill="#9dff5a"/><circle cx="266.57" cy="461.3" r="4.45" fill="#9aff5d"/><circle cx="268.54" cy="461.3" r="4.45" fill="#97ff60"/><circle cx="270.51" cy="461.3" r="4.45" fill="#94ff63"/><circle cx="272.48" cy="461.3" r="4.45" fill="#9dff5a"/><circle cx="274.45" cy="461.3" r="4.45" fill="#a4ff53"/><circle cx="276.42" cy="461.3" r="4.45" fill="#aaff4d"/><circle cx="278.39" cy="461.3" r="4.45" fill="#b1ff46"/><circle cx="280.37" cy="461.3" r="4.45" fill="#b1ff46"/><circle cx="282.34" cy="461.3" r="4.45" fill="#a4ff53"/><circle cx="284.31" cy="461.3" r="4.45" fill="#97ff60"/><circle cx="286.28" cy="461.3" r="4.45" fill="#94ff63"/><circle cx="288.25" cy="461.3" r="4.45" fill="#90ff66"/><circle cx="290.22" cy="461.3" r="4.45" fill="#8dff6a"/><circle cx="292.19" cy="461.3" r="4.45" fill="#8dff6a"/>
<path d="M111.33 544.45 111.93 537.01 112.52 529.58 113.13 522.14 113.74 514.7 114.36 507.26 114.99 499.83 115.62 492.39 116.27 484.95 116.92 477.51 117.59 470.08 118.27 462.64 118.95 455.2 119.65 447.76 120.36 440.33 121.08 432.89 121.82 425.45 122.57 418.01 123.34 410.58 124.12 403.14 124.93 395.7 125.75 388.26 126.59 380.83 127.46 373.39 128.34 365.95 129.26 358.51 130.21 351.07 131.18 343.64 132.2 336.2 133.25 328.76 134.35 321.32 135.5 313.89 136.71 306.45M211.87 544.45 211.16 537.01 210.45 529.58 209.73 522.14 209 514.7 208.26 507.26 207.52 499.83 206.77 492.39 206.01 484.95 205.24 477.51 204.46 470.08 203.66 462.64 202.86 455.2 202.05 447.76 201.22 440.33 200.38 432.89 199.53 425.45 198.66 418.01 197.78 410.58 196.88 403.14 195.96 395.7 195.03 388.26 194.07 380.83 193.09 373.39 192.08 365.95 191.05 358.51 189.99 351.07 188.9 343.64 187.77 336.2 186.6 328.76 185.39 321.32 184.12 313.89 182.79 306.45M96.06 544.45 96.54 537.01 97.03 529.58 97.52 522.14 98.01 514.7 98.51 507.26 99 499.83 99.51 492.39 100.01 484.95 100.52 477.51 101.04 470.08 101.55 462.64 102.07 455.2 102.6 447.76 103.13 440.33 103.66 432.89 104.2 425.45 104.74 418.01 105.29 410.58 105.84 403.14 106.4 395.7 106.96 388.26 107.53 380.83 108.1 373.39 108.68 365.95 109.26 358.51 109.86 351.07 110.45 343.64 111.06 336.2 111.67 328.76 112.29 321.32 112.92 313.89 113.55 306.45M224.68 544.45 224.13 537.01 223.57 529.58 223.01 522.14 222.45 514.7 221.88 507.26 221.32 499.83 220.74 492.39 220.17 484.95 219.59 477.51 219.01 470.08 218.42 462.64 217.83 455.2 217.24 447.76 216.64 440.33 216.04 432.89 215.43 425.45 214.82 418.01 214.2 410.58 213.58 403.14 212.95 395.7 212.32 388.26 211.69 380.83 211.04 373.39 210.39 365.95 209.74 358.51 209.08 351.07 208.41 343.64 207.74 336.2 207.06 328.76 206.37 321.32 205.67 313.89 204.97 306.45M79.3 544.45 79.72 537.01 80.14 529.58 80.56 522.14 80.98 514.7 81.4 507.26 81.83 499.83 82.25 492.39 82.68 484.95 83.11 477.51 83.54 470.08 83.97 462.64 84.4 455.2 84.84 447.76 85.27 440.33 85.71 432.89 86.15 425.45 86.59 418.01 87.04 410.58 87.48 403.14 87.93 395.7 88.38 388.26 88.83 380.83 89.29 373.39 89.74 365.95 90.2 358.51 90.66 351.07 91.12 343.64 91.59 336.2 92.05 328.76 92.52 321.32 93 313.89 93.47 306.45M237.25 544.45 236.8 537.01 236.36 529.58 235.91 522.14 235.46 514.7 235.01 507.26 234.56 499.83 234.11 492.39 233.65 484.95 233.2 477.51 232.74 470.08 232.28 462.64 231.82 455.2 231.36 447.76 230.9 440.33 230.43 432.89 229.96 425.45 229.5 418.01 229.02 410.58 228.55 403.14 228.08 395.7 227.6 388.26 227.12 380.83 226.64 373.39 226.16 365.95 225.67 358.51 225.19 351.07 224.7 343.64 224.21 336.2 223.71 328.76 223.22 321.32 222.72 313.89 222.21 306.45M61.56 544.45 61.92 537.01 62.28 529.58 62.64 522.14 63.01 514.7 63.37 507.26 63.73 499.83 64.1 492.39 64.46 484.95 64.82 477.51 65.19 470.08 65.55 462.64 65.92 455.2 66.29 447.76 66.66 440.33 67.02 432.89 67.39 425.45 67.76 418.01 68.13 410.58 68.5 403.14 68.87 395.7 69.25 388.26 69.62 380.83 69.99 373.39 70.37 365.95 70.74 358.51 71.12 351.07 71.49 343.64 71.87 336.2 72.25 328.76 72.63 321.32 73.01 313.89 73.39 306.45M249.57 544.45 249.22 537.01 248.87 529.58 248.52 522.14 248.17 514.7 247.82 507.26 247.46 499.83 247.11 492.39 246.76 484.95 246.41 477.51 246.05 470.08 245.7 462.64 245.35 455.2 244.99 447.76 244.63 440.33 244.28 432.89 243.92 425.45 243.56 418.01 243.2 410.58 242.84 403.14 242.48 395.7 242.12 388.26 241.76 380.83 241.4 373.39 241.04 365.95 240.67 358.51 240.31 351.07 239.95 343.64 239.58 336.2 239.21 328.76 238.85 321.32 238.48 313.89 238.11 306.45M41.85 544.45 42.19 537.01 42.54 529.58 42.88 522.14 43.22 514.7 43.57 507.26 43.91 499.83 44.26 492.39 44.6 484.95 44.94 477.51 45.29 470.08 45.63 462.64 45.98 455.2 46.32 447.76 46.67 440.33 47.02 432.89 47.36 425.45 47.71 418.01 48.06 410.58 48.4 403.14 48.75 395.7 49.1 388.26 49.44 380.83 49.79 373.39 50.14 365.95 50.49 358.51 50.84 351.07 51.19 343.64 51.54 336.2 51.89 328.76 52.24 321.32 52.59 313.89 52.94 306.45M262.38 544.45 262.08 537.01 261.78 529.58 261.49 522.14 261.19 514.7 260.89 507.26 260.59 499.83 260.3 492.39 260 484.95 259.7 477.51 259.4 470.08 259.1 462.64 258.8 455.2 258.5 447.76 258.2 440.33 257.9 432.89 257.61 425.45 257.3 418.01 257 410.58 256.7 403.14 256.4 395.7 256.1 388.26 255.8 380.83 255.5 373.39 255.2 365.95 254.89 358.51 254.59 351.07 254.29 343.64 253.99 336.2 253.68 328.76 253.38 321.32 253.07 313.89 252.77 306.45M21.15 544.45 21.49 537.01 21.83 529.58 22.17 522.14 22.51 514.7 22.85 507.26 23.19 499.83 23.52 492.39 23.86 484.95 24.2 477.51 24.54 470.08 24.88 462.64 25.22 455.2 25.56 447.76 25.89 440.33 26.23 432.89 26.57 425.45 26.91 418.01 27.25 410.58 27.59 403.14 27.93 395.7 28.26 388.26 28.6 380.83 28.94 373.39 29.28 365.95 29.62 358.51 29.96 351.07 30.3 343.64 30.64 336.2 30.98 328.76 31.32 321.32 31.65 313.89 31.99 306.45M274.7 544.45 274.47 537.01 274.24 529.58 274 522.14 273.77 514.7 273.54 507.26 273.31 499.83 273.08 492.39 272.85 484.95 272.62 477.51 272.39 470.08 272.16 462.64 271.93 455.2 271.7 447.76 271.47 440.33 271.23 432.89 271 425.45 270.77 418.01 270.54 410.58 270.31 403.14 270.08 395.7 269.85 388.26 269.62 380.83 269.39 373.39 269.16 365.95 268.93 358.51 268.69 351.07 268.46 343.64 268.23 336.2 268 328.76 267.77 321.32 267.54 313.89 267.31 306.45M150.51 544.45 150.72 544.06 150.92 543.68 151.13 543.31 151.33 542.95 151.54 542.6 151.74 542.26 151.95 541.92 152.15 541.6 152.35 541.29 152.55 540.99 152.75 540.7 152.96 540.42 153.16 540.14 153.36 539.88 153.56 539.63 153.75 539.39 153.95 539.16 154.15 538.93 154.35 538.72 154.55 538.52 154.74 538.32 154.94 538.14 155.14 537.97 155.33 537.8 155.53 537.65 155.72 537.51 155.92 537.37 156.11 537.25 156.3 537.14 156.5 537.03 156.69 536.94 156.88 536.85 157.07 536.78 157.26 536.71 157.45 536.66 157.64 536.62 157.83 536.58 158.02 536.56 158.21 536.54 158.4 536.54 158.58 536.54 158.77 536.56 158.96 536.58 159.15 536.62 159.33 536.66 159.52 536.71 159.7 536.78 159.89 536.85 160.07 536.94 160.25 537.03 160.44 537.14 160.62 537.25 160.8 537.37 160.98 537.51 161.16 537.65 161.34 537.8 161.52 537.97 161.7 538.14 161.88 538.32 162.06 538.52 162.24 538.72 162.42 538.93 162.6 539.16 162.77 539.39 162.95 539.63 163.13 539.88 163.3 540.14 163.48 540.42 163.65 540.7 163.83 540.99 164 541.29 164.17 541.6 164.35 541.92 164.52 542.26 164.69 542.6 164.86 542.95 165.03 543.31 165.2 543.68 165.37 544.06 165.54 544.45M136.22 544.45 136.79 541.14 137.37 537.9 137.94 534.75 138.52 531.68 139.1 528.69 139.67 525.78 140.25 522.95 140.83 520.21 141.41 517.55 141.99 514.96 142.57 512.47 143.15 510.05 143.74 507.72 144.32 505.47 144.9 503.3 145.49 501.22 146.07 499.22 146.66 497.3 147.25 495.47 147.83 493.72 148.42 492.06 149.01 490.48 149.6 488.99 150.19 487.58 150.78 486.25 151.38 485.01 151.97 483.86 152.56 482.79 153.16 481.8 153.75 480.9 154.35 480.09 154.95 479.36 155.55 478.72 156.14 478.16 156.74 477.69 157.34 477.31 157.94 477.01 158.55 476.79 159.15 476.66 159.75 476.62 160.36 476.66 160.96 476.79 161.57 477.01 162.17 477.31 162.78 477.69 163.39 478.16 164 478.72 164.61 479.36 165.22 480.09 165.83 480.9 166.44 481.8 167.05 482.79 167.67 483.86 168.28 485.01 168.9 486.25 169.51 487.58 170.13 488.99 170.74 490.48 171.36 492.06 171.98 493.72 172.6 495.47 173.22 497.3 173.84 499.22 174.46 501.22 175.09 503.3 175.71 505.47 176.33 507.72 176.96 510.05 177.58 512.47 178.21 514.96 178.84 517.55 179.47 520.21 180.09 522.95 180.72 525.78 181.35 528.69 181.98 531.68 182.62 534.75 183.25 537.9 183.88 541.14 184.52 544.45M123.78 544.45 124.65 536.62 125.52 528.96 126.39 521.49 127.26 514.19 128.13 507.08 129.01 500.16 129.89 493.42 130.76 486.86 131.64 480.5 132.53 474.32 133.41 468.33 134.29 462.54 135.18 456.94 136.07 451.53 136.96 446.32 137.85 441.3 138.74 436.48 139.64 431.86 140.54 427.44 141.43 423.21 142.33 419.19 143.23 415.37 144.14 411.75 145.04 408.34 145.95 405.13 146.86 402.12 147.77 399.32 148.68 396.72 149.59 394.33 150.51 392.14 151.42 390.16 152.34 388.39 153.26 386.83 154.18 385.47 155.11 384.33 156.03 383.39 156.96 382.66 157.89 382.14 158.82 381.82 159.75 381.72 160.69 381.82 161.62 382.14 162.56 382.66 163.5 383.39 164.44 384.33 165.38 385.47 166.33 386.83 167.27 388.39 168.22 390.16 169.17 392.14 170.12 394.33 171.08 396.72 172.03 399.32 172.99 402.12 173.95 405.13 174.91 408.34 175.87 411.75 176.83 415.37 177.8 419.19 178.76 423.21 179.73 427.44 180.7 431.86 181.67 436.48 182.65 441.3 183.62 446.32 184.6 451.53 185.58 456.94 186.56 462.54 187.54 468.33 188.52 474.32 189.51 480.5 190.49 486.86 191.48 493.42 192.47 500.16 193.46 507.08 194.45 514.19 195.45 521.49 196.44 528.96 197.44 536.62 198.44 544.45" fill="none" stroke="#000" stroke-width="0.55"/>
</g>
<rect x="41.85" y="306.45" width="246.4" height="238" fill="none" stroke="#000" stroke-width="0.7"/>
<text x="66.49" y="556.55" font-size="8.15" text-anchor="middle" fill="#000">&#x2212;40</text>
<text x="115.77" y="556.55" font-size="8.15" text-anchor="middle" fill="#000">&#x2212;20</text>
<text x="165.05" y="556.55" font-size="8.15" text-anchor="middle" fill="#000">0</text>
<text x="214.33" y="556.55" font-size="8.15" text-anchor="middle" fill="#000">20</text>
<text x="263.61" y="556.55" font-size="8.15" text-anchor="middle" fill="#000">40</text>
<text x="36.05" y="547.95" font-size="8.15" text-anchor="end" fill="#000">200</text>
<text x="36.05" y="518.2" font-size="8.15" text-anchor="end" fill="#000">300</text>
<text x="36.05" y="488.45" font-size="8.15" text-anchor="end" fill="#000">400</text>
<text x="36.05" y="458.7" font-size="8.15" text-anchor="end" fill="#000">500</text>
<text x="36.05" y="428.95" font-size="8.15" text-anchor="end" fill="#000">600</text>
<text x="36.05" y="399.2" font-size="8.15" text-anchor="end" fill="#000">700</text>
<text x="36.05" y="369.45" font-size="8.15" text-anchor="end" fill="#000">800</text>
<text x="36.05" y="339.7" font-size="8.15" text-anchor="end" fill="#000">900</text>
<text x="36.05" y="309.95" font-size="8.15" text-anchor="end" fill="#000">1000</text>
<path d="M66.49 544.45v3M115.77 544.45v3M165.05 544.45v3M214.33 544.45v3M263.61 544.45v3M41.85 544.45h-3M41.85 514.7h-3M41.85 484.95h-3M41.85 455.2h-3M41.85 425.45h-3M41.85 395.7h-3M41.85 365.95h-3M41.85 336.2h-3M41.85 306.45h-3" stroke="#000" stroke-width="0.7" fill="none"/>
<text x="165.55" y="571.1" font-size="11.65" text-anchor="middle" fill="#000">Geo Latitude (<tspan dx="1.9" dy="-5.0" font-size="8.15">&#x2218;</tspan><tspan dx="2.1" dy="5.0">)</tspan></text>
<text transform="translate(9.15 425.45) rotate(-90)" font-size="11.65" text-anchor="middle" fill="#000">Altitude (km)</text>
<text x="165.55" y="301.35" font-size="11.55" text-anchor="middle" fill="#8b0000">(c) 10 May (Storm day), 305<tspan dx="1.5" dy="-5.4" font-size="8.05">&#x2218;</tspan><tspan dx="2.4" dy="5.4">E</tspan></text>
<text x="45.65" y="344.35" font-size="12.35" text-anchor="start" fill="#000">DMSP</text>
<text x="45.65" y="453.3" font-size="12.35" text-anchor="start" fill="#000">Swarm</text>
<rect x="303.45" y="306.45" width="12.3" height="238" fill="url(#jet)" stroke="#000" stroke-width="0.7"/>
<text x="321.35" y="547.85" font-size="8.15" fill="#000">10<tspan dy="-3.2" font-size="6.4">3</tspan></text>
<text x="321.35" y="488.35" font-size="8.15" fill="#000">10<tspan dy="-3.2" font-size="6.4">4</tspan></text>
<text x="321.35" y="428.85" font-size="8.15" fill="#000">10<tspan dy="-3.2" font-size="6.4">5</tspan></text>
<text x="321.35" y="369.35" font-size="8.15" fill="#000">10<tspan dy="-3.2" font-size="6.4">6</tspan></text>
<text x="321.35" y="309.85" font-size="8.15" fill="#000">10<tspan dy="-3.2" font-size="6.4">7</tspan></text>
<text transform="translate(347.95 425.45) rotate(-90)" font-size="10.2" text-anchor="middle" fill="#000"><tspan font-style="italic">N<tspan dy="1.8" font-size="9">e</tspan><tspan dy="-1.8"> (cm</tspan><tspan dy="-3.9" font-size="7.1">&#x2212;3</tspan><tspan dy="3.9">)</tspan></tspan></text>
<path d="M315.75 544.45h3M315.75 526.54h1.5M315.75 516.06h1.5M315.75 508.63h1.5M315.75 502.86h1.5M315.75 498.15h1.5M315.75 494.17h1.5M315.75 490.72h1.5M315.75 487.67h1.5M315.75 484.95h3M315.75 467.04h1.5M315.75 456.56h1.5M315.75 449.13h1.5M315.75 443.36h1.5M315.75 438.65h1.5M315.75 434.67h1.5M315.75 431.22h1.5M315.75 428.17h1.5M315.75 425.45h3M315.75 407.54h1.5M315.75 397.06h1.5M315.75 389.63h1.5M315.75 383.86h1.5M315.75 379.15h1.5M315.75 375.17h1.5M315.75 371.72h1.5M315.75 368.67h1.5M315.75 365.95h3M315.75 348.04h1.5M315.75 337.56h1.5M315.75 330.13h1.5M315.75 324.36h1.5M315.75 319.65h1.5M315.75 315.67h1.5M315.75 312.22h1.5M315.75 309.17h1.5M315.75 306.45h3" stroke="#000" stroke-width="0.7" fill="none"/>
<g clip-path="url(#cp_d)">
<circle cx="376.44" cy="354.05" r="4.45" fill="#800000"/><circle cx="377.92" cy="354.05" r="4.45" fill="#a7ff50"/><circle cx="379.89" cy="354.05" r="4.45" fill="#9dff5a"/><circle cx="381.86" cy="354.05" r="4.45" fill="#8aff6d"/><circle cx="383.83" cy="354.05" r="4.45" fill="#63ff94"/><circle cx="385.8" cy="354.05" r="4.45" fill="#40ffb7"/><circle cx="387.78" cy="354.05" r="4.45" fill="#2cffca"/><circle cx="389.75" cy="354.05" r="4.45" fill="#26ffd1"/><circle cx="391.72" cy="354.05" r="4.45" fill="#23ffd4"/><circle cx="393.69" cy="354.05" r="4.45" fill="#1cffdb"/><circle cx="395.66" cy="354.05" r="4.45" fill="#02e8f4"/><circle cx="397.64" cy="354.05" r="4.45" fill="#0cf4eb"/><circle cx="399.61" cy="354.05" r="4.45" fill="#00e4f8"/><circle cx="401.58" cy="354.05" r="4.45" fill="#00d4ff"/><circle cx="403.55" cy="354.05" r="4.45" fill="#00ccff"/><circle cx="405.52" cy="354.05" r="4.45" fill="#00ccff"/><circle cx="407.5" cy="354.05" r="4.45" fill="#00d4ff"/><circle cx="409.47" cy="354.05" r="4.45" fill="#00c0ff"/><circle cx="411.44" cy="354.05" r="4.45" fill="#00ccff"/><circle cx="413.41" cy="354.05" r="4.45" fill="#00bcff"/><circle cx="415.38" cy="354.05" r="4.45" fill="#00acff"/><circle cx="417.36" cy="354.05" r="4.45" fill="#00b8ff"/><circle cx="419.33" cy="354.05" r="4.45" fill="#00bcff"/><circle cx="421.3" cy="354.05" r="4.45" fill="#00a0ff"/><circle cx="423.27" cy="354.05" r="4.45" fill="#00b4ff"/><circle cx="425.24" cy="354.05" r="4.45" fill="#00b4ff"/><circle cx="427.22" cy="354.05" r="4.45" fill="#00d0ff"/><circle cx="429.19" cy="354.05" r="4.45" fill="#00d0ff"/><circle cx="431.16" cy="354.05" r="4.45" fill="#00b0ff"/><circle cx="433.13" cy="354.05" r="4.45" fill="#00c8ff"/><circle cx="435.1" cy="354.05" r="4.45" fill="#00c0ff"/><circle cx="437.08" cy="354.05" r="4.45" fill="#00a0ff"/><circle cx="439.05" cy="354.05" r="4.45" fill="#00a8ff"/><circle cx="441.02" cy="354.05" r="4.45" fill="#0094ff"/><circle cx="442.99" cy="354.05" r="4.45" fill="#00b4ff"/><circle cx="444.96" cy="354.05" r="4.45" fill="#00a8ff"/><circle cx="446.94" cy="354.05" r="4.45" fill="#00b0ff"/><circle cx="448.91" cy="354.05" r="4.45" fill="#00acff"/><circle cx="450.88" cy="354.05" r="4.45" fill="#00a4ff"/><circle cx="452.85" cy="354.05" r="4.45" fill="#00a4ff"/><circle cx="454.82" cy="354.05" r="4.45" fill="#009cff"/><circle cx="456.8" cy="354.05" r="4.45" fill="#0084ff"/><circle cx="458.77" cy="354.05" r="4.45" fill="#009cff"/><circle cx="460.74" cy="354.05" r="4.45" fill="#007cff"/><circle cx="462.71" cy="354.05" r="4.45" fill="#0080ff"/><circle cx="464.68" cy="354.05" r="4.45" fill="#00a0ff"/><circle cx="466.66" cy="354.05" r="4.45" fill="#0078ff"/><circle cx="468.63" cy="354.05" r="4.45" fill="#007cff"/><circle cx="470.6" cy="354.05" r="4.45" fill="#007cff"/><circle cx="472.57" cy="354.05" r="4.45" fill="#00a0ff"/><circle cx="474.54" cy="354.05" r="4.45" fill="#007cff"/><circle cx="476.52" cy="354.05" r="4.45" fill="#0074ff"/><circle cx="478.49" cy="354.05" r="4.45" fill="#009cff"/><circle cx="480.46" cy="354.05" r="4.45" fill="#0078ff"/><circle cx="482.43" cy="354.05" r="4.45" fill="#0098ff"/><circle cx="484.4" cy="354.05" r="4.45" fill="#0098ff"/><circle cx="486.38" cy="354.05" r="4.45" fill="#00a8ff"/><circle cx="488.35" cy="354.05" r="4.45" fill="#00b8ff"/><circle cx="490.32" cy="354.05" r="4.45" fill="#00a8ff"/><circle cx="492.29" cy="354.05" r="4.45" fill="#00b0ff"/><circle cx="494.26" cy="354.05" r="4.45" fill="#0084ff"/><circle cx="496.24" cy="354.05" r="4.45" fill="#00a4ff"/><circle cx="498.21" cy="354.05" r="4.45" fill="#0094ff"/><circle cx="500.18" cy="354.05" r="4.45" fill="#00a0ff"/><circle cx="502.15" cy="354.05" r="4.45" fill="#0084ff"/><circle cx="504.12" cy="354.05" r="4.45" fill="#00a8ff"/><circle cx="506.1" cy="354.05" r="4.45" fill="#00b0ff"/><circle cx="508.07" cy="354.05" r="4.45" fill="#0084ff"/><circle cx="510.04" cy="354.05" r="4.45" fill="#0090ff"/><circle cx="512.01" cy="354.05" r="4.45" fill="#009cff"/><circle cx="513.98" cy="354.05" r="4.45" fill="#00a8ff"/><circle cx="515.96" cy="354.05" r="4.45" fill="#0088ff"/><circle cx="517.93" cy="354.05" r="4.45" fill="#0084ff"/><circle cx="519.9" cy="354.05" r="4.45" fill="#0088ff"/><circle cx="521.87" cy="354.05" r="4.45" fill="#0098ff"/><circle cx="523.84" cy="354.05" r="4.45" fill="#009cff"/><circle cx="525.82" cy="354.05" r="4.45" fill="#0088ff"/><circle cx="527.79" cy="354.05" r="4.45" fill="#0088ff"/><circle cx="529.76" cy="354.05" r="4.45" fill="#0088ff"/><circle cx="531.73" cy="354.05" r="4.45" fill="#0084ff"/><circle cx="533.7" cy="354.05" r="4.45" fill="#0084ff"/><circle cx="535.68" cy="354.05" r="4.45" fill="#0078ff"/><circle cx="537.65" cy="354.05" r="4.45" fill="#0090ff"/><circle cx="539.62" cy="354.05" r="4.45" fill="#00b0ff"/><circle cx="541.59" cy="354.05" r="4.45" fill="#0098ff"/><circle cx="543.56" cy="354.05" r="4.45" fill="#00b0ff"/><circle cx="545.54" cy="354.05" r="4.45" fill="#0094ff"/><circle cx="547.51" cy="354.05" r="4.45" fill="#00b8ff"/><circle cx="549.48" cy="354.05" r="4.45" fill="#00c0ff"/><circle cx="551.45" cy="354.05" r="4.45" fill="#00c0ff"/><circle cx="553.42" cy="354.05" r="4.45" fill="#00c4ff"/><circle cx="555.4" cy="354.05" r="4.45" fill="#00d8ff"/><circle cx="557.37" cy="354.05" r="4.45" fill="#0cf4eb"/><circle cx="559.34" cy="354.05" r="4.45" fill="#26ffd1"/><circle cx="561.31" cy="354.05" r="4.45" fill="#0ff8e7"/><circle cx="563.28" cy="354.05" r="4.45" fill="#16ffe1"/><circle cx="565.26" cy="354.05" r="4.45" fill="#39ffbe"/><circle cx="567.23" cy="354.05" r="4.45" fill="#46ffb1"/><circle cx="569.2" cy="354.05" r="4.45" fill="#3cffba"/><circle cx="571.17" cy="354.05" r="4.45" fill="#40ffb7"/><circle cx="573.14" cy="354.05" r="4.45" fill="#50ffa7"/><circle cx="575.12" cy="354.05" r="4.45" fill="#40ffb7"/><circle cx="577.09" cy="354.05" r="4.45" fill="#4dffaa"/><circle cx="579.06" cy="354.05" r="4.45" fill="#53ffa4"/><circle cx="581.03" cy="354.05" r="4.45" fill="#6dff8a"/><circle cx="583" cy="354.05" r="4.45" fill="#6dff8a"/><circle cx="584.98" cy="354.05" r="4.45" fill="#ffe600"/><circle cx="586.95" cy="354.05" r="4.45" fill="#ff2d00"/><circle cx="588.92" cy="354.05" r="4.45" fill="#800000"/><circle cx="590.89" cy="354.05" r="4.45" fill="#800000"/><circle cx="592.86" cy="354.05" r="4.45" fill="#800000"/><circle cx="594.84" cy="354.05" r="4.45" fill="#800000"/><circle cx="596.81" cy="354.05" r="4.45" fill="#800000"/><circle cx="598.78" cy="354.05" r="4.45" fill="#800000"/><circle cx="600.75" cy="354.05" r="4.45" fill="#800000"/><circle cx="602.72" cy="354.05" r="4.45" fill="#800000"/><circle cx="604.7" cy="354.05" r="4.45" fill="#ff9c00"/><circle cx="606.67" cy="354.05" r="4.45" fill="#800000"/><circle cx="608.64" cy="354.05" r="4.45" fill="#800000"/><circle cx="610.61" cy="354.05" r="4.45" fill="#800000"/><circle cx="612.58" cy="354.05" r="4.45" fill="#d1ff26"/><circle cx="614.56" cy="354.05" r="4.45" fill="#ff3400"/><circle cx="616.53" cy="354.05" r="4.45" fill="#ff5900"/><circle cx="618.5" cy="354.05" r="4.45" fill="#ff5500"/><circle cx="620.47" cy="354.05" r="4.45" fill="#ff6400"/><circle cx="622.44" cy="354.05" r="4.45" fill="#ff7300"/>
<rect x="372" y="456.85" width="246.5" height="8.9" fill="url(#g_d_swarm)"/>
<circle cx="368.06" cy="461.3" r="4.45" fill="#c1ff36"/><circle cx="370.03" cy="461.3" r="4.45" fill="#baff3c"/><circle cx="372" cy="461.3" r="4.45" fill="#ceff29"/><circle cx="373.97" cy="461.3" r="4.45" fill="#caff2c"/><circle cx="375.94" cy="461.3" r="4.45" fill="#baff3c"/><circle cx="377.92" cy="461.3" r="4.45" fill="#adff49"/><circle cx="379.89" cy="461.3" r="4.45" fill="#87ff70"/><circle cx="381.86" cy="461.3" r="4.45" fill="#73ff83"/><circle cx="383.83" cy="461.3" r="4.45" fill="#4dffaa"/><circle cx="385.8" cy="461.3" r="4.45" fill="#63ff94"/><circle cx="387.78" cy="461.3" r="4.45" fill="#40ffb7"/><circle cx="389.75" cy="461.3" r="4.45" fill="#43ffb4"/><circle cx="391.72" cy="461.3" r="4.45" fill="#39ffbe"/><circle cx="393.69" cy="461.3" r="4.45" fill="#46ffb1"/><circle cx="395.66" cy="461.3" r="4.45" fill="#43ffb4"/><circle cx="397.64" cy="461.3" r="4.45" fill="#36ffc1"/><circle cx="399.61" cy="461.3" r="4.45" fill="#30ffc7"/><circle cx="401.58" cy="461.3" r="4.45" fill="#36ffc1"/><circle cx="403.55" cy="461.3" r="4.45" fill="#39ffbe"/><circle cx="405.52" cy="461.3" r="4.45" fill="#23ffd4"/><circle cx="407.5" cy="461.3" r="4.45" fill="#2cffca"/><circle cx="409.47" cy="461.3" r="4.45" fill="#33ffc4"/><circle cx="411.44" cy="461.3" r="4.45" fill="#1cffdb"/><circle cx="413.41" cy="461.3" r="4.45" fill="#0ff8e7"/><circle cx="415.38" cy="461.3" r="4.45" fill="#0cf4eb"/><circle cx="417.36" cy="461.3" r="4.45" fill="#23ffd4"/><circle cx="419.33" cy="461.3" r="4.45" fill="#23ffd4"/><circle cx="421.3" cy="461.3" r="4.45" fill="#30ffc7"/><circle cx="423.27" cy="461.3" r="4.45" fill="#2cffca"/><circle cx="425.24" cy="461.3" r="4.45" fill="#16ffe1"/><circle cx="427.22" cy="461.3" r="4.45" fill="#19ffde"/><circle cx="429.19" cy="461.3" r="4.45" fill="#23ffd4"/><circle cx="431.16" cy="461.3" r="4.45" fill="#26ffd1"/><circle cx="433.13" cy="461.3" r="4.45" fill="#43ffb4"/><circle cx="435.1" cy="461.3" r="4.45" fill="#50ffa7"/><circle cx="437.08" cy="461.3" r="4.45" fill="#5dff9a"/><circle cx="439.05" cy="461.3" r="4.45" fill="#4dffaa"/><circle cx="441.02" cy="461.3" r="4.45" fill="#70ff87"/><circle cx="442.99" cy="461.3" r="4.45" fill="#63ff94"/><circle cx="444.96" cy="461.3" r="4.45" fill="#73ff83"/><circle cx="446.94" cy="461.3" r="4.45" fill="#80ff77"/><circle cx="448.91" cy="461.3" r="4.45" fill="#5dff9a"/><circle cx="450.88" cy="461.3" r="4.45" fill="#56ffa0"/><circle cx="452.85" cy="461.3" r="4.45" fill="#6aff8d"/><circle cx="454.82" cy="461.3" r="4.45" fill="#5aff9d"/><circle cx="456.8" cy="461.3" r="4.45" fill="#63ff94"/><circle cx="458.77" cy="461.3" r="4.45" fill="#77ff80"/><circle cx="460.74" cy="461.3" r="4.45" fill="#83ff73"/><circle cx="462.71" cy="461.3" r="4.45" fill="#8aff6d"/><circle cx="464.68" cy="461.3" r="4.45" fill="#c4ff33"/><circle cx="466.66" cy="461.3" r="4.45" fill="#ffb600"/><circle cx="468.63" cy="461.3" r="4.45" fill="#ff7e00"/><circle cx="470.6" cy="461.3" r="4.45" fill="#ff8900"/><circle cx="472.57" cy="461.3" r="4.45" fill="#ffa700"/><circle cx="474.54" cy="461.3" r="4.45" fill="#ffc100"/><circle cx="476.52" cy="461.3" r="4.45" fill="#f1fc06"/><circle cx="478.49" cy="461.3" r="4.45" fill="#dbff1c"/><circle cx="480.46" cy="461.3" r="4.45" fill="#b1ff46"/><circle cx="482.43" cy="461.3" r="4.45" fill="#9dff5a"/><circle cx="484.4" cy="461.3" r="4.45" fill="#e1ff16"/><circle cx="486.38" cy="461.3" r="4.45" fill="#ffde00"/><circle cx="488.35" cy="461.3" r="4.45" fill="#ffae00"/><circle cx="490.32" cy="461.3" r="4.45" fill="#ffc400"/><circle cx="492.29" cy="461.3" r="4.45" fill="#f4f802"/><circle cx="494.26" cy="461.3" r="4.45" fill="#ffb200"/><circle cx="496.24" cy="461.3" r="4.45" fill="#ffc400"/><circle cx="498.21" cy="461.3" r="4.45" fill="#ffd300"/><circle cx="500.18" cy="461.3" r="4.45" fill="#fbf100"/><circle cx="502.15" cy="461.3" r="4.45" fill="#f4f802"/><circle cx="504.12" cy="461.3" r="4.45" fill="#ffd700"/><circle cx="506.1" cy="461.3" r="4.45" fill="#ffcc00"/><circle cx="508.07" cy="461.3" r="4.45" fill="#ffb600"/><circle cx="510.04" cy="461.3" r="4.45" fill="#ffc400"/><circle cx="512.01" cy="461.3" r="4.45" fill="#ffae00"/><circle cx="513.98" cy="461.3" r="4.45" fill="#ffb200"/><circle cx="515.96" cy="461.3" r="4.45" fill="#ffd000"/><circle cx="517.93" cy="461.3" r="4.45" fill="#ffea00"/><circle cx="519.9" cy="461.3" r="4.45" fill="#deff19"/><circle cx="521.87" cy="461.3" r="4.45" fill="#deff19"/><circle cx="523.84" cy="461.3" r="4.45" fill="#c7ff30"/><circle cx="525.82" cy="461.3" r="4.45" fill="#dbff1c"/><circle cx="527.79" cy="461.3" r="4.45" fill="#deff19"/><circle cx="529.76" cy="461.3" r="4.45" fill="#deff19"/><circle cx="531.73" cy="461.3" r="4.45" fill="#deff19"/><circle cx="533.7" cy="461.3" r="4.45" fill="#ffdb00"/><circle cx="535.68" cy="461.3" r="4.45" fill="#ffc100"/><circle cx="537.65" cy="461.3" r="4.45" fill="#feed00"/><circle cx="539.62" cy="461.3" r="4.45" fill="#ffde00"/><circle cx="541.59" cy="461.3" r="4.45" fill="#eeff09"/><circle cx="543.56" cy="461.3" r="4.45" fill="#d1ff26"/><circle cx="545.54" cy="461.3" r="4.45" fill="#e7ff0f"/><circle cx="547.51" cy="461.3" r="4.45" fill="#c4ff33"/><circle cx="549.48" cy="461.3" r="4.45" fill="#e4ff13"/><circle cx="551.45" cy="461.3" r="4.45" fill="#feed00"/><circle cx="553.42" cy="461.3" r="4.45" fill="#c7ff30"/><circle cx="555.4" cy="461.3" r="4.45" fill="#94ff63"/><circle cx="557.37" cy="461.3" r="4.45" fill="#60ff97"/><circle cx="559.34" cy="461.3" r="4.45" fill="#23ffd4"/><circle cx="561.31" cy="461.3" r="4.45" fill="#00dcfe"/><circle cx="563.28" cy="461.3" r="4.45" fill="#00acff"/><circle cx="565.26" cy="461.3" r="4.45" fill="#00b0ff"/><circle cx="567.23" cy="461.3" r="4.45" fill="#06ecf1"/><circle cx="569.2" cy="461.3" r="4.45" fill="#1cffdb"/><circle cx="571.17" cy="461.3" r="4.45" fill="#29ffce"/><circle cx="573.14" cy="461.3" r="4.45" fill="#43ffb4"/><circle cx="575.12" cy="461.3" r="4.45" fill="#49ffad"/><circle cx="577.09" cy="461.3" r="4.45" fill="#5aff9d"/><circle cx="579.06" cy="461.3" r="4.45" fill="#73ff83"/><circle cx="581.03" cy="461.3" r="4.45" fill="#ffe200"/><circle cx="583" cy="461.3" r="4.45" fill="#ff9100"/><circle cx="584.98" cy="461.3" r="4.45" fill="#a4ff53"/><circle cx="586.95" cy="461.3" r="4.45" fill="#ffbd00"/><circle cx="588.92" cy="461.3" r="4.45" fill="#800000"/><circle cx="590.89" cy="461.3" r="4.45" fill="#800000"/><circle cx="592.86" cy="461.3" r="4.45" fill="#800000"/><circle cx="594.84" cy="461.3" r="4.45" fill="#800000"/><circle cx="596.81" cy="461.3" r="4.45" fill="#800000"/><circle cx="598.78" cy="461.3" r="4.45" fill="#800000"/><circle cx="600.75" cy="461.3" r="4.45" fill="#800000"/><circle cx="602.72" cy="461.3" r="4.45" fill="#800000"/><circle cx="604.7" cy="461.3" r="4.45" fill="#800000"/><circle cx="606.67" cy="461.3" r="4.45" fill="#800000"/><circle cx="608.64" cy="461.3" r="4.45" fill="#800000"/><circle cx="610.61" cy="461.3" r="4.45" fill="#800000"/><circle cx="612.58" cy="461.3" r="4.45" fill="#800000"/><circle cx="614.56" cy="461.3" r="4.45" fill="#800000"/><circle cx="616.53" cy="461.3" r="4.45" fill="#800000"/><circle cx="618.5" cy="461.3" r="4.45" fill="#800000"/><circle cx="620.47" cy="461.3" r="4.45" fill="#800000"/><circle cx="622.44" cy="461.3" r="4.45" fill="#800000"/>
<path d="M441.51 544.45 442.1 537.01 442.7 529.58 443.31 522.14 443.92 514.7 444.54 507.26 445.17 499.83 445.8 492.39 446.45 484.95 447.11 477.51 447.77 470.08 448.45 462.64 449.13 455.2 449.83 447.76 450.54 440.33 451.27 432.89 452 425.45 452.76 418.01 453.52 410.58 454.31 403.14 455.11 395.7 455.93 388.26 456.77 380.83 457.64 373.39 458.53 365.95 459.45 358.51 460.39 351.07 461.37 343.64 462.38 336.2 463.44 328.76 464.54 321.32 465.69 313.89 466.9 306.45M542.09 544.45 541.38 537.01 540.67 529.58 539.95 522.14 539.22 514.7 538.48 507.26 537.74 499.83 536.99 492.39 536.22 484.95 535.45 477.51 534.67 470.08 533.88 462.64 533.08 455.2 532.26 447.76 531.44 440.33 530.6 432.89 529.75 425.45 528.88 418.01 527.99 410.58 527.09 403.14 526.18 395.7 525.24 388.26 524.28 380.83 523.3 373.39 522.3 365.95 521.26 358.51 520.2 351.07 519.11 343.64 517.98 336.2 516.81 328.76 515.59 321.32 514.33 313.89 513 306.45M426.23 544.45 426.71 537.01 427.2 529.58 427.69 522.14 428.18 514.7 428.68 507.26 429.18 499.83 429.68 492.39 430.19 484.95 430.7 477.51 431.21 470.08 431.73 462.64 432.25 455.2 432.77 447.76 433.3 440.33 433.84 432.89 434.37 425.45 434.92 418.01 435.46 410.58 436.02 403.14 436.57 395.7 437.14 388.26 437.7 380.83 438.28 373.39 438.86 365.95 439.44 358.51 440.03 351.07 440.63 343.64 441.24 336.2 441.85 328.76 442.47 321.32 443.1 313.89 443.73 306.45M554.9 544.45 554.35 537.01 553.79 529.58 553.24 522.14 552.67 514.7 552.11 507.26 551.54 499.83 550.97 492.39 550.39 484.95 549.81 477.51 549.23 470.08 548.64 462.64 548.05 455.2 547.46 447.76 546.86 440.33 546.26 432.89 545.65 425.45 545.04 418.01 544.42 410.58 543.8 403.14 543.17 395.7 542.54 388.26 541.9 380.83 541.26 373.39 540.61 365.95 539.96 358.51 539.3 351.07 538.63 343.64 537.95 336.2 537.27 328.76 536.58 321.32 535.89 313.89 535.18 306.45M409.47 544.45 409.89 537.01 410.3 529.58 410.72 522.14 411.15 514.7 411.57 507.26 411.99 499.83 412.42 492.39 412.85 484.95 413.27 477.51 413.7 470.08 414.14 462.64 414.57 455.2 415.01 447.76 415.44 440.33 415.88 432.89 416.32 425.45 416.76 418.01 417.21 410.58 417.65 403.14 418.1 395.7 418.55 388.26 419 380.83 419.46 373.39 419.91 365.95 420.37 358.51 420.83 351.07 421.29 343.64 421.76 336.2 422.22 328.76 422.69 321.32 423.17 313.89 423.64 306.45M567.47 544.45 567.03 537.01 566.58 529.58 566.14 522.14 565.69 514.7 565.24 507.26 564.79 499.83 564.34 492.39 563.88 484.95 563.43 477.51 562.97 470.08 562.51 462.64 562.05 455.2 561.59 447.76 561.12 440.33 560.66 432.89 560.19 425.45 559.72 418.01 559.25 410.58 558.78 403.14 558.3 395.7 557.83 388.26 557.35 380.83 556.87 373.39 556.38 365.95 555.9 358.51 555.41 351.07 554.92 343.64 554.43 336.2 553.94 328.76 553.44 321.32 552.94 313.89 552.44 306.45M391.72 544.45 392.08 537.01 392.44 529.58 392.8 522.14 393.17 514.7 393.53 507.26 393.89 499.83 394.25 492.39 394.62 484.95 394.98 477.51 395.35 470.08 395.71 462.64 396.08 455.2 396.45 447.76 396.82 440.33 397.18 432.89 397.55 425.45 397.92 418.01 398.29 410.58 398.66 403.14 399.03 395.7 399.41 388.26 399.78 380.83 400.15 373.39 400.53 365.95 400.9 358.51 401.28 351.07 401.66 343.64 402.03 336.2 402.41 328.76 402.79 321.32 403.17 313.89 403.55 306.45M579.8 544.45 579.45 537.01 579.1 529.58 578.75 522.14 578.4 514.7 578.05 507.26 577.7 499.83 577.35 492.39 576.99 484.95 576.64 477.51 576.29 470.08 575.93 462.64 575.58 455.2 575.22 447.76 574.87 440.33 574.51 432.89 574.15 425.45 573.79 418.01 573.44 410.58 573.08 403.14 572.72 395.7 572.36 388.26 571.99 380.83 571.63 373.39 571.27 365.95 570.91 358.51 570.54 351.07 570.18 343.64 569.81 336.2 569.44 328.76 569.08 321.32 568.71 313.89 568.34 306.45M372 544.45 372.34 537.01 372.69 529.58 373.03 522.14 373.37 514.7 373.72 507.26 374.06 499.83 374.41 492.39 374.75 484.95 375.1 477.51 375.44 470.08 375.79 462.64 376.13 455.2 376.48 447.76 376.82 440.33 377.17 432.89 377.51 425.45 377.86 418.01 378.21 410.58 378.55 403.14 378.9 395.7 379.25 388.26 379.6 380.83 379.95 373.39 380.29 365.95 380.64 358.51 380.99 351.07 381.34 343.64 381.69 336.2 382.04 328.76 382.39 321.32 382.74 313.89 383.09 306.45M592.62 544.45 592.32 537.01 592.02 529.58 591.73 522.14 591.43 514.7 591.13 507.26 590.83 499.83 590.53 492.39 590.24 484.95 589.94 477.51 589.64 470.08 589.34 462.64 589.04 455.2 588.74 447.76 588.44 440.33 588.14 432.89 587.84 425.45 587.54 418.01 587.24 410.58 586.94 403.14 586.64 395.7 586.34 388.26 586.04 380.83 585.74 373.39 585.43 365.95 585.13 358.51 584.83 351.07 584.52 343.64 584.22 336.2 583.92 328.76 583.61 321.32 583.31 313.89 583 306.45M351.29 544.45 351.63 537.01 351.97 529.58 352.31 522.14 352.65 514.7 352.99 507.26 353.33 499.83 353.67 492.39 354.01 484.95 354.34 477.51 354.68 470.08 355.02 462.64 355.36 455.2 355.7 447.76 356.04 440.33 356.38 432.89 356.72 425.45 357.05 418.01 357.39 410.58 357.73 403.14 358.07 395.7 358.41 388.26 358.75 380.83 359.09 373.39 359.43 365.95 359.77 358.51 360.1 351.07 360.44 343.64 360.78 336.2 361.12 328.76 361.46 321.32 361.8 313.89 362.14 306.45M604.94 544.45 604.71 537.01 604.48 529.58 604.25 522.14 604.02 514.7 603.79 507.26 603.56 499.83 603.32 492.39 603.09 484.95 602.86 477.51 602.63 470.08 602.4 462.64 602.17 455.2 601.94 447.76 601.71 440.33 601.48 432.89 601.25 425.45 601.02 418.01 600.78 410.58 600.55 403.14 600.32 395.7 600.09 388.26 599.86 380.83 599.63 373.39 599.4 365.95 599.17 358.51 598.94 351.07 598.7 343.64 598.47 336.2 598.24 328.76 598.01 321.32 597.78 313.89 597.55 306.45M480.71 544.45 480.91 544.06 481.12 543.68 481.32 543.31 481.53 542.95 481.73 542.6 481.94 542.26 482.14 541.92 482.34 541.6 482.55 541.29 482.75 540.99 482.95 540.7 483.15 540.42 483.35 540.14 483.55 539.88 483.75 539.63 483.95 539.39 484.15 539.16 484.35 538.93 484.55 538.72 484.74 538.52 484.94 538.32 485.14 538.14 485.33 537.97 485.53 537.8 485.72 537.65 485.92 537.51 486.11 537.37 486.31 537.25 486.5 537.14 486.69 537.03 486.88 536.94 487.08 536.85 487.27 536.78 487.46 536.71 487.65 536.66 487.84 536.62 488.03 536.58 488.22 536.56 488.41 536.54 488.59 536.54 488.78 536.54 488.97 536.56 489.16 536.58 489.34 536.62 489.53 536.66 489.71 536.71 489.9 536.78 490.08 536.85 490.27 536.94 490.45 537.03 490.63 537.14 490.82 537.25 491 537.37 491.18 537.51 491.36 537.65 491.54 537.8 491.72 537.97 491.9 538.14 492.08 538.32 492.26 538.52 492.44 538.72 492.62 538.93 492.8 539.16 492.97 539.39 493.15 539.63 493.33 539.88 493.5 540.14 493.68 540.42 493.85 540.7 494.03 540.99 494.2 541.29 494.37 541.6 494.55 541.92 494.72 542.26 494.89 542.6 495.06 542.95 495.23 543.31 495.4 543.68 495.57 544.06 495.74 544.45M466.41 544.45 466.98 541.14 467.56 537.9 468.13 534.75 468.71 531.68 469.29 528.69 469.86 525.78 470.44 522.95 471.02 520.21 471.6 517.55 472.18 514.96 472.76 512.47 473.34 510.05 473.93 507.72 474.51 505.47 475.09 503.3 475.68 501.22 476.27 499.22 476.85 497.3 477.44 495.47 478.03 493.72 478.62 492.06 479.21 490.48 479.8 488.99 480.39 487.58 480.98 486.25 481.57 485.01 482.16 483.86 482.76 482.79 483.35 481.8 483.95 480.9 484.55 480.09 485.14 479.36 485.74 478.72 486.34 478.16 486.94 477.69 487.54 477.31 488.14 477.01 488.74 476.79 489.35 476.66 489.95 476.62 490.55 476.66 491.16 476.79 491.77 477.01 492.37 477.31 492.98 477.69 493.59 478.16 494.2 478.72 494.81 479.36 495.42 480.09 496.03 480.9 496.64 481.8 497.25 482.79 497.87 483.86 498.48 485.01 499.1 486.25 499.71 487.58 500.33 488.99 500.95 490.48 501.57 492.06 502.18 493.72 502.8 495.47 503.42 497.3 504.05 499.22 504.67 501.22 505.29 503.3 505.91 505.47 506.54 507.72 507.16 510.05 507.79 512.47 508.42 514.96 509.04 517.55 509.67 520.21 510.3 522.95 510.93 525.78 511.56 528.69 512.19 531.68 512.82 534.75 513.46 537.9 514.09 541.14 514.72 544.45M453.96 544.45 454.83 536.62 455.7 528.96 456.57 521.49 457.44 514.19 458.32 507.08 459.19 500.16 460.07 493.42 460.95 486.86 461.83 480.5 462.71 474.32 463.6 468.33 464.48 462.54 465.37 456.94 466.26 451.53 467.15 446.32 468.04 441.3 468.93 436.48 469.83 431.86 470.73 427.44 471.62 423.21 472.52 419.19 473.43 415.37 474.33 411.75 475.23 408.34 476.14 405.13 477.05 402.12 477.96 399.32 478.87 396.72 479.79 394.33 480.7 392.14 481.62 390.16 482.54 388.39 483.46 386.83 484.38 385.47 485.3 384.33 486.23 383.39 487.16 382.66 488.09 382.14 489.02 381.82 489.95 381.72 490.88 381.82 491.82 382.14 492.76 382.66 493.7 383.39 494.64 384.33 495.58 385.47 496.53 386.83 497.47 388.39 498.42 390.16 499.37 392.14 500.33 394.33 501.28 396.72 502.23 399.32 503.19 402.12 504.15 405.13 505.11 408.34 506.07 411.75 507.04 415.37 508 419.19 508.97 423.21 509.94 427.44 510.91 431.86 511.88 436.48 512.85 441.3 513.83 446.32 514.81 451.53 515.78 456.94 516.76 462.54 517.75 468.33 518.73 474.32 519.72 480.5 520.7 486.86 521.69 493.42 522.68 500.16 523.67 507.08 524.66 514.19 525.66 521.49 526.65 528.96 527.65 536.62 528.65 544.45" fill="none" stroke="#000" stroke-width="0.55"/>
</g>
<rect x="372" y="306.45" width="246.5" height="238" fill="none" stroke="#000" stroke-width="0.7"/>
<text x="396.65" y="556.55" font-size="8.15" text-anchor="middle" fill="#000">&#x2212;40</text>
<text x="445.95" y="556.55" font-size="8.15" text-anchor="middle" fill="#000">&#x2212;20</text>
<text x="495.25" y="556.55" font-size="8.15" text-anchor="middle" fill="#000">0</text>
<text x="544.55" y="556.55" font-size="8.15" text-anchor="middle" fill="#000">20</text>
<text x="593.85" y="556.55" font-size="8.15" text-anchor="middle" fill="#000">40</text>
<path d="M396.65 544.45v3M445.95 544.45v3M495.25 544.45v3M544.55 544.45v3M593.85 544.45v3M372 544.45h-3M372 514.7h-3M372 484.95h-3M372 455.2h-3M372 425.45h-3M372 395.7h-3M372 365.95h-3M372 336.2h-3M372 306.45h-3" stroke="#000" stroke-width="0.7" fill="none"/>
<text x="495.75" y="571.1" font-size="11.65" text-anchor="middle" fill="#000">Geo Latitude (<tspan dx="1.9" dy="-5.0" font-size="8.15">&#x2218;</tspan><tspan dx="2.1" dy="5.0">)</tspan></text>
<text x="495.75" y="301.35" font-size="11.55" text-anchor="middle" fill="#8b0000">(d) 10 May (Storm day), 305<tspan dx="1.5" dy="-5.4" font-size="8.05">&#x2218;</tspan><tspan dx="2.4" dy="5.4">E</tspan></text>
<text x="377.7" y="345.55" font-size="12.35" text-anchor="start" fill="#000">DMSP</text>
<text x="376.75" y="452.25" font-size="12.35" text-anchor="start" fill="#000">Swarm</text>
<rect x="633.5" y="306.45" width="12.3" height="238" fill="url(#jet)" stroke="#000" stroke-width="0.7"/>
<text x="651.6" y="547.85" font-size="8.15" text-anchor="start" fill="#000">1000</text>
<text x="651.6" y="468.52" font-size="8.15" text-anchor="start" fill="#000">2000</text>
<text x="651.6" y="389.18" font-size="8.15" text-anchor="start" fill="#000">3000</text>
<text x="651.6" y="309.85" font-size="8.15" text-anchor="start" fill="#000">4000</text>
<text transform="translate(683.5 425.45) rotate(-90)" font-size="10" text-anchor="middle" fill="#000"><tspan font-style="italic">T<tspan dy="1.8" font-size="7">e</tspan></tspan><tspan dy="-1.8"> (K)</tspan></text>
<path d="M645.8 544.45h3M645.8 465.12h3M645.8 385.78h3M645.8 306.45h3" stroke="#000" stroke-width="0.7" fill="none"/>
<g clip-path="url(#cp_e)">
<g shape-rendering="crispEdges">
<path fill="#000080" d="M217.84 729.95h5.3v2.8h-5.3zM217.84 732.45h5.3v2.8h-5.3zM217.84 734.95h2.8v2.8h-2.8zM232.83 744.95h20.28v2.8h-20.28zM260.31 744.95h7.79v2.8h-7.79zM230.33 747.45h22.78v2.8h-22.78zM260.31 747.45h7.79v2.8h-7.79zM232.83 749.95h20.28v2.8h-20.28zM260.31 749.95h7.79v2.8h-7.79zM245.32 752.45h15.29v2.8h-15.29zM245.32 754.95h15.29v2.8h-15.29zM247.82 757.45h12.79v2.8h-12.79z"/>
<path fill="#00009b" d="M215.35 729.95h2.8v2.8h-2.8zM215.35 732.45h2.8v2.8h-2.8zM215.35 734.95h2.8v2.8h-2.8zM220.34 734.95h2.8v2.8h-2.8zM230.33 744.95h2.8v2.8h-2.8zM230.33 749.95h2.8v2.8h-2.8zM242.82 752.45h2.8v2.8h-2.8zM245.32 757.45h2.8v2.8h-2.8z"/>
<path fill="#0000b6" d="M202.86 722.45h5.3v2.8h-5.3zM202.86 724.95h5.3v2.8h-5.3zM202.86 727.45h5.3v2.8h-5.3zM215.35 737.45h7.79v2.8h-7.79zM215.35 739.95h7.79v2.8h-7.79zM215.35 742.45h7.79v2.8h-7.79zM215.35 744.95h15.29v2.8h-15.29zM215.35 747.45h15.29v2.8h-15.29zM217.84 749.95h12.79v2.8h-12.79zM222.84 752.45h20.28v2.8h-20.28zM222.84 754.95h22.78v2.8h-22.78zM225.34 757.45h20.28v2.8h-20.28zM237.83 759.95h22.78v2.8h-22.78zM237.83 762.45h22.78v2.8h-22.78zM240.32 764.95h20.28v2.8h-20.28z"/>
<path fill="#0000d6" d="M200.36 722.45h2.8v2.8h-2.8zM200.36 724.95h2.8v2.8h-2.8zM200.36 727.45h2.8v2.8h-2.8zM212.85 729.95h2.8v2.8h-2.8zM212.85 732.45h2.8v2.8h-2.8zM212.85 734.95h2.8v2.8h-2.8zM222.84 737.45h2.8v2.8h-2.8zM222.84 742.45h2.8v2.8h-2.8zM227.84 742.45h2.8v2.8h-2.8zM215.35 749.95h2.8v2.8h-2.8zM220.34 752.45h2.8v2.8h-2.8zM222.84 757.45h2.8v2.8h-2.8zM235.33 759.95h2.8v2.8h-2.8zM237.83 764.95h2.8v2.8h-2.8z"/>
<path fill="#0000f1" d="M200.36 729.95h12.79v2.8h-12.79zM200.36 732.45h12.79v2.8h-12.79zM202.86 734.95h10.29v2.8h-10.29zM207.85 737.45h7.79v2.8h-7.79zM225.34 737.45h5.3v2.8h-5.3zM207.85 739.95h7.79v2.8h-7.79zM222.84 739.95h7.79v2.8h-7.79zM207.85 742.45h7.79v2.8h-7.79zM225.34 742.45h2.8v2.8h-2.8zM207.85 744.95h7.79v2.8h-7.79zM207.85 747.45h7.79v2.8h-7.79zM210.35 749.95h5.3v2.8h-5.3zM215.35 752.45h5.3v2.8h-5.3zM215.35 754.95h7.79v2.8h-7.79zM217.84 757.45h5.3v2.8h-5.3zM222.84 759.95h12.79v2.8h-12.79zM222.84 762.45h15.29v2.8h-15.29zM225.34 764.95h12.79v2.8h-12.79zM230.33 767.45h30.27v2.8h-30.27zM230.33 769.95h30.27v2.8h-30.27zM230.33 772.45h15.29v2.8h-15.29zM230.33 774.95h12.79v2.8h-12.79zM230.33 777.45h12.79v2.8h-12.79zM230.33 779.95h12.79v2.8h-12.79zM225.34 782.45h12.79v2.8h-12.79zM222.84 784.95h15.29v2.8h-15.29zM225.34 787.45h2.8v2.8h-2.8z"/>
<path fill="#0000ff" d="M200.36 734.95h2.8v2.8h-2.8zM205.36 737.45h2.8v2.8h-2.8zM207.85 749.95h2.8v2.8h-2.8zM212.85 752.45h2.8v2.8h-2.8zM215.35 757.45h2.8v2.8h-2.8zM220.34 759.95h2.8v2.8h-2.8zM222.84 764.95h2.8v2.8h-2.8zM227.84 767.45h2.8v2.8h-2.8zM245.32 772.45h10.29v2.8h-10.29zM242.82 774.95h2.8v2.8h-2.8zM242.82 777.45h2.8v2.8h-2.8zM227.84 779.95h2.8v2.8h-2.8zM242.82 779.95h2.8v2.8h-2.8zM222.84 782.45h2.8v2.8h-2.8zM237.83 782.45h2.8v2.8h-2.8zM222.84 787.45h2.8v2.8h-2.8zM227.84 787.45h7.79v2.8h-7.79z"/>
<path fill="#0018ff" d="M95.45 602.45h37.77v2.8h-37.77zM192.87 602.45h45.26v2.8h-45.26zM95.45 604.95h37.77v2.8h-37.77zM192.87 604.95h45.26v2.8h-45.26zM95.45 607.45h37.77v2.8h-37.77zM195.36 607.45h42.76v2.8h-42.76zM95.45 609.95h22.78v2.8h-22.78zM95.45 612.45h22.78v2.8h-22.78zM95.45 614.95h22.78v2.8h-22.78zM95.45 617.45h45.26v2.8h-45.26zM237.83 617.45h7.79v2.8h-7.79zM95.45 619.95h45.26v2.8h-45.26zM237.83 619.95h7.79v2.8h-7.79zM95.45 622.45h45.26v2.8h-45.26zM237.83 622.45h7.79v2.8h-7.79zM95.45 624.95h37.77v2.8h-37.77zM95.45 627.45h37.77v2.8h-37.77zM97.95 629.95h35.27v2.8h-35.27zM110.44 632.45h42.76v2.8h-42.76zM110.44 634.95h45.26v2.8h-45.26zM112.94 637.45h42.76v2.8h-42.76zM117.93 639.95h42.76v2.8h-42.76zM117.93 642.45h45.26v2.8h-45.26zM120.43 644.95h42.76v2.8h-42.76zM125.43 647.45h42.76v2.8h-42.76zM125.43 649.95h45.26v2.8h-45.26zM127.92 652.45h40.26v2.8h-40.26zM132.92 654.95h22.78v2.8h-22.78zM132.92 657.45h22.78v2.8h-22.78zM140.41 659.95h7.79v2.8h-7.79zM195.36 729.95h5.3v2.8h-5.3zM192.87 732.45h7.79v2.8h-7.79zM195.36 734.95h5.3v2.8h-5.3zM200.36 737.45h5.3v2.8h-5.3zM200.36 739.95h7.79v2.8h-7.79zM200.36 742.45h7.79v2.8h-7.79zM200.36 744.95h7.79v2.8h-7.79zM200.36 747.45h7.79v2.8h-7.79zM202.86 749.95h5.3v2.8h-5.3zM207.85 752.45h5.3v2.8h-5.3zM207.85 754.95h7.79v2.8h-7.79zM210.35 757.45h5.3v2.8h-5.3zM215.35 759.95h5.3v2.8h-5.3zM215.35 762.45h7.79v2.8h-7.79zM215.35 764.95h7.79v2.8h-7.79zM215.35 767.45h12.79v2.8h-12.79zM215.35 769.95h15.29v2.8h-15.29zM217.84 772.45h12.79v2.8h-12.79zM255.31 772.45h5.3v2.8h-5.3zM222.84 774.95h7.79v2.8h-7.79zM222.84 777.45h7.79v2.8h-7.79zM222.84 779.95h5.3v2.8h-5.3zM217.84 782.45h5.3v2.8h-5.3zM240.32 782.45h2.8v2.8h-2.8zM215.35 784.95h7.79v2.8h-7.79zM237.83 784.95h5.3v2.8h-5.3zM215.35 787.45h7.79v2.8h-7.79zM235.33 787.45h2.8v2.8h-2.8zM215.35 789.95h15.29v2.8h-15.29zM215.35 792.45h12.79v2.8h-12.79zM165.39 879.95h27.78v2.8h-27.78zM155.4 882.45h37.77v2.8h-37.77zM155.4 884.95h37.77v2.8h-37.77zM147.91 887.45h37.77v2.8h-37.77zM147.91 889.95h37.77v2.8h-37.77zM147.91 892.45h37.77v2.8h-37.77z"/>
<path fill="#0030ff" d="M192.87 607.45h2.8v2.8h-2.8zM132.92 624.95h2.8v2.8h-2.8zM95.45 629.95h2.8v2.8h-2.8zM132.92 629.95h2.8v2.8h-2.8zM107.94 632.45h2.8v2.8h-2.8zM152.9 632.45h2.8v2.8h-2.8zM110.44 637.45h2.8v2.8h-2.8zM155.4 637.45h2.8v2.8h-2.8zM115.44 639.95h2.8v2.8h-2.8zM160.4 639.95h2.8v2.8h-2.8zM117.93 644.95h2.8v2.8h-2.8zM162.89 644.95h2.8v2.8h-2.8zM122.93 647.45h2.8v2.8h-2.8zM167.89 647.45h2.8v2.8h-2.8zM125.43 652.45h2.8v2.8h-2.8zM167.89 652.45h2.8v2.8h-2.8zM130.42 654.95h2.8v2.8h-2.8zM155.4 654.95h2.8v2.8h-2.8zM132.92 659.95h7.79v2.8h-7.79zM147.91 659.95h7.79v2.8h-7.79zM197.86 722.45h2.8v2.8h-2.8zM197.86 724.95h2.8v2.8h-2.8zM197.86 727.45h2.8v2.8h-2.8zM192.87 729.95h2.8v2.8h-2.8zM192.87 734.95h2.8v2.8h-2.8zM200.36 749.95h2.8v2.8h-2.8zM205.36 752.45h2.8v2.8h-2.8zM207.85 757.45h2.8v2.8h-2.8zM212.85 759.95h2.8v2.8h-2.8zM215.35 772.45h2.8v2.8h-2.8zM220.34 774.95h2.8v2.8h-2.8zM245.32 774.95h5.3v2.8h-5.3zM245.32 777.45h2.8v2.8h-2.8zM220.34 779.95h2.8v2.8h-2.8zM215.35 782.45h2.8v2.8h-2.8zM242.82 782.45h2.8v2.8h-2.8zM237.83 787.45h2.8v2.8h-2.8zM227.84 792.45h2.8v2.8h-2.8zM157.9 879.95h7.79v2.8h-7.79zM152.9 884.95h2.8v2.8h-2.8z"/>
<path fill="#004cff" d="M80.47 602.45h7.79v2.8h-7.79zM80.47 604.95h7.79v2.8h-7.79zM82.96 607.45h5.3v2.8h-5.3zM67.98 609.95h2.8v2.8h-2.8zM87.96 609.95h7.79v2.8h-7.79zM192.87 609.95h7.79v2.8h-7.79zM67.98 612.45h5.3v2.8h-5.3zM87.96 612.45h7.79v2.8h-7.79zM192.87 612.45h7.79v2.8h-7.79zM87.96 614.95h7.79v2.8h-7.79zM195.36 614.95h5.3v2.8h-5.3zM82.96 617.45h12.79v2.8h-12.79zM155.4 617.45h15.29v2.8h-15.29zM200.36 617.45h7.79v2.8h-7.79zM215.35 617.45h15.29v2.8h-15.29zM80.47 619.95h15.29v2.8h-15.29zM155.4 619.95h15.29v2.8h-15.29zM200.36 619.95h7.79v2.8h-7.79zM215.35 619.95h15.29v2.8h-15.29zM80.47 622.45h15.29v2.8h-15.29zM155.4 622.45h15.29v2.8h-15.29zM202.86 622.45h5.3v2.8h-5.3zM222.84 622.45h7.79v2.8h-7.79zM80.47 624.95h15.29v2.8h-15.29zM135.42 624.95h40.26v2.8h-40.26zM80.47 627.45h15.29v2.8h-15.29zM132.92 627.45h45.26v2.8h-45.26zM87.96 629.95h7.79v2.8h-7.79zM135.42 629.95h42.76v2.8h-42.76zM95.45 632.45h12.79v2.8h-12.79zM155.4 632.45h27.78v2.8h-27.78zM95.45 634.95h15.29v2.8h-15.29zM155.4 634.95h30.27v2.8h-30.27zM215.35 634.95h7.79v2.8h-7.79zM97.95 637.45h12.79v2.8h-12.79zM157.9 637.45h27.78v2.8h-27.78zM215.35 637.45h7.79v2.8h-7.79zM110.44 639.95h5.3v2.8h-5.3zM162.89 639.95h27.78v2.8h-27.78zM202.86 639.95h20.28v2.8h-20.28zM110.44 642.45h7.79v2.8h-7.79zM162.89 642.45h30.27v2.8h-30.27zM200.36 642.45h22.78v2.8h-22.78zM112.94 644.95h5.3v2.8h-5.3zM165.39 644.95h27.78v2.8h-27.78zM200.36 644.95h22.78v2.8h-22.78zM117.93 647.45h5.3v2.8h-5.3zM170.39 647.45h22.78v2.8h-22.78zM200.36 647.45h7.79v2.8h-7.79zM117.93 649.95h7.79v2.8h-7.79zM170.39 649.95h22.78v2.8h-22.78zM200.36 649.95h7.79v2.8h-7.79zM120.43 652.45h5.3v2.8h-5.3zM170.39 652.45h22.78v2.8h-22.78zM200.36 652.45h7.79v2.8h-7.79zM125.43 654.95h5.3v2.8h-5.3zM157.9 654.95h27.78v2.8h-27.78zM125.43 657.45h7.79v2.8h-7.79zM155.4 657.45h30.27v2.8h-30.27zM130.42 659.95h2.8v2.8h-2.8zM180.38 659.95h5.3v2.8h-5.3zM140.41 662.45h7.79v2.8h-7.79zM140.41 664.95h7.79v2.8h-7.79zM195.36 717.45h5.3v2.8h-5.3zM195.36 719.95h5.3v2.8h-5.3zM195.36 722.45h2.8v2.8h-2.8zM195.36 724.95h2.8v2.8h-2.8zM192.87 727.45h5.3v2.8h-5.3zM190.37 729.95h2.8v2.8h-2.8zM185.37 732.45h7.79v2.8h-7.79zM187.87 734.95h5.3v2.8h-5.3zM187.87 744.95h12.79v2.8h-12.79zM187.87 747.45h12.79v2.8h-12.79zM192.87 749.95h7.79v2.8h-7.79zM195.36 752.45h10.29v2.8h-10.29zM195.36 754.95h12.79v2.8h-12.79zM195.36 757.45h12.79v2.8h-12.79zM207.85 759.95h5.3v2.8h-5.3zM207.85 762.45h7.79v2.8h-7.79zM207.85 764.95h7.79v2.8h-7.79zM207.85 767.45h7.79v2.8h-7.79zM207.85 769.95h7.79v2.8h-7.79zM210.35 772.45h5.3v2.8h-5.3zM215.35 774.95h5.3v2.8h-5.3zM250.32 774.95h2.8v2.8h-2.8zM215.35 777.45h7.79v2.8h-7.79zM247.82 777.45h2.8v2.8h-2.8zM215.35 779.95h5.3v2.8h-5.3zM245.32 779.95h2.8v2.8h-2.8zM210.35 782.45h5.3v2.8h-5.3zM210.35 784.95h5.3v2.8h-5.3zM242.82 784.95h2.8v2.8h-2.8zM210.35 787.45h5.3v2.8h-5.3zM240.32 787.45h2.8v2.8h-2.8zM210.35 789.95h5.3v2.8h-5.3zM230.33 789.95h2.8v2.8h-2.8zM210.35 792.45h5.3v2.8h-5.3zM215.35 794.95h12.79v2.8h-12.79zM185.37 867.45h7.79v2.8h-7.79zM185.37 869.95h7.79v2.8h-7.79zM165.39 872.45h5.3v2.8h-5.3zM177.88 872.45h15.29v2.8h-15.29zM165.39 874.95h27.78v2.8h-27.78zM162.89 877.45h30.27v2.8h-30.27zM140.41 879.95h7.79v2.8h-7.79zM155.4 879.95h2.8v2.8h-2.8zM140.41 882.45h15.29v2.8h-15.29zM140.41 884.95h12.79v2.8h-12.79z"/>
<path fill="#0064ff" d="M80.47 607.45h2.8v2.8h-2.8zM65.48 609.95h2.8v2.8h-2.8zM70.48 609.95h2.8v2.8h-2.8zM85.46 609.95h2.8v2.8h-2.8zM190.37 609.95h2.8v2.8h-2.8zM65.48 612.45h2.8v2.8h-2.8zM65.48 614.95h7.79v2.8h-7.79zM85.46 614.95h2.8v2.8h-2.8zM192.87 614.95h2.8v2.8h-2.8zM80.47 617.45h2.8v2.8h-2.8zM197.86 617.45h2.8v2.8h-2.8zM170.39 622.45h2.8v2.8h-2.8zM200.36 622.45h2.8v2.8h-2.8zM215.35 622.45h7.79v2.8h-7.79zM175.38 624.95h2.8v2.8h-2.8zM80.47 629.95h7.79v2.8h-7.79zM177.88 629.95h2.8v2.8h-2.8zM92.96 632.45h2.8v2.8h-2.8zM182.88 632.45h2.8v2.8h-2.8zM215.35 632.45h7.79v2.8h-7.79zM95.45 637.45h2.8v2.8h-2.8zM185.37 637.45h2.8v2.8h-2.8zM212.85 637.45h2.8v2.8h-2.8zM107.94 639.95h2.8v2.8h-2.8zM190.37 639.95h2.8v2.8h-2.8zM200.36 639.95h2.8v2.8h-2.8zM110.44 644.95h2.8v2.8h-2.8zM115.44 647.45h2.8v2.8h-2.8zM117.93 652.45h2.8v2.8h-2.8zM122.93 654.95h2.8v2.8h-2.8zM125.43 659.95h5.3v2.8h-5.3zM155.4 659.95h5.3v2.8h-5.3zM177.88 659.95h2.8v2.8h-2.8zM135.42 662.45h5.3v2.8h-5.3zM147.91 662.45h5.3v2.8h-5.3zM142.91 667.45h2.8v2.8h-2.8zM195.36 714.95h5.3v2.8h-5.3zM192.87 719.95h2.8v2.8h-2.8zM192.87 722.45h2.8v2.8h-2.8zM192.87 724.95h2.8v2.8h-2.8zM185.37 729.95h5.3v2.8h-5.3zM185.37 734.95h2.8v2.8h-2.8zM190.37 737.45h2.8v2.8h-2.8zM187.87 749.95h5.3v2.8h-5.3zM192.87 752.45h2.8v2.8h-2.8zM192.87 754.95h2.8v2.8h-2.8zM192.87 757.45h2.8v2.8h-2.8zM205.36 759.95h2.8v2.8h-2.8zM207.85 772.45h2.8v2.8h-2.8zM212.85 774.95h2.8v2.8h-2.8zM250.32 777.45h2.8v2.8h-2.8zM212.85 779.95h2.8v2.8h-2.8zM247.82 779.95h2.8v2.8h-2.8zM207.85 782.45h2.8v2.8h-2.8zM207.85 784.95h2.8v2.8h-2.8zM207.85 787.45h2.8v2.8h-2.8zM242.82 787.45h2.8v2.8h-2.8zM207.85 789.95h2.8v2.8h-2.8zM232.83 789.95h2.8v2.8h-2.8zM230.33 792.45h2.8v2.8h-2.8zM210.35 794.95h5.3v2.8h-5.3zM227.84 794.95h2.8v2.8h-2.8zM182.88 869.95h2.8v2.8h-2.8zM162.89 872.45h2.8v2.8h-2.8zM170.39 872.45h7.79v2.8h-7.79zM162.89 874.95h2.8v2.8h-2.8zM152.9 879.95h2.8v2.8h-2.8z"/>
<path fill="#0080ff" d="M60.48 602.45h20.28v2.8h-20.28zM60.48 604.95h20.28v2.8h-20.28zM60.48 607.45h20.28v2.8h-20.28zM72.97 609.95h12.79v2.8h-12.79zM170.39 609.95h20.28v2.8h-20.28zM72.97 612.45h15.29v2.8h-15.29zM170.39 612.45h22.78v2.8h-22.78zM72.97 614.95h12.79v2.8h-12.79zM170.39 614.95h22.78v2.8h-22.78zM43 617.45h5.3v2.8h-5.3zM72.97 617.45h7.79v2.8h-7.79zM170.39 617.45h7.79v2.8h-7.79zM185.37 617.45h12.79v2.8h-12.79zM43 619.95h5.3v2.8h-5.3zM72.97 619.95h7.79v2.8h-7.79zM170.39 619.95h7.79v2.8h-7.79zM185.37 619.95h15.29v2.8h-15.29zM43 622.45h5.3v2.8h-5.3zM72.97 622.45h7.79v2.8h-7.79zM172.88 622.45h5.3v2.8h-5.3zM185.37 622.45h15.29v2.8h-15.29zM67.98 624.95h12.79v2.8h-12.79zM177.88 624.95h37.77v2.8h-37.77zM222.84 624.95h7.79v2.8h-7.79zM65.48 627.45h15.29v2.8h-15.29zM177.88 627.45h37.77v2.8h-37.77zM222.84 627.45h7.79v2.8h-7.79zM67.98 629.95h12.79v2.8h-12.79zM180.38 629.95h35.27v2.8h-35.27zM222.84 629.95h7.79v2.8h-7.79zM87.96 632.45h5.3v2.8h-5.3zM185.37 632.45h30.27v2.8h-30.27zM87.96 634.95h7.79v2.8h-7.79zM185.37 634.95h30.27v2.8h-30.27zM90.46 637.45h5.3v2.8h-5.3zM187.87 637.45h25.28v2.8h-25.28zM95.45 639.95h12.79v2.8h-12.79zM192.87 639.95h7.79v2.8h-7.79zM95.45 642.45h15.29v2.8h-15.29zM192.87 642.45h7.79v2.8h-7.79zM102.95 644.95h7.79v2.8h-7.79zM192.87 644.95h7.79v2.8h-7.79zM110.44 647.45h5.3v2.8h-5.3zM192.87 647.45h7.79v2.8h-7.79zM110.44 649.95h7.79v2.8h-7.79zM192.87 649.95h7.79v2.8h-7.79zM115.44 652.45h2.8v2.8h-2.8zM192.87 652.45h7.79v2.8h-7.79zM117.93 654.95h5.3v2.8h-5.3zM120.43 657.45h5.3v2.8h-5.3zM160.4 659.95h5.3v2.8h-5.3zM170.39 659.95h7.79v2.8h-7.79zM132.92 662.45h2.8v2.8h-2.8zM152.9 662.45h2.8v2.8h-2.8zM132.92 664.95h7.79v2.8h-7.79zM147.91 664.95h5.3v2.8h-5.3zM140.41 667.45h2.8v2.8h-2.8zM145.41 667.45h2.8v2.8h-2.8zM192.87 714.95h2.8v2.8h-2.8zM192.87 717.45h2.8v2.8h-2.8zM190.37 727.45h2.8v2.8h-2.8zM187.87 737.45h2.8v2.8h-2.8zM187.87 739.95h5.3v2.8h-5.3zM187.87 742.45h5.3v2.8h-5.3zM185.37 747.45h2.8v2.8h-2.8zM192.87 759.95h12.79v2.8h-12.79zM192.87 762.45h15.29v2.8h-15.29zM195.36 764.95h12.79v2.8h-12.79zM200.36 767.45h7.79v2.8h-7.79zM200.36 769.95h7.79v2.8h-7.79zM202.86 772.45h5.3v2.8h-5.3zM207.85 774.95h5.3v2.8h-5.3zM252.81 774.95h5.3v2.8h-5.3zM207.85 777.45h7.79v2.8h-7.79zM207.85 779.95h5.3v2.8h-5.3zM250.32 779.95h2.8v2.8h-2.8zM235.33 789.95h2.8v2.8h-2.8zM207.85 792.45h2.8v2.8h-2.8zM232.83 792.45h2.8v2.8h-2.8zM207.85 794.95h2.8v2.8h-2.8zM177.88 867.45h7.79v2.8h-7.79zM177.88 869.95h5.3v2.8h-5.3zM160.4 877.45h2.8v2.8h-2.8zM147.91 879.95h5.3v2.8h-5.3z"/>
<path fill="#0098ff" d="M57.99 602.45h2.8v2.8h-2.8zM57.99 604.95h2.8v2.8h-2.8zM57.99 607.45h2.8v2.8h-2.8zM62.98 609.95h2.8v2.8h-2.8zM62.98 612.45h2.8v2.8h-2.8zM62.98 614.95h2.8v2.8h-2.8zM48 617.45h2.8v2.8h-2.8zM65.48 617.45h7.79v2.8h-7.79zM177.88 617.45h2.8v2.8h-2.8zM182.88 617.45h2.8v2.8h-2.8zM48 619.95h2.8v2.8h-2.8zM48 622.45h2.8v2.8h-2.8zM70.48 622.45h2.8v2.8h-2.8zM177.88 622.45h2.8v2.8h-2.8zM182.88 622.45h2.8v2.8h-2.8zM65.48 624.95h2.8v2.8h-2.8zM215.35 624.95h7.79v2.8h-7.79zM65.48 629.95h2.8v2.8h-2.8zM215.35 629.95h7.79v2.8h-7.79zM80.47 632.45h7.79v2.8h-7.79zM87.96 637.45h2.8v2.8h-2.8zM92.96 639.95h2.8v2.8h-2.8zM95.45 644.95h7.79v2.8h-7.79zM107.94 647.45h2.8v2.8h-2.8zM110.44 652.45h5.3v2.8h-5.3zM117.93 657.45h2.8v2.8h-2.8zM120.43 659.95h5.3v2.8h-5.3zM165.39 659.95h5.3v2.8h-5.3zM127.92 662.45h5.3v2.8h-5.3zM152.9 664.95h2.8v2.8h-2.8zM135.42 667.45h5.3v2.8h-5.3zM147.91 667.45h5.3v2.8h-5.3zM195.36 712.45h5.3v2.8h-5.3zM190.37 724.95h2.8v2.8h-2.8zM185.37 727.45h5.3v2.8h-5.3zM185.37 744.95h2.8v2.8h-2.8zM185.37 749.95h2.8v2.8h-2.8zM187.87 752.45h5.3v2.8h-5.3zM190.37 754.95h2.8v2.8h-2.8zM190.37 757.45h2.8v2.8h-2.8zM192.87 764.95h2.8v2.8h-2.8zM197.86 767.45h2.8v2.8h-2.8zM200.36 772.45h2.8v2.8h-2.8zM205.36 774.95h2.8v2.8h-2.8zM257.81 774.95h2.8v2.8h-2.8zM252.81 777.45h2.8v2.8h-2.8zM205.36 782.45h2.8v2.8h-2.8zM245.32 782.45h2.8v2.8h-2.8zM205.36 784.95h2.8v2.8h-2.8zM235.33 792.45h2.8v2.8h-2.8zM230.33 794.95h2.8v2.8h-2.8zM210.35 797.45h5.3v2.8h-5.3zM185.37 864.95h7.79v2.8h-7.79zM170.39 869.95h7.79v2.8h-7.79zM160.4 874.95h2.8v2.8h-2.8zM157.9 877.45h2.8v2.8h-2.8z"/>
<path fill="#00b0ff" d="M43 602.45h7.79v2.8h-7.79zM43 604.95h7.79v2.8h-7.79zM43 607.45h7.79v2.8h-7.79zM43 609.95h5.3v2.8h-5.3zM57.99 609.95h5.3v2.8h-5.3zM43 612.45h5.3v2.8h-5.3zM60.48 612.45h2.8v2.8h-2.8zM43 614.95h7.79v2.8h-7.79zM60.48 614.95h2.8v2.8h-2.8zM57.99 617.45h7.79v2.8h-7.79zM180.38 617.45h2.8v2.8h-2.8zM57.99 619.95h15.29v2.8h-15.29zM177.88 619.95h7.79v2.8h-7.79zM57.99 622.45h12.79v2.8h-12.79zM180.38 622.45h2.8v2.8h-2.8zM43 624.95h22.78v2.8h-22.78zM43 627.45h22.78v2.8h-22.78zM215.35 627.45h7.79v2.8h-7.79zM43 629.95h22.78v2.8h-22.78zM65.48 632.45h15.29v2.8h-15.29zM65.48 634.95h22.78v2.8h-22.78zM80.47 637.45h7.79v2.8h-7.79zM87.96 639.95h5.3v2.8h-5.3zM87.96 642.45h7.79v2.8h-7.79zM92.96 644.95h2.8v2.8h-2.8zM102.95 647.45h5.3v2.8h-5.3zM102.95 649.95h7.79v2.8h-7.79zM107.94 652.45h2.8v2.8h-2.8zM115.44 654.95h2.8v2.8h-2.8zM117.93 659.95h2.8v2.8h-2.8zM125.43 662.45h2.8v2.8h-2.8zM155.4 662.45h2.8v2.8h-2.8zM127.92 664.95h5.3v2.8h-5.3zM132.92 667.45h2.8v2.8h-2.8zM152.9 667.45h2.8v2.8h-2.8zM195.36 709.95h5.3v2.8h-5.3zM190.37 722.45h2.8v2.8h-2.8zM185.37 724.95h5.3v2.8h-5.3zM185.37 737.45h2.8v2.8h-2.8zM185.37 739.95h2.8v2.8h-2.8zM185.37 742.45h2.8v2.8h-2.8zM187.87 754.95h2.8v2.8h-2.8zM187.87 757.45h2.8v2.8h-2.8zM187.87 759.95h5.3v2.8h-5.3zM187.87 762.45h5.3v2.8h-5.3zM187.87 764.95h5.3v2.8h-5.3zM192.87 767.45h5.3v2.8h-5.3zM192.87 769.95h7.79v2.8h-7.79zM192.87 772.45h7.79v2.8h-7.79zM192.87 774.95h12.79v2.8h-12.79zM192.87 777.45h15.29v2.8h-15.29zM255.31 777.45h5.3v2.8h-5.3zM192.87 779.95h15.29v2.8h-15.29zM252.81 779.95h2.8v2.8h-2.8zM195.36 782.45h10.29v2.8h-10.29zM195.36 784.95h10.29v2.8h-10.29zM245.32 784.95h2.8v2.8h-2.8zM195.36 787.45h5.3v2.8h-5.3zM205.36 787.45h2.8v2.8h-2.8zM237.83 789.95h5.3v2.8h-5.3zM180.38 792.45h5.3v2.8h-5.3zM232.83 794.95h5.3v2.8h-5.3zM187.87 797.45h10.29v2.8h-10.29zM207.85 797.45h2.8v2.8h-2.8zM215.35 797.45h5.3v2.8h-5.3zM187.87 799.95h10.29v2.8h-10.29zM210.35 799.95h5.3v2.8h-5.3zM180.38 864.95h5.3v2.8h-5.3zM170.39 867.45h7.79v2.8h-7.79zM157.9 874.95h2.8v2.8h-2.8zM155.4 877.45h2.8v2.8h-2.8z"/>
<path fill="#00ccff" d="M55.49 602.45h2.8v2.8h-2.8zM55.49 604.95h2.8v2.8h-2.8zM48 609.95h2.8v2.8h-2.8zM48 612.45h2.8v2.8h-2.8zM57.99 612.45h2.8v2.8h-2.8zM57.99 614.95h2.8v2.8h-2.8zM50.49 619.95h2.8v2.8h-2.8zM50.49 622.45h2.8v2.8h-2.8zM55.49 622.45h2.8v2.8h-2.8zM62.98 632.45h2.8v2.8h-2.8zM65.48 637.45h15.29v2.8h-15.29zM85.46 639.95h2.8v2.8h-2.8zM87.96 644.95h5.3v2.8h-5.3zM97.95 647.45h5.3v2.8h-5.3zM102.95 652.45h5.3v2.8h-5.3zM112.94 654.95h2.8v2.8h-2.8zM115.44 657.45h2.8v2.8h-2.8zM157.9 662.45h2.8v2.8h-2.8zM125.43 664.95h2.8v2.8h-2.8zM155.4 664.95h2.8v2.8h-2.8zM130.42 667.45h2.8v2.8h-2.8zM140.41 669.95h7.79v2.8h-7.79zM195.36 707.45h5.3v2.8h-5.3zM192.87 712.45h2.8v2.8h-2.8zM185.37 722.45h5.3v2.8h-5.3zM185.37 752.45h2.8v2.8h-2.8zM185.37 754.95h2.8v2.8h-2.8zM185.37 757.45h2.8v2.8h-2.8zM185.37 759.95h2.8v2.8h-2.8zM185.37 762.45h2.8v2.8h-2.8zM185.37 764.95h2.8v2.8h-2.8zM190.37 767.45h2.8v2.8h-2.8zM260.31 774.95h2.8v2.8h-2.8zM255.31 779.95h2.8v2.8h-2.8zM192.87 782.45h2.8v2.8h-2.8zM247.82 782.45h2.8v2.8h-2.8zM192.87 784.95h2.8v2.8h-2.8zM192.87 787.45h2.8v2.8h-2.8zM200.36 787.45h5.3v2.8h-5.3zM245.32 787.45h2.8v2.8h-2.8zM180.38 789.95h5.3v2.8h-5.3zM242.82 789.95h2.8v2.8h-2.8zM237.83 792.45h2.8v2.8h-2.8zM180.38 794.95h7.79v2.8h-7.79zM185.37 797.45h2.8v2.8h-2.8zM197.86 797.45h2.8v2.8h-2.8zM220.34 797.45h2.8v2.8h-2.8zM185.37 799.95h2.8v2.8h-2.8zM197.86 799.95h2.8v2.8h-2.8zM207.85 799.95h2.8v2.8h-2.8zM187.87 802.45h2.8v2.8h-2.8zM177.88 864.95h2.8v2.8h-2.8zM160.4 872.45h2.8v2.8h-2.8zM155.4 874.95h2.8v2.8h-2.8z"/>
<path fill="#00e4f8" d="M50.49 602.45h5.3v2.8h-5.3zM50.49 604.95h5.3v2.8h-5.3zM50.49 607.45h7.79v2.8h-7.79zM50.49 617.45h7.79v2.8h-7.79zM52.99 619.95h5.3v2.8h-5.3zM52.99 622.45h2.8v2.8h-2.8zM43 632.45h20.28v2.8h-20.28zM43 634.95h22.78v2.8h-22.78zM80.47 639.95h5.3v2.8h-5.3zM80.47 642.45h7.79v2.8h-7.79zM85.46 644.95h2.8v2.8h-2.8zM95.45 647.45h2.8v2.8h-2.8zM95.45 649.95h7.79v2.8h-7.79zM110.44 654.95h2.8v2.8h-2.8zM110.44 657.45h5.3v2.8h-5.3zM122.93 662.45h2.8v2.8h-2.8zM160.4 662.45h2.8v2.8h-2.8zM157.9 664.95h2.8v2.8h-2.8zM127.92 667.45h2.8v2.8h-2.8zM137.92 669.95h2.8v2.8h-2.8zM147.91 669.95h2.8v2.8h-2.8zM140.41 672.45h7.79v2.8h-7.79zM192.87 709.95h2.8v2.8h-2.8zM190.37 717.45h2.8v2.8h-2.8zM190.37 719.95h2.8v2.8h-2.8zM185.37 767.45h5.3v2.8h-5.3zM185.37 769.95h7.79v2.8h-7.79zM185.37 772.45h7.79v2.8h-7.79zM185.37 774.95h7.79v2.8h-7.79zM262.8 774.95h5.3v2.8h-5.3zM185.37 777.45h7.79v2.8h-7.79zM260.31 777.45h7.79v2.8h-7.79zM187.87 779.95h5.3v2.8h-5.3zM257.81 779.95h2.8v2.8h-2.8zM250.32 782.45h2.8v2.8h-2.8zM247.82 784.95h2.8v2.8h-2.8zM177.88 789.95h2.8v2.8h-2.8zM185.37 789.95h15.29v2.8h-15.29zM205.36 789.95h2.8v2.8h-2.8zM177.88 792.45h2.8v2.8h-2.8zM185.37 792.45h15.29v2.8h-15.29zM205.36 792.45h2.8v2.8h-2.8zM240.32 792.45h2.8v2.8h-2.8zM177.88 794.95h2.8v2.8h-2.8zM187.87 794.95h12.79v2.8h-12.79zM237.83 794.95h2.8v2.8h-2.8zM222.84 797.45h7.79v2.8h-7.79zM215.35 799.95h7.79v2.8h-7.79zM185.37 802.45h2.8v2.8h-2.8zM190.37 802.45h2.8v2.8h-2.8zM170.39 864.95h7.79v2.8h-7.79zM157.9 872.45h2.8v2.8h-2.8z"/>
<path fill="#16ffe1" d="M50.49 609.95h2.8v2.8h-2.8zM55.49 609.95h2.8v2.8h-2.8zM50.49 612.45h2.8v2.8h-2.8zM55.49 612.45h2.8v2.8h-2.8zM50.49 614.95h2.8v2.8h-2.8zM55.49 614.95h2.8v2.8h-2.8zM57.99 637.45h7.79v2.8h-7.79zM67.98 639.95h12.79v2.8h-12.79zM80.47 644.95h5.3v2.8h-5.3zM90.46 647.45h5.3v2.8h-5.3zM97.95 652.45h5.3v2.8h-5.3zM105.44 654.95h5.3v2.8h-5.3zM115.44 659.95h2.8v2.8h-2.8zM120.43 662.45h2.8v2.8h-2.8zM122.93 664.95h2.8v2.8h-2.8zM125.43 667.45h2.8v2.8h-2.8zM135.42 669.95h2.8v2.8h-2.8zM150.4 669.95h2.8v2.8h-2.8zM192.87 707.45h2.8v2.8h-2.8zM190.37 714.95h2.8v2.8h-2.8zM187.87 719.95h2.8v2.8h-2.8zM182.88 762.45h2.8v2.8h-2.8zM182.88 764.95h2.8v2.8h-2.8zM185.37 779.95h2.8v2.8h-2.8zM260.31 779.95h7.79v2.8h-7.79zM190.37 782.45h2.8v2.8h-2.8zM190.37 784.95h2.8v2.8h-2.8zM250.32 784.95h2.8v2.8h-2.8zM190.37 787.45h2.8v2.8h-2.8zM247.82 787.45h2.8v2.8h-2.8zM200.36 789.95h5.3v2.8h-5.3zM242.82 792.45h2.8v2.8h-2.8zM205.36 794.95h2.8v2.8h-2.8zM240.32 794.95h2.8v2.8h-2.8zM180.38 797.45h5.3v2.8h-5.3zM200.36 797.45h2.8v2.8h-2.8zM205.36 797.45h2.8v2.8h-2.8zM182.88 799.95h2.8v2.8h-2.8zM200.36 799.95h2.8v2.8h-2.8zM205.36 799.95h2.8v2.8h-2.8zM192.87 802.45h5.3v2.8h-5.3zM155.4 872.45h2.8v2.8h-2.8zM152.9 877.45h2.8v2.8h-2.8z"/>
<path fill="#29ffce" d="M52.99 609.95h2.8v2.8h-2.8zM52.99 612.45h2.8v2.8h-2.8zM52.99 614.95h2.8v2.8h-2.8zM50.49 637.45h7.79v2.8h-7.79zM65.48 639.95h2.8v2.8h-2.8zM67.98 642.45h12.79v2.8h-12.79zM77.97 644.95h2.8v2.8h-2.8zM87.96 647.45h2.8v2.8h-2.8zM87.96 649.95h7.79v2.8h-7.79zM95.45 652.45h2.8v2.8h-2.8zM102.95 654.95h2.8v2.8h-2.8zM105.44 657.45h5.3v2.8h-5.3zM110.44 659.95h5.3v2.8h-5.3zM117.93 662.45h2.8v2.8h-2.8zM120.43 664.95h2.8v2.8h-2.8zM160.4 664.95h2.8v2.8h-2.8zM155.4 667.45h2.8v2.8h-2.8zM132.92 669.95h2.8v2.8h-2.8zM135.42 672.45h5.3v2.8h-5.3zM147.91 672.45h5.3v2.8h-5.3zM187.87 717.45h2.8v2.8h-2.8zM185.37 719.95h2.8v2.8h-2.8zM162.89 739.95h7.79v2.8h-7.79zM182.88 757.45h2.8v2.8h-2.8zM180.38 759.95h5.3v2.8h-5.3zM180.38 762.45h2.8v2.8h-2.8zM180.38 764.95h2.8v2.8h-2.8zM177.88 767.45h7.79v2.8h-7.79zM177.88 769.95h7.79v2.8h-7.79zM177.88 772.45h7.79v2.8h-7.79zM177.88 774.95h7.79v2.8h-7.79zM177.88 777.45h7.79v2.8h-7.79zM180.38 779.95h5.3v2.8h-5.3zM185.37 782.45h5.3v2.8h-5.3zM252.81 782.45h2.8v2.8h-2.8zM185.37 784.95h5.3v2.8h-5.3zM185.37 787.45h5.3v2.8h-5.3zM250.32 787.45h2.8v2.8h-2.8zM245.32 789.95h2.8v2.8h-2.8zM200.36 792.45h5.3v2.8h-5.3zM200.36 794.95h5.3v2.8h-5.3zM242.82 794.95h2.8v2.8h-2.8zM177.88 797.45h2.8v2.8h-2.8zM202.86 797.45h2.8v2.8h-2.8zM230.33 797.45h5.3v2.8h-5.3zM180.38 799.95h2.8v2.8h-2.8zM202.86 799.95h2.8v2.8h-2.8zM222.84 799.95h7.79v2.8h-7.79zM182.88 802.45h2.8v2.8h-2.8zM197.86 802.45h2.8v2.8h-2.8zM210.35 802.45h5.3v2.8h-5.3zM147.91 877.45h5.3v2.8h-5.3z"/>
<path fill="#3cffba" d="M48 637.45h2.8v2.8h-2.8zM65.48 642.45h2.8v2.8h-2.8zM72.97 644.95h5.3v2.8h-5.3zM82.96 647.45h5.3v2.8h-5.3zM92.96 652.45h2.8v2.8h-2.8zM102.95 657.45h2.8v2.8h-2.8zM175.38 662.45h2.8v2.8h-2.8zM117.93 664.95h2.8v2.8h-2.8zM157.9 667.45h2.8v2.8h-2.8zM152.9 669.95h2.8v2.8h-2.8zM132.92 672.45h2.8v2.8h-2.8zM195.36 704.95h5.3v2.8h-5.3zM187.87 714.95h2.8v2.8h-2.8zM185.37 717.45h2.8v2.8h-2.8zM165.39 737.45h5.3v2.8h-5.3zM182.88 749.95h2.8v2.8h-2.8zM182.88 752.45h2.8v2.8h-2.8zM182.88 754.95h2.8v2.8h-2.8zM177.88 759.95h2.8v2.8h-2.8zM177.88 762.45h2.8v2.8h-2.8zM177.88 764.95h2.8v2.8h-2.8zM177.88 779.95h2.8v2.8h-2.8zM182.88 782.45h2.8v2.8h-2.8zM255.31 782.45h5.3v2.8h-5.3zM252.81 784.95h2.8v2.8h-2.8zM177.88 787.45h7.79v2.8h-7.79zM247.82 789.95h2.8v2.8h-2.8zM245.32 792.45h2.8v2.8h-2.8zM235.33 797.45h7.79v2.8h-7.79zM177.88 799.95h2.8v2.8h-2.8zM177.88 802.45h5.3v2.8h-5.3zM207.85 802.45h2.8v2.8h-2.8zM215.35 802.45h2.8v2.8h-2.8zM185.37 804.95h5.3v2.8h-5.3zM152.9 874.95h2.8v2.8h-2.8z"/>
<path fill="#53ffa4" d="M43 637.45h5.3v2.8h-5.3zM62.98 639.95h2.8v2.8h-2.8zM67.98 644.95h5.3v2.8h-5.3zM80.47 647.45h2.8v2.8h-2.8zM80.47 649.95h7.79v2.8h-7.79zM90.46 652.45h2.8v2.8h-2.8zM100.45 654.95h2.8v2.8h-2.8zM105.44 659.95h5.3v2.8h-5.3zM162.89 662.45h2.8v2.8h-2.8zM170.39 662.45h5.3v2.8h-5.3zM122.93 667.45h2.8v2.8h-2.8zM160.4 667.45h2.8v2.8h-2.8zM152.9 672.45h2.8v2.8h-2.8zM140.41 674.95h12.79v2.8h-12.79zM195.36 699.95h5.3v2.8h-5.3zM195.36 702.45h5.3v2.8h-5.3zM190.37 709.95h2.8v2.8h-2.8zM190.37 712.45h2.8v2.8h-2.8zM185.37 714.95h2.8v2.8h-2.8zM162.89 737.45h2.8v2.8h-2.8zM162.89 742.45h7.79v2.8h-7.79zM157.9 744.95h2.8v2.8h-2.8zM182.88 744.95h2.8v2.8h-2.8zM157.9 747.45h2.8v2.8h-2.8zM182.88 747.45h2.8v2.8h-2.8zM157.9 749.95h2.8v2.8h-2.8zM180.38 752.45h2.8v2.8h-2.8zM150.4 754.95h5.3v2.8h-5.3zM177.88 754.95h5.3v2.8h-5.3zM150.4 757.45h2.8v2.8h-2.8zM177.88 757.45h5.3v2.8h-5.3zM172.88 767.45h5.3v2.8h-5.3zM170.39 769.95h7.79v2.8h-7.79zM170.39 772.45h7.79v2.8h-7.79zM165.39 774.95h12.79v2.8h-12.79zM165.39 777.45h12.79v2.8h-12.79zM165.39 779.95h12.79v2.8h-12.79zM170.39 782.45h12.79v2.8h-12.79zM260.31 782.45h2.8v2.8h-2.8zM170.39 784.95h15.29v2.8h-15.29zM255.31 784.95h5.3v2.8h-5.3zM172.88 787.45h5.3v2.8h-5.3zM252.81 787.45h2.8v2.8h-2.8zM175.38 789.95h2.8v2.8h-2.8zM250.32 789.95h2.8v2.8h-2.8zM175.38 792.45h2.8v2.8h-2.8zM247.82 792.45h2.8v2.8h-2.8zM245.32 794.95h2.8v2.8h-2.8zM242.82 797.45h2.8v2.8h-2.8zM230.33 799.95h12.79v2.8h-12.79zM200.36 802.45h2.8v2.8h-2.8zM205.36 802.45h2.8v2.8h-2.8zM217.84 802.45h12.79v2.8h-12.79zM237.83 802.45h5.3v2.8h-5.3zM190.37 804.95h2.8v2.8h-2.8zM185.37 807.45h5.3v2.8h-5.3zM157.9 869.95h5.3v2.8h-5.3zM147.91 874.95h5.3v2.8h-5.3z"/>
<path fill="#66ff90" d="M57.99 639.95h5.3v2.8h-5.3zM62.98 642.45h2.8v2.8h-2.8zM65.48 644.95h2.8v2.8h-2.8zM75.47 647.45h5.3v2.8h-5.3zM87.96 652.45h2.8v2.8h-2.8zM97.95 654.95h2.8v2.8h-2.8zM100.45 657.45h2.8v2.8h-2.8zM102.95 659.95h2.8v2.8h-2.8zM115.44 662.45h2.8v2.8h-2.8zM165.39 662.45h5.3v2.8h-5.3zM120.43 667.45h2.8v2.8h-2.8zM130.42 669.95h2.8v2.8h-2.8zM137.92 674.95h2.8v2.8h-2.8zM192.87 704.95h2.8v2.8h-2.8zM187.87 712.45h2.8v2.8h-2.8zM182.88 717.45h2.8v2.8h-2.8zM182.88 719.95h2.8v2.8h-2.8zM182.88 737.45h2.8v2.8h-2.8zM182.88 742.45h2.8v2.8h-2.8zM160.4 744.95h2.8v2.8h-2.8zM160.4 747.45h2.8v2.8h-2.8zM160.4 749.95h2.8v2.8h-2.8zM177.88 752.45h2.8v2.8h-2.8zM152.9 757.45h2.8v2.8h-2.8zM175.38 759.95h2.8v2.8h-2.8zM175.38 762.45h2.8v2.8h-2.8zM175.38 764.95h2.8v2.8h-2.8zM170.39 767.45h2.8v2.8h-2.8zM167.89 772.45h2.8v2.8h-2.8zM162.89 774.95h2.8v2.8h-2.8zM162.89 777.45h2.8v2.8h-2.8zM162.89 779.95h2.8v2.8h-2.8zM167.89 782.45h2.8v2.8h-2.8zM262.8 782.45h5.3v2.8h-5.3zM170.39 787.45h2.8v2.8h-2.8zM255.31 787.45h5.3v2.8h-5.3zM250.32 792.45h2.8v2.8h-2.8zM175.38 794.95h2.8v2.8h-2.8zM247.82 794.95h2.8v2.8h-2.8zM175.38 797.45h2.8v2.8h-2.8zM175.38 799.95h2.8v2.8h-2.8zM242.82 799.95h2.8v2.8h-2.8zM175.38 802.45h2.8v2.8h-2.8zM202.86 802.45h2.8v2.8h-2.8zM230.33 802.45h7.79v2.8h-7.79zM177.88 804.95h7.79v2.8h-7.79zM185.37 862.45h5.3v2.8h-5.3zM152.9 872.45h2.8v2.8h-2.8z"/>
<path fill="#7dff7a" d="M60.48 642.45h2.8v2.8h-2.8zM72.97 647.45h2.8v2.8h-2.8zM75.47 649.95h5.3v2.8h-5.3zM85.46 652.45h2.8v2.8h-2.8zM95.45 654.95h2.8v2.8h-2.8zM97.95 657.45h2.8v2.8h-2.8zM112.94 662.45h2.8v2.8h-2.8zM162.89 664.95h2.8v2.8h-2.8zM170.39 664.95h7.79v2.8h-7.79zM117.93 667.45h2.8v2.8h-2.8zM172.88 667.45h5.3v2.8h-5.3zM127.92 669.95h2.8v2.8h-2.8zM135.42 674.95h2.8v2.8h-2.8zM152.9 674.95h2.8v2.8h-2.8zM192.87 699.95h2.8v2.8h-2.8zM192.87 702.45h2.8v2.8h-2.8zM190.37 707.45h2.8v2.8h-2.8zM187.87 709.95h2.8v2.8h-2.8zM185.37 712.45h2.8v2.8h-2.8zM182.88 714.95h2.8v2.8h-2.8zM180.38 717.45h2.8v2.8h-2.8zM180.38 719.95h2.8v2.8h-2.8zM182.88 739.95h2.8v2.8h-2.8zM180.38 744.95h2.8v2.8h-2.8zM155.4 747.45h2.8v2.8h-2.8zM177.88 747.45h5.3v2.8h-5.3zM155.4 749.95h2.8v2.8h-2.8zM177.88 749.95h5.3v2.8h-5.3zM150.4 752.45h12.79v2.8h-12.79zM170.39 752.45h7.79v2.8h-7.79zM147.91 754.95h2.8v2.8h-2.8zM155.4 754.95h22.78v2.8h-22.78zM147.91 757.45h2.8v2.8h-2.8zM155.4 757.45h22.78v2.8h-22.78zM170.39 759.95h5.3v2.8h-5.3zM170.39 762.45h5.3v2.8h-5.3zM170.39 764.95h5.3v2.8h-5.3zM165.39 767.45h5.3v2.8h-5.3zM162.89 769.95h7.79v2.8h-7.79zM162.89 772.45h5.3v2.8h-5.3zM162.89 782.45h5.3v2.8h-5.3zM162.89 784.95h7.79v2.8h-7.79zM260.31 784.95h7.79v2.8h-7.79zM162.89 787.45h7.79v2.8h-7.79zM260.31 787.45h7.79v2.8h-7.79zM170.39 789.95h5.3v2.8h-5.3zM252.81 789.95h2.8v2.8h-2.8zM170.39 792.45h5.3v2.8h-5.3zM170.39 794.95h5.3v2.8h-5.3zM250.32 794.95h2.8v2.8h-2.8zM165.39 797.45h10.29v2.8h-10.29zM165.39 799.95h10.29v2.8h-10.29zM165.39 802.45h10.29v2.8h-10.29zM242.82 802.45h2.8v2.8h-2.8zM165.39 804.95h12.79v2.8h-12.79zM237.83 804.95h7.79v2.8h-7.79zM162.89 807.45h22.78v2.8h-22.78zM190.37 807.45h2.8v2.8h-2.8zM237.83 807.45h5.3v2.8h-5.3zM240.32 809.95h2.8v2.8h-2.8zM170.39 862.45h15.29v2.8h-15.29zM190.37 862.45h2.8v2.8h-2.8zM157.9 867.45h5.3v2.8h-5.3zM155.4 869.95h2.8v2.8h-2.8zM147.91 872.45h5.3v2.8h-5.3z"/>
<path fill="#90ff66" d="M55.49 639.95h2.8v2.8h-2.8zM57.99 642.45h2.8v2.8h-2.8zM80.47 652.45h5.3v2.8h-5.3zM95.45 657.45h2.8v2.8h-2.8zM110.44 662.45h2.8v2.8h-2.8zM115.44 664.95h2.8v2.8h-2.8zM170.39 667.45h2.8v2.8h-2.8zM130.42 672.45h2.8v2.8h-2.8zM132.92 674.95h2.8v2.8h-2.8zM185.37 709.95h2.8v2.8h-2.8zM180.38 714.95h2.8v2.8h-2.8zM165.39 734.95h5.3v2.8h-5.3zM155.4 744.95h2.8v2.8h-2.8zM177.88 744.95h2.8v2.8h-2.8zM175.38 749.95h2.8v2.8h-2.8zM162.89 752.45h7.79v2.8h-7.79zM155.4 759.95h2.8v2.8h-2.8zM167.89 759.95h2.8v2.8h-2.8zM167.89 764.95h2.8v2.8h-2.8zM162.89 767.45h2.8v2.8h-2.8zM160.4 774.95h2.8v2.8h-2.8zM160.4 777.45h2.8v2.8h-2.8zM160.4 779.95h2.8v2.8h-2.8zM255.31 789.95h5.3v2.8h-5.3zM252.81 792.45h2.8v2.8h-2.8zM162.89 802.45h2.8v2.8h-2.8zM162.89 804.95h2.8v2.8h-2.8zM232.83 804.95h5.3v2.8h-5.3zM242.82 807.45h2.8v2.8h-2.8zM162.89 809.95h7.79v2.8h-7.79zM185.37 809.95h5.3v2.8h-5.3zM237.83 809.95h2.8v2.8h-2.8zM242.82 809.95h2.8v2.8h-2.8zM192.87 862.45h2.8v2.8h-2.8zM157.9 864.95h5.3v2.8h-5.3z"/>
<path fill="#a4ff53" d="M52.99 639.95h2.8v2.8h-2.8zM60.48 644.95h5.3v2.8h-5.3zM72.97 649.95h2.8v2.8h-2.8zM100.45 659.95h2.8v2.8h-2.8zM112.94 664.95h2.8v2.8h-2.8zM165.39 664.95h5.3v2.8h-5.3zM162.89 667.45h2.8v2.8h-2.8zM125.43 669.95h2.8v2.8h-2.8zM127.92 672.45h2.8v2.8h-2.8zM187.87 707.45h2.8v2.8h-2.8zM177.88 717.45h2.8v2.8h-2.8zM177.88 719.95h2.8v2.8h-2.8zM165.39 732.45h5.3v2.8h-5.3zM177.88 737.45h5.3v2.8h-5.3zM177.88 739.95h5.3v2.8h-5.3zM177.88 742.45h5.3v2.8h-5.3zM127.92 744.95h2.8v2.8h-2.8zM162.89 744.95h15.29v2.8h-15.29zM127.92 747.45h2.8v2.8h-2.8zM170.39 747.45h7.79v2.8h-7.79zM127.92 749.95h2.8v2.8h-2.8zM162.89 749.95h2.8v2.8h-2.8zM170.39 749.95h5.3v2.8h-5.3zM147.91 752.45h2.8v2.8h-2.8zM157.9 759.95h10.29v2.8h-10.29zM142.91 762.45h5.3v2.8h-5.3zM155.4 762.45h15.29v2.8h-15.29zM142.91 764.95h5.3v2.8h-5.3zM155.4 764.95h12.79v2.8h-12.79zM147.91 767.45h15.29v2.8h-15.29zM147.91 769.95h15.29v2.8h-15.29zM147.91 772.45h15.29v2.8h-15.29zM147.91 774.95h12.79v2.8h-12.79zM147.91 777.45h12.79v2.8h-12.79zM147.91 779.95h12.79v2.8h-12.79zM147.91 782.45h15.29v2.8h-15.29zM147.91 784.95h15.29v2.8h-15.29zM147.91 787.45h15.29v2.8h-15.29zM255.31 792.45h5.3v2.8h-5.3zM162.89 797.45h2.8v2.8h-2.8zM245.32 797.45h2.8v2.8h-2.8zM162.89 799.95h2.8v2.8h-2.8zM230.33 804.95h2.8v2.8h-2.8zM155.4 807.45h7.79v2.8h-7.79zM232.83 807.45h5.3v2.8h-5.3zM155.4 809.95h7.79v2.8h-7.79zM170.39 809.95h15.29v2.8h-15.29zM235.33 809.95h2.8v2.8h-2.8zM155.4 812.45h5.3v2.8h-5.3zM237.83 812.45h7.79v2.8h-7.79zM155.4 814.95h5.3v2.8h-5.3zM240.32 814.95h2.8v2.8h-2.8zM155.4 817.45h5.3v2.8h-5.3zM240.32 817.45h2.8v2.8h-2.8zM202.86 852.45h5.3v2.8h-5.3zM202.86 854.95h5.3v2.8h-5.3zM165.39 859.95h35.27v2.8h-35.27zM165.39 862.45h5.3v2.8h-5.3zM195.36 862.45h5.3v2.8h-5.3zM155.4 867.45h2.8v2.8h-2.8z"/>
<path fill="#baff3c" d="M50.49 639.95h2.8v2.8h-2.8zM55.49 642.45h2.8v2.8h-2.8zM57.99 644.95h2.8v2.8h-2.8zM75.47 652.45h5.3v2.8h-5.3zM92.96 654.95h2.8v2.8h-2.8zM97.95 659.95h2.8v2.8h-2.8zM107.94 662.45h2.8v2.8h-2.8zM110.44 664.95h2.8v2.8h-2.8zM115.44 667.45h2.8v2.8h-2.8zM165.39 667.45h5.3v2.8h-5.3zM155.4 669.95h2.8v2.8h-2.8zM185.37 707.45h2.8v2.8h-2.8zM177.88 714.95h2.8v2.8h-2.8zM165.39 729.95h5.3v2.8h-5.3zM162.89 734.95h2.8v2.8h-2.8zM130.42 744.95h2.8v2.8h-2.8zM130.42 747.45h2.8v2.8h-2.8zM162.89 747.45h2.8v2.8h-2.8zM130.42 749.95h2.8v2.8h-2.8zM165.39 749.95h5.3v2.8h-5.3zM142.91 759.95h5.3v2.8h-5.3zM140.41 762.45h2.8v2.8h-2.8zM140.41 764.95h2.8v2.8h-2.8zM252.81 794.95h2.8v2.8h-2.8zM247.82 797.45h2.8v2.8h-2.8zM245.32 799.95h2.8v2.8h-2.8zM245.32 802.45h2.8v2.8h-2.8zM155.4 804.95h7.79v2.8h-7.79zM192.87 804.95h2.8v2.8h-2.8zM245.32 804.95h2.8v2.8h-2.8zM230.33 807.45h2.8v2.8h-2.8zM245.32 807.45h2.8v2.8h-2.8zM190.37 809.95h2.8v2.8h-2.8zM232.83 809.95h2.8v2.8h-2.8zM160.4 812.45h2.8v2.8h-2.8zM160.4 814.95h2.8v2.8h-2.8zM237.83 814.95h2.8v2.8h-2.8zM242.82 814.95h2.8v2.8h-2.8zM237.83 817.45h2.8v2.8h-2.8zM242.82 817.45h2.8v2.8h-2.8zM200.36 852.45h2.8v2.8h-2.8zM200.36 854.95h2.8v2.8h-2.8zM192.87 857.45h7.79v2.8h-7.79zM162.89 859.95h2.8v2.8h-2.8zM162.89 862.45h2.8v2.8h-2.8zM155.4 864.95h2.8v2.8h-2.8z"/>
<path fill="#ceff29" d="M52.99 642.45h2.8v2.8h-2.8zM70.48 647.45h2.8v2.8h-2.8zM90.46 654.95h2.8v2.8h-2.8zM95.45 659.95h2.8v2.8h-2.8zM105.44 662.45h2.8v2.8h-2.8zM112.94 667.45h2.8v2.8h-2.8zM125.43 672.45h2.8v2.8h-2.8zM130.42 674.95h2.8v2.8h-2.8zM190.37 704.95h2.8v2.8h-2.8zM182.88 712.45h2.8v2.8h-2.8zM162.89 732.45h2.8v2.8h-2.8zM125.43 739.95h5.3v2.8h-5.3zM127.92 742.45h5.3v2.8h-5.3zM165.39 747.45h5.3v2.8h-5.3zM152.9 749.95h2.8v2.8h-2.8zM140.41 759.95h2.8v2.8h-2.8zM255.31 794.95h5.3v2.8h-5.3zM250.32 797.45h2.8v2.8h-2.8zM247.82 799.95h2.8v2.8h-2.8zM247.82 802.45h2.8v2.8h-2.8zM247.82 804.95h2.8v2.8h-2.8zM247.82 807.45h2.8v2.8h-2.8zM230.33 809.95h2.8v2.8h-2.8zM245.32 809.95h5.3v2.8h-5.3zM162.89 812.45h2.8v2.8h-2.8zM235.33 812.45h2.8v2.8h-2.8zM160.4 817.45h2.8v2.8h-2.8zM202.86 849.95h2.8v2.8h-2.8zM165.39 857.45h27.78v2.8h-27.78zM160.4 862.45h2.8v2.8h-2.8zM152.9 869.95h2.8v2.8h-2.8z"/>
<path fill="#e4ff13" d="M72.97 652.45h2.8v2.8h-2.8zM87.96 654.95h2.8v2.8h-2.8zM92.96 657.45h2.8v2.8h-2.8zM102.95 662.45h2.8v2.8h-2.8zM107.94 664.95h2.8v2.8h-2.8zM110.44 667.45h2.8v2.8h-2.8zM157.9 669.95h2.8v2.8h-2.8zM127.92 674.95h2.8v2.8h-2.8zM182.88 709.95h2.8v2.8h-2.8zM180.38 712.45h2.8v2.8h-2.8zM162.89 729.95h2.8v2.8h-2.8zM130.42 739.95h2.8v2.8h-2.8zM125.43 742.45h2.8v2.8h-2.8zM125.43 744.95h2.8v2.8h-2.8zM125.43 747.45h2.8v2.8h-2.8zM132.92 747.45h2.8v2.8h-2.8zM125.43 749.95h2.8v2.8h-2.8zM145.41 757.45h2.8v2.8h-2.8zM250.32 799.95h2.8v2.8h-2.8zM160.4 802.45h2.8v2.8h-2.8zM250.32 802.45h2.8v2.8h-2.8zM195.36 804.95h5.3v2.8h-5.3zM227.84 804.95h2.8v2.8h-2.8zM250.32 804.95h2.8v2.8h-2.8zM250.32 807.45h2.8v2.8h-2.8zM250.32 809.95h2.8v2.8h-2.8zM165.39 812.45h5.3v2.8h-5.3zM232.83 812.45h2.8v2.8h-2.8zM245.32 812.45h2.8v2.8h-2.8zM162.89 814.95h2.8v2.8h-2.8zM235.33 814.95h2.8v2.8h-2.8zM245.32 814.95h2.8v2.8h-2.8zM235.33 817.45h2.8v2.8h-2.8zM245.32 817.45h2.8v2.8h-2.8zM200.36 849.95h2.8v2.8h-2.8zM205.36 849.95h2.8v2.8h-2.8zM162.89 857.45h2.8v2.8h-2.8zM160.4 859.95h2.8v2.8h-2.8zM157.9 862.45h2.8v2.8h-2.8z"/>
<path fill="#f8f500" d="M50.49 642.45h2.8v2.8h-2.8zM52.99 644.95h5.3v2.8h-5.3zM65.48 647.45h5.3v2.8h-5.3zM70.48 649.95h2.8v2.8h-2.8zM90.46 657.45h2.8v2.8h-2.8zM105.44 664.95h2.8v2.8h-2.8zM160.4 669.95h5.3v2.8h-5.3zM167.89 669.95h2.8v2.8h-2.8zM155.4 672.45h2.8v2.8h-2.8zM125.43 674.95h2.8v2.8h-2.8zM147.91 677.45h5.3v2.8h-5.3zM190.37 699.95h2.8v2.8h-2.8zM190.37 702.45h2.8v2.8h-2.8zM187.87 704.95h2.8v2.8h-2.8zM180.38 709.95h2.8v2.8h-2.8zM175.38 717.45h2.8v2.8h-2.8zM175.38 719.95h2.8v2.8h-2.8zM115.44 732.45h2.8v2.8h-2.8zM115.44 734.95h2.8v2.8h-2.8zM115.44 737.45h2.8v2.8h-2.8zM125.43 737.45h7.79v2.8h-7.79zM115.44 739.95h10.29v2.8h-10.29zM132.92 744.95h5.3v2.8h-5.3zM135.42 747.45h2.8v2.8h-2.8zM152.9 747.45h2.8v2.8h-2.8zM150.4 749.95h2.8v2.8h-2.8zM145.41 754.95h2.8v2.8h-2.8zM147.91 797.45h7.79v2.8h-7.79zM160.4 797.45h2.8v2.8h-2.8zM147.91 799.95h7.79v2.8h-7.79zM160.4 799.95h2.8v2.8h-2.8zM147.91 802.45h7.79v2.8h-7.79zM222.84 804.95h5.3v2.8h-5.3zM192.87 807.45h2.8v2.8h-2.8zM230.33 812.45h2.8v2.8h-2.8zM247.82 812.45h5.3v2.8h-5.3zM165.39 814.95h2.8v2.8h-2.8zM232.83 814.95h2.8v2.8h-2.8zM247.82 814.95h5.3v2.8h-5.3zM232.83 817.45h2.8v2.8h-2.8zM247.82 817.45h5.3v2.8h-5.3zM197.86 854.95h2.8v2.8h-2.8zM157.9 859.95h2.8v2.8h-2.8zM155.4 862.45h2.8v2.8h-2.8zM152.9 867.45h2.8v2.8h-2.8zM147.91 869.95h5.3v2.8h-5.3z"/>
<path fill="#ffde00" d="M48 639.95h2.8v2.8h-2.8zM87.96 657.45h2.8v2.8h-2.8zM92.96 659.95h2.8v2.8h-2.8zM122.93 669.95h2.8v2.8h-2.8zM165.39 669.95h2.8v2.8h-2.8zM155.4 674.95h2.8v2.8h-2.8zM152.9 677.45h2.8v2.8h-2.8zM182.88 707.45h2.8v2.8h-2.8zM177.88 712.45h2.8v2.8h-2.8zM165.39 727.45h5.3v2.8h-5.3zM117.93 737.45h7.79v2.8h-7.79zM132.92 739.95h2.8v2.8h-2.8zM122.93 742.45h2.8v2.8h-2.8zM132.92 742.45h2.8v2.8h-2.8zM152.9 744.95h2.8v2.8h-2.8zM137.92 747.45h2.8v2.8h-2.8zM132.92 749.95h2.8v2.8h-2.8zM147.91 749.95h2.8v2.8h-2.8zM145.41 752.45h2.8v2.8h-2.8zM142.91 757.45h2.8v2.8h-2.8zM137.92 762.45h2.8v2.8h-2.8zM137.92 764.95h2.8v2.8h-2.8zM252.81 797.45h2.8v2.8h-2.8zM155.4 802.45h5.3v2.8h-5.3zM200.36 804.95h7.79v2.8h-7.79zM227.84 807.45h2.8v2.8h-2.8zM227.84 809.95h2.8v2.8h-2.8zM170.39 812.45h2.8v2.8h-2.8zM167.89 814.95h2.8v2.8h-2.8zM230.33 814.95h2.8v2.8h-2.8zM162.89 817.45h2.8v2.8h-2.8zM230.33 817.45h2.8v2.8h-2.8zM197.86 852.45h2.8v2.8h-2.8zM195.36 854.95h2.8v2.8h-2.8zM160.4 857.45h2.8v2.8h-2.8zM155.4 859.95h2.8v2.8h-2.8zM152.9 864.95h2.8v2.8h-2.8z"/>
<path fill="#ffc400" d="M43 639.95h5.3v2.8h-5.3zM50.49 644.95h2.8v2.8h-2.8zM67.98 649.95h2.8v2.8h-2.8zM85.46 654.95h2.8v2.8h-2.8zM90.46 659.95h2.8v2.8h-2.8zM102.95 664.95h2.8v2.8h-2.8zM107.94 667.45h2.8v2.8h-2.8zM157.9 672.45h12.79v2.8h-12.79zM162.89 674.95h7.79v2.8h-7.79zM142.91 677.45h5.3v2.8h-5.3zM150.4 679.95h2.8v2.8h-2.8zM187.87 699.95h2.8v2.8h-2.8zM187.87 702.45h2.8v2.8h-2.8zM185.37 704.95h2.8v2.8h-2.8zM180.38 707.45h2.8v2.8h-2.8zM177.88 709.95h2.8v2.8h-2.8zM175.38 714.95h2.8v2.8h-2.8zM172.88 717.45h2.8v2.8h-2.8zM172.88 719.95h2.8v2.8h-2.8zM165.39 724.95h5.3v2.8h-5.3zM162.89 727.45h2.8v2.8h-2.8zM132.92 737.45h2.8v2.8h-2.8zM135.42 739.95h2.8v2.8h-2.8zM117.93 742.45h5.3v2.8h-5.3zM135.42 742.45h5.3v2.8h-5.3zM137.92 744.95h2.8v2.8h-2.8zM150.4 747.45h2.8v2.8h-2.8zM135.42 749.95h5.3v2.8h-5.3zM142.91 754.95h2.8v2.8h-2.8zM140.41 757.45h2.8v2.8h-2.8zM137.92 759.95h2.8v2.8h-2.8zM132.92 762.45h5.3v2.8h-5.3zM132.92 764.95h5.3v2.8h-5.3zM155.4 797.45h5.3v2.8h-5.3zM255.31 797.45h5.3v2.8h-5.3zM155.4 799.95h5.3v2.8h-5.3zM207.85 804.95h15.29v2.8h-15.29zM195.36 807.45h5.3v2.8h-5.3zM225.34 807.45h2.8v2.8h-2.8zM192.87 809.95h2.8v2.8h-2.8zM225.34 809.95h2.8v2.8h-2.8zM172.88 812.45h5.3v2.8h-5.3zM165.39 817.45h2.8v2.8h-2.8zM195.36 852.45h2.8v2.8h-2.8zM192.87 854.95h2.8v2.8h-2.8zM155.4 857.45h5.3v2.8h-5.3zM147.91 864.95h5.3v2.8h-5.3zM147.91 867.45h5.3v2.8h-5.3z"/>
<path fill="#ffae00" d="M62.98 647.45h2.8v2.8h-2.8zM65.48 649.95h2.8v2.8h-2.8zM70.48 652.45h2.8v2.8h-2.8zM82.96 654.95h2.8v2.8h-2.8zM87.96 659.95h2.8v2.8h-2.8zM105.44 667.45h2.8v2.8h-2.8zM117.93 669.95h5.3v2.8h-5.3zM157.9 674.95h5.3v2.8h-5.3zM140.41 677.45h2.8v2.8h-2.8zM147.91 679.95h2.8v2.8h-2.8zM152.9 679.95h2.8v2.8h-2.8zM162.89 724.95h2.8v2.8h-2.8zM117.93 734.95h7.79v2.8h-7.79zM135.42 737.45h2.8v2.8h-2.8zM137.92 739.95h2.8v2.8h-2.8zM150.4 744.95h2.8v2.8h-2.8zM147.91 747.45h2.8v2.8h-2.8zM142.91 752.45h2.8v2.8h-2.8zM140.41 754.95h2.8v2.8h-2.8zM132.92 759.95h5.3v2.8h-5.3zM252.81 799.95h2.8v2.8h-2.8zM252.81 802.45h2.8v2.8h-2.8zM252.81 804.95h2.8v2.8h-2.8zM222.84 807.45h2.8v2.8h-2.8zM252.81 807.45h2.8v2.8h-2.8zM222.84 809.95h2.8v2.8h-2.8zM252.81 809.95h2.8v2.8h-2.8zM177.88 812.45h2.8v2.8h-2.8zM185.37 812.45h5.3v2.8h-5.3zM227.84 812.45h2.8v2.8h-2.8zM170.39 814.95h2.8v2.8h-2.8zM227.84 814.95h2.8v2.8h-2.8zM167.89 817.45h2.8v2.8h-2.8zM197.86 849.95h2.8v2.8h-2.8zM192.87 852.45h2.8v2.8h-2.8zM152.9 859.95h2.8v2.8h-2.8zM152.9 862.45h2.8v2.8h-2.8z"/>
<path fill="#ff9400" d="M48 642.45h2.8v2.8h-2.8zM57.99 647.45h5.3v2.8h-5.3zM67.98 652.45h2.8v2.8h-2.8zM80.47 654.95h2.8v2.8h-2.8zM100.45 662.45h2.8v2.8h-2.8zM102.95 667.45h2.8v2.8h-2.8zM122.93 672.45h2.8v2.8h-2.8zM135.42 677.45h5.3v2.8h-5.3zM155.4 677.45h2.8v2.8h-2.8zM150.4 682.45h2.8v2.8h-2.8zM185.37 699.95h2.8v2.8h-2.8zM185.37 702.45h2.8v2.8h-2.8zM177.88 707.45h2.8v2.8h-2.8zM172.88 714.95h2.8v2.8h-2.8zM170.39 717.45h2.8v2.8h-2.8zM170.39 719.95h2.8v2.8h-2.8zM165.39 722.45h5.3v2.8h-5.3zM112.94 732.45h2.8v2.8h-2.8zM117.93 732.45h7.79v2.8h-7.79zM125.43 734.95h5.3v2.8h-5.3zM137.92 737.45h2.8v2.8h-2.8zM147.91 744.95h2.8v2.8h-2.8zM140.41 749.95h2.8v2.8h-2.8zM145.41 749.95h2.8v2.8h-2.8zM140.41 752.45h2.8v2.8h-2.8zM117.93 759.95h7.79v2.8h-7.79zM117.93 762.45h7.79v2.8h-7.79zM117.93 764.95h7.79v2.8h-7.79zM255.31 799.95h5.3v2.8h-5.3zM255.31 802.45h5.3v2.8h-5.3zM255.31 804.95h5.3v2.8h-5.3zM200.36 807.45h7.79v2.8h-7.79zM255.31 807.45h5.3v2.8h-5.3zM195.36 809.95h5.3v2.8h-5.3zM255.31 809.95h5.3v2.8h-5.3zM180.38 812.45h5.3v2.8h-5.3zM190.37 812.45h2.8v2.8h-2.8zM225.34 812.45h2.8v2.8h-2.8zM172.88 814.95h5.3v2.8h-5.3zM225.34 814.95h2.8v2.8h-2.8zM227.84 817.45h2.8v2.8h-2.8zM225.34 829.95h5.3v2.8h-5.3zM225.34 832.45h5.3v2.8h-5.3zM195.36 849.95h2.8v2.8h-2.8zM162.89 854.95h22.78v2.8h-22.78zM147.91 857.45h7.79v2.8h-7.79zM147.91 859.95h5.3v2.8h-5.3zM147.91 862.45h5.3v2.8h-5.3z"/>
<path fill="#ff7e00" d="M62.98 649.95h2.8v2.8h-2.8zM65.48 652.45h2.8v2.8h-2.8zM85.46 657.45h2.8v2.8h-2.8zM97.95 662.45h2.8v2.8h-2.8zM115.44 669.95h2.8v2.8h-2.8zM122.93 674.95h2.8v2.8h-2.8zM132.92 677.45h2.8v2.8h-2.8zM157.9 677.45h5.3v2.8h-5.3zM145.41 679.95h2.8v2.8h-2.8zM155.4 679.95h2.8v2.8h-2.8zM147.91 682.45h2.8v2.8h-2.8zM152.9 682.45h2.8v2.8h-2.8zM170.39 714.95h2.8v2.8h-2.8zM162.89 722.45h2.8v2.8h-2.8zM107.94 729.95h7.79v2.8h-7.79zM107.94 732.45h5.3v2.8h-5.3zM130.42 734.95h2.8v2.8h-2.8zM160.4 734.95h2.8v2.8h-2.8zM140.41 739.95h2.8v2.8h-2.8zM140.41 742.45h2.8v2.8h-2.8zM140.41 744.95h2.8v2.8h-2.8zM145.41 744.95h2.8v2.8h-2.8zM140.41 747.45h2.8v2.8h-2.8zM145.41 747.45h2.8v2.8h-2.8zM142.91 749.95h2.8v2.8h-2.8zM220.34 807.45h2.8v2.8h-2.8zM200.36 809.95h2.8v2.8h-2.8zM222.84 812.45h2.8v2.8h-2.8zM222.84 814.95h2.8v2.8h-2.8zM170.39 817.45h2.8v2.8h-2.8zM225.34 817.45h2.8v2.8h-2.8zM225.34 827.45h5.3v2.8h-5.3zM222.84 829.95h2.8v2.8h-2.8zM222.84 832.45h2.8v2.8h-2.8zM192.87 849.95h2.8v2.8h-2.8zM185.37 854.95h2.8v2.8h-2.8zM190.37 854.95h2.8v2.8h-2.8z"/>
<path fill="#ff6800" d="M43 642.45h5.3v2.8h-5.3zM48 644.95h2.8v2.8h-2.8zM60.48 649.95h2.8v2.8h-2.8zM77.97 654.95h2.8v2.8h-2.8zM82.96 657.45h2.8v2.8h-2.8zM95.45 662.45h2.8v2.8h-2.8zM100.45 664.95h2.8v2.8h-2.8zM112.94 669.95h2.8v2.8h-2.8zM117.93 672.45h5.3v2.8h-5.3zM140.41 679.95h5.3v2.8h-5.3zM157.9 679.95h5.3v2.8h-5.3zM182.88 704.95h2.8v2.8h-2.8zM175.38 712.45h2.8v2.8h-2.8zM117.93 729.95h7.79v2.8h-7.79zM160.4 729.95h2.8v2.8h-2.8zM125.43 732.45h7.79v2.8h-7.79zM160.4 732.45h2.8v2.8h-2.8zM132.92 734.95h2.8v2.8h-2.8zM140.41 737.45h2.8v2.8h-2.8zM142.91 739.95h5.3v2.8h-5.3zM142.91 742.45h5.3v2.8h-5.3zM152.9 742.45h2.8v2.8h-2.8zM142.91 744.95h2.8v2.8h-2.8zM142.91 747.45h2.8v2.8h-2.8zM132.92 752.45h7.79v2.8h-7.79zM137.92 757.45h2.8v2.8h-2.8zM207.85 807.45h12.79v2.8h-12.79zM202.86 809.95h5.3v2.8h-5.3zM220.34 809.95h2.8v2.8h-2.8zM177.88 814.95h12.79v2.8h-12.79zM172.88 817.45h5.3v2.8h-5.3zM222.84 817.45h2.8v2.8h-2.8zM222.84 827.45h2.8v2.8h-2.8zM207.85 844.95h7.79v2.8h-7.79zM200.36 847.45h15.29v2.8h-15.29zM147.91 849.95h5.3v2.8h-5.3zM147.91 852.45h7.79v2.8h-7.79zM162.89 852.45h22.78v2.8h-22.78zM147.91 854.95h15.29v2.8h-15.29zM187.87 854.95h2.8v2.8h-2.8z"/>
<path fill="#ff4e00" d="M55.49 647.45h2.8v2.8h-2.8zM57.99 649.95h2.8v2.8h-2.8zM62.98 652.45h2.8v2.8h-2.8zM72.97 654.95h5.3v2.8h-5.3zM80.47 657.45h2.8v2.8h-2.8zM85.46 659.95h2.8v2.8h-2.8zM110.44 669.95h2.8v2.8h-2.8zM117.93 674.95h5.3v2.8h-5.3zM127.92 677.45h5.3v2.8h-5.3zM142.91 682.45h5.3v2.8h-5.3zM155.4 682.45h2.8v2.8h-2.8zM160.4 724.95h2.8v2.8h-2.8zM160.4 727.45h2.8v2.8h-2.8zM125.43 729.95h2.8v2.8h-2.8zM135.42 734.95h5.3v2.8h-5.3zM142.91 737.45h5.3v2.8h-5.3zM147.91 742.45h5.3v2.8h-5.3zM122.93 744.95h2.8v2.8h-2.8zM137.92 754.95h2.8v2.8h-2.8zM132.92 757.45h5.3v2.8h-5.3zM207.85 809.95h2.8v2.8h-2.8zM212.85 809.95h7.79v2.8h-7.79zM192.87 812.45h2.8v2.8h-2.8zM190.37 814.95h2.8v2.8h-2.8zM177.88 817.45h2.8v2.8h-2.8zM225.34 819.95h5.3v2.8h-5.3zM225.34 824.95h5.3v2.8h-5.3zM207.85 842.45h7.79v2.8h-7.79zM152.9 849.95h2.8v2.8h-2.8zM190.37 852.45h2.8v2.8h-2.8z"/>
<path fill="#ff3800" d="M43 644.95h5.3v2.8h-5.3zM52.99 647.45h2.8v2.8h-2.8zM57.99 652.45h5.3v2.8h-5.3zM80.47 659.95h5.3v2.8h-5.3zM97.95 664.95h2.8v2.8h-2.8zM100.45 667.45h2.8v2.8h-2.8zM112.94 672.45h5.3v2.8h-5.3zM125.43 677.45h2.8v2.8h-2.8zM132.92 679.95h7.79v2.8h-7.79zM140.41 682.45h2.8v2.8h-2.8zM157.9 682.45h5.3v2.8h-5.3zM182.88 702.45h2.8v2.8h-2.8zM180.38 704.95h2.8v2.8h-2.8zM175.38 709.95h2.8v2.8h-2.8zM172.88 712.45h2.8v2.8h-2.8zM87.96 722.45h10.29v2.8h-10.29zM160.4 722.45h2.8v2.8h-2.8zM87.96 724.95h10.29v2.8h-10.29zM157.9 724.95h2.8v2.8h-2.8zM157.9 727.45h2.8v2.8h-2.8zM127.92 729.95h5.3v2.8h-5.3zM155.4 729.95h5.3v2.8h-5.3zM132.92 732.45h7.79v2.8h-7.79zM147.91 732.45h12.79v2.8h-12.79zM147.91 734.95h12.79v2.8h-12.79zM147.91 737.45h7.79v2.8h-7.79zM147.91 739.95h7.79v2.8h-7.79zM132.92 754.95h5.3v2.8h-5.3zM210.35 809.95h2.8v2.8h-2.8zM195.36 812.45h2.8v2.8h-2.8zM220.34 812.45h2.8v2.8h-2.8zM180.38 817.45h12.79v2.8h-12.79zM222.84 819.95h2.8v2.8h-2.8zM225.34 822.45h5.3v2.8h-5.3zM222.84 824.95h2.8v2.8h-2.8zM147.91 842.45h5.3v2.8h-5.3zM147.91 844.95h5.3v2.8h-5.3zM200.36 844.95h7.79v2.8h-7.79zM147.91 847.45h5.3v2.8h-5.3zM195.36 847.45h5.3v2.8h-5.3zM162.89 849.95h22.78v2.8h-22.78zM190.37 849.95h2.8v2.8h-2.8zM155.4 852.45h7.79v2.8h-7.79zM185.37 852.45h5.3v2.8h-5.3z"/>
<path fill="#ff1e00" d="M50.49 647.45h2.8v2.8h-2.8zM55.49 649.95h2.8v2.8h-2.8zM70.48 654.95h2.8v2.8h-2.8zM77.97 657.45h2.8v2.8h-2.8zM92.96 662.45h2.8v2.8h-2.8zM95.45 664.95h2.8v2.8h-2.8zM97.95 667.45h2.8v2.8h-2.8zM110.44 672.45h2.8v2.8h-2.8zM112.94 674.95h5.3v2.8h-5.3zM120.43 677.45h5.3v2.8h-5.3zM135.42 682.45h5.3v2.8h-5.3zM182.88 699.95h2.8v2.8h-2.8zM177.88 704.95h2.8v2.8h-2.8zM175.38 707.45h2.8v2.8h-2.8zM170.39 712.45h2.8v2.8h-2.8zM167.89 719.95h2.8v2.8h-2.8zM157.9 722.45h2.8v2.8h-2.8zM155.4 724.95h2.8v2.8h-2.8zM155.4 727.45h2.8v2.8h-2.8zM132.92 729.95h5.3v2.8h-5.3zM147.91 729.95h7.79v2.8h-7.79zM140.41 734.95h7.79v2.8h-7.79zM117.93 744.95h2.8v2.8h-2.8zM122.93 747.45h2.8v2.8h-2.8zM122.93 749.95h2.8v2.8h-2.8zM197.86 812.45h2.8v2.8h-2.8zM217.84 812.45h2.8v2.8h-2.8zM192.87 814.95h2.8v2.8h-2.8zM220.34 814.95h2.8v2.8h-2.8zM162.89 819.95h2.8v2.8h-2.8zM222.84 822.45h2.8v2.8h-2.8zM220.34 829.95h2.8v2.8h-2.8zM220.34 832.45h2.8v2.8h-2.8zM210.35 839.95h5.3v2.8h-5.3zM152.9 842.45h2.8v2.8h-2.8zM202.86 842.45h5.3v2.8h-5.3zM152.9 844.95h2.8v2.8h-2.8zM152.9 847.45h2.8v2.8h-2.8zM192.87 847.45h2.8v2.8h-2.8zM155.4 849.95h7.79v2.8h-7.79zM185.37 849.95h5.3v2.8h-5.3z"/>
<path fill="#f10800" d="M52.99 649.95h2.8v2.8h-2.8zM55.49 652.45h2.8v2.8h-2.8zM65.48 654.95h5.3v2.8h-5.3zM72.97 657.45h5.3v2.8h-5.3zM77.97 659.95h2.8v2.8h-2.8zM87.96 662.45h5.3v2.8h-5.3zM95.45 667.45h2.8v2.8h-2.8zM107.94 669.95h2.8v2.8h-2.8zM110.44 674.95h2.8v2.8h-2.8zM117.93 677.45h2.8v2.8h-2.8zM120.43 679.95h12.79v2.8h-12.79zM130.42 682.45h5.3v2.8h-5.3zM147.91 684.95h7.79v2.8h-7.79zM180.38 702.45h2.8v2.8h-2.8zM172.88 709.95h2.8v2.8h-2.8zM167.89 717.45h2.8v2.8h-2.8zM165.39 719.95h2.8v2.8h-2.8zM155.4 722.45h2.8v2.8h-2.8zM137.92 729.95h5.3v2.8h-5.3zM145.41 729.95h2.8v2.8h-2.8zM140.41 732.45h7.79v2.8h-7.79zM120.43 744.95h2.8v2.8h-2.8zM200.36 812.45h5.3v2.8h-5.3zM215.35 812.45h2.8v2.8h-2.8zM195.36 814.95h5.3v2.8h-5.3zM217.84 814.95h2.8v2.8h-2.8zM192.87 817.45h2.8v2.8h-2.8zM220.34 817.45h2.8v2.8h-2.8zM165.39 819.95h5.3v2.8h-5.3zM220.34 827.45h2.8v2.8h-2.8zM217.84 829.95h2.8v2.8h-2.8zM217.84 832.45h2.8v2.8h-2.8zM210.35 837.45h5.3v2.8h-5.3zM207.85 839.95h2.8v2.8h-2.8zM197.86 842.45h5.3v2.8h-5.3zM195.36 844.95h5.3v2.8h-5.3z"/>
<path fill="#d60000" d="M48 647.45h2.8v2.8h-2.8zM50.49 649.95h2.8v2.8h-2.8zM50.49 652.45h5.3v2.8h-5.3zM72.97 659.95h5.3v2.8h-5.3zM92.96 664.95h2.8v2.8h-2.8zM105.44 669.95h2.8v2.8h-2.8zM117.93 679.95h2.8v2.8h-2.8zM117.93 682.45h12.79v2.8h-12.79zM140.41 684.95h7.79v2.8h-7.79zM177.88 699.95h5.3v2.8h-5.3zM177.88 702.45h2.8v2.8h-2.8zM170.39 707.45h5.3v2.8h-5.3zM170.39 709.95h2.8v2.8h-2.8zM167.89 714.95h2.8v2.8h-2.8zM162.89 719.95h2.8v2.8h-2.8zM152.9 724.95h2.8v2.8h-2.8zM150.4 727.45h5.3v2.8h-5.3zM142.91 729.95h2.8v2.8h-2.8zM205.36 812.45h2.8v2.8h-2.8zM215.35 814.95h2.8v2.8h-2.8zM195.36 817.45h5.3v2.8h-5.3zM215.35 817.45h5.3v2.8h-5.3zM215.35 827.45h5.3v2.8h-5.3zM215.35 829.95h2.8v2.8h-2.8zM215.35 832.45h2.8v2.8h-2.8zM207.85 834.95h7.79v2.8h-7.79zM207.85 837.45h2.8v2.8h-2.8zM192.87 842.45h5.3v2.8h-5.3zM192.87 844.95h2.8v2.8h-2.8z"/>
<path fill="#b60000" d="M43 647.45h5.3v2.8h-5.3zM60.48 654.95h5.3v2.8h-5.3zM65.48 657.45h7.79v2.8h-7.79zM67.98 659.95h5.3v2.8h-5.3zM82.96 662.45h5.3v2.8h-5.3zM87.96 664.95h5.3v2.8h-5.3zM90.46 667.45h5.3v2.8h-5.3zM100.45 669.95h5.3v2.8h-5.3zM137.92 684.95h2.8v2.8h-2.8zM155.4 684.95h5.3v2.8h-5.3zM140.41 687.45h15.29v2.8h-15.29zM142.91 689.95h10.29v2.8h-10.29zM175.38 704.95h2.8v2.8h-2.8zM165.39 714.95h2.8v2.8h-2.8zM162.89 717.45h5.3v2.8h-5.3zM160.4 719.95h2.8v2.8h-2.8zM150.4 722.45h5.3v2.8h-5.3zM147.91 724.95h5.3v2.8h-5.3zM117.93 727.45h15.29v2.8h-15.29zM147.91 727.45h2.8v2.8h-2.8zM117.93 747.45h5.3v2.8h-5.3zM117.93 749.95h5.3v2.8h-5.3zM207.85 812.45h7.79v2.8h-7.79zM200.36 814.95h7.79v2.8h-7.79zM200.36 817.45h5.3v2.8h-5.3zM170.39 819.95h20.28v2.8h-20.28zM220.34 819.95h2.8v2.8h-2.8zM162.89 822.45h7.79v2.8h-7.79zM162.89 824.95h5.3v2.8h-5.3zM220.34 824.95h2.8v2.8h-2.8zM205.36 839.95h2.8v2.8h-2.8zM155.4 847.45h2.8v2.8h-2.8zM162.89 847.45h22.78v2.8h-22.78zM190.37 847.45h2.8v2.8h-2.8z"/>
<path fill="#9b0000" d="M48 649.95h2.8v2.8h-2.8zM48 652.45h2.8v2.8h-2.8zM50.49 654.95h10.29v2.8h-10.29zM65.48 659.95h2.8v2.8h-2.8zM72.97 662.45h10.29v2.8h-10.29zM87.96 667.45h2.8v2.8h-2.8zM92.96 669.95h7.79v2.8h-7.79zM107.94 672.45h2.8v2.8h-2.8zM107.94 674.95h2.8v2.8h-2.8zM117.93 684.95h20.28v2.8h-20.28zM160.4 684.95h2.8v2.8h-2.8zM140.41 689.95h2.8v2.8h-2.8zM152.9 689.95h2.8v2.8h-2.8zM177.88 697.45h7.79v2.8h-7.79zM175.38 699.95h2.8v2.8h-2.8zM175.38 702.45h2.8v2.8h-2.8zM170.39 704.95h5.3v2.8h-5.3zM167.89 707.45h2.8v2.8h-2.8zM167.89 709.95h2.8v2.8h-2.8zM167.89 712.45h2.8v2.8h-2.8zM162.89 714.95h2.8v2.8h-2.8zM152.9 719.95h7.79v2.8h-7.79zM147.91 722.45h2.8v2.8h-2.8zM132.92 727.45h15.29v2.8h-15.29zM212.85 814.95h2.8v2.8h-2.8zM205.36 817.45h2.8v2.8h-2.8zM212.85 817.45h2.8v2.8h-2.8zM190.37 819.95h10.29v2.8h-10.29zM215.35 819.95h5.3v2.8h-5.3zM220.34 822.45h2.8v2.8h-2.8zM167.89 824.95h2.8v2.8h-2.8zM215.35 824.95h5.3v2.8h-5.3zM212.85 827.45h2.8v2.8h-2.8zM212.85 829.95h2.8v2.8h-2.8zM207.85 832.45h7.79v2.8h-7.79zM205.36 834.95h2.8v2.8h-2.8zM205.36 837.45h2.8v2.8h-2.8zM192.87 839.95h12.79v2.8h-12.79zM155.4 842.45h2.8v2.8h-2.8zM190.37 842.45h2.8v2.8h-2.8zM155.4 844.95h2.8v2.8h-2.8zM190.37 844.95h2.8v2.8h-2.8zM157.9 847.45h5.3v2.8h-5.3zM185.37 847.45h5.3v2.8h-5.3z"/>
<path fill="#800000" d="M43 649.95h5.3v2.8h-5.3zM43 652.45h5.3v2.8h-5.3zM43 654.95h7.79v2.8h-7.79zM43 657.45h22.78v2.8h-22.78zM43 659.95h22.78v2.8h-22.78zM43 662.45h30.27v2.8h-30.27zM43 664.95h45.26v2.8h-45.26zM43 667.45h45.26v2.8h-45.26zM43 669.95h50.26v2.8h-50.26zM43 672.45h65.24v2.8h-65.24zM43 674.95h65.24v2.8h-65.24zM43 677.45h75.23v2.8h-75.23zM43 679.95h75.23v2.8h-75.23zM43 682.45h2.8v2.8h-2.8zM50.49 682.45h30.27v2.8h-30.27zM85.46 682.45h32.77v2.8h-32.77zM43 684.95h5.3v2.8h-5.3zM50.49 684.95h30.27v2.8h-30.27zM85.46 684.95h20.28v2.8h-20.28zM115.44 684.95h2.8v2.8h-2.8zM162.89 684.95h7.79v2.8h-7.79zM43 687.45h10.29v2.8h-10.29zM60.48 687.45h7.79v2.8h-7.79zM75.47 687.45h5.3v2.8h-5.3zM85.46 687.45h10.29v2.8h-10.29zM100.45 687.45h5.3v2.8h-5.3zM112.94 687.45h27.78v2.8h-27.78zM155.4 687.45h15.29v2.8h-15.29zM43 689.95h10.29v2.8h-10.29zM60.48 689.95h7.79v2.8h-7.79zM75.47 689.95h5.3v2.8h-5.3zM85.46 689.95h10.29v2.8h-10.29zM100.45 689.95h7.79v2.8h-7.79zM110.44 689.95h30.27v2.8h-30.27zM155.4 689.95h15.29v2.8h-15.29zM43 692.45h10.29v2.8h-10.29zM60.48 692.45h10.29v2.8h-10.29zM75.47 692.45h5.3v2.8h-5.3zM85.46 692.45h100.21v2.8h-100.21zM60.48 694.95h10.29v2.8h-10.29zM75.47 694.95h5.3v2.8h-5.3zM85.46 694.95h25.28v2.8h-25.28zM117.93 694.95h67.74v2.8h-67.74zM60.48 697.45h10.29v2.8h-10.29zM75.47 697.45h5.3v2.8h-5.3zM85.46 697.45h92.72v2.8h-92.72zM52.99 699.95h2.8v2.8h-2.8zM70.48 699.95h105.21v2.8h-105.21zM50.49 702.45h7.79v2.8h-7.79zM70.48 702.45h105.21v2.8h-105.21zM50.49 704.95h7.79v2.8h-7.79zM70.48 704.95h100.21v2.8h-100.21zM60.48 707.45h10.29v2.8h-10.29zM72.97 707.45h95.22v2.8h-95.22zM60.48 709.95h10.29v2.8h-10.29zM72.97 709.95h95.22v2.8h-95.22zM60.48 712.45h10.29v2.8h-10.29zM72.97 712.45h5.3v2.8h-5.3zM85.46 712.45h82.73v2.8h-82.73zM62.98 714.95h7.79v2.8h-7.79zM72.97 714.95h5.3v2.8h-5.3zM85.46 714.95h10.29v2.8h-10.29zM102.95 714.95h7.79v2.8h-7.79zM115.44 714.95h47.76v2.8h-47.76zM62.98 717.45h7.79v2.8h-7.79zM72.97 717.45h22.78v2.8h-22.78zM100.45 717.45h62.74v2.8h-62.74zM72.97 719.95h22.78v2.8h-22.78zM100.45 719.95h52.75v2.8h-52.75zM100.45 722.45h47.76v2.8h-47.76zM100.45 724.95h47.76v2.8h-47.76zM102.95 727.45h15.29v2.8h-15.29zM207.85 814.95h5.3v2.8h-5.3zM207.85 817.45h5.3v2.8h-5.3zM200.36 819.95h15.29v2.8h-15.29zM170.39 822.45h50.26v2.8h-50.26zM170.39 824.95h45.26v2.8h-45.26zM155.4 827.45h57.75v2.8h-57.75zM155.4 829.95h57.75v2.8h-57.75zM155.4 832.45h52.75v2.8h-52.75zM155.4 834.95h50.26v2.8h-50.26zM155.4 837.45h50.26v2.8h-50.26zM155.4 839.95h37.77v2.8h-37.77zM157.9 842.45h32.77v2.8h-32.77zM157.9 844.95h32.77v2.8h-32.77z"/>
<rect x="152" y="602.5" width="26" height="2.9" fill="#0018ff"/>
<rect x="99.9" y="749.2" width="7.2" height="5.4" fill="#ff3f00"/>
<rect x="110" y="749.2" width="8" height="7.1" fill="#b60000"/>
<rect x="106.5" y="759" width="8.8" height="5.5" fill="#ff3f00"/>
<rect x="111.4" y="762.9" width="6.6" height="5.4" fill="#ff9f00"/>
<rect x="193" y="869.06" width="4.38" height="5.47" fill="#0080ff"/>
<rect x="212.16" y="866.32" width="3.83" height="6.02" fill="#009cff"/>
<rect x="193" y="877.82" width="7.66" height="5.47" fill="#0000b6"/>
<rect x="212.71" y="877.82" width="3.28" height="5.47" fill="#004cff"/>
<rect x="202.31" y="882.74" width="4.93" height="6.02" fill="#0074ff"/>
<rect x="193" y="884.39" width="4.93" height="6.02" fill="#0038ff"/>
<rect x="214.9" y="889.86" width="8.76" height="6.02" fill="#0074ff"/>
<rect x="193" y="897.53" width="10.4" height="3.83" fill="#0068ff"/>
</g>
<path d="M205.51 602.45 206.27 609.95 206.85 617.45 207.28 624.95 207.6 632.45 207.83 639.95 207.99 647.45 208.09 654.95 208.15 662.45 208.16 669.95 208.14 677.45 208.09 684.95 208.02 692.45 207.93 699.95 207.82 707.45 207.7 714.95 207.58 722.45 207.44 729.95 207.3 737.45 207.15 744.95 207 752.45 206.85 759.95 206.7 767.45 206.56 774.95 206.42 782.45 206.3 789.95 206.18 797.45 206.07 804.95 205.98 812.45 205.91 819.95 205.86 827.45 205.84 834.95 205.85 842.45 205.91 849.95 206.01 857.45 206.17 864.95 206.4 872.45 206.72 879.95 207.15 887.45 207.73 894.95 208.49 902.45 214.49 902.45 213.73 894.95 213.15 887.45 212.72 879.95 212.4 872.45 212.17 864.95 212.01 857.45 211.91 849.95 211.85 842.45 211.84 834.95 211.86 827.45 211.91 819.95 211.98 812.45 212.07 804.95 212.18 797.45 212.3 789.95 212.42 782.45 212.56 774.95 212.7 767.45 212.85 759.95 213 752.45 213.15 744.95 213.3 737.45 213.44 729.95 213.58 722.45 213.7 714.95 213.82 707.45 213.93 699.95 214.02 692.45 214.09 684.95 214.14 677.45 214.16 669.95 214.15 662.45 214.09 654.95 213.99 647.45 213.83 639.95 213.6 632.45 213.28 624.95 212.85 617.45 212.27 609.95 211.51 602.45z" fill="url(#g_es)"/>
<path d="M105.61 603.21 106.63 605.11 109.85 605.84 111.74 609.49 115.39 609.93 118.31 610.22 124.15 612.41 129.99 614.6 135.83 614.6 137.29 617.52 138.75 621.17 142.4 623.65M42.62 666.06 46.05 667.3 49.33 669.49 51.89 674.6 53.71 677.88 58.09 681.53 55.54 683.36 58.09 685.18 62.11 687.37 62.84 690.66 66.49 692.85 67.95 695.77 69.41 693.94 67.58 691.75 65.76 688.83 63.57 685.55 60.65 681.9 58.09 678.61 55.9 675.69 55.9 673.14 59.19 673.5 60.28 675.69 62.11 679.71 64.3 681.9 66.49 682.99 67.58 685.18 69.77 686.28 70.14 688.47 73.79 691.02 77.44 694.31 79.63 697.96 79.99 699.78 78.53 701.61 80.36 703.8 84.74 706.72 87.66 707.45 92.4 709.64M118.49 610.07 123.97 612.04 130.54 614.01 136.56 614.23 137.66 618.61 139.85 621.9 143.13 624.31 145.65 622.45 146.09 619.16 143.68 616.42 145.87 614.78 150.25 613.14 152.22 610.4 150.25 607.66 146.96 605.47 149.7 603.07M168.86 603.07 169.95 604.93 173.79 606.79 177.07 604.93 178.71 603.07M183.09 603.07 187.47 607.66 189.66 609.31 189.12 611.5 192.4 613.14M165.03 635.26 169.95 631.75 174.33 628.69 178.71 626.82 185.28 626.5 192.4 626.06M165.03 635.26 172.14 632.85 178.71 630.11 180.9 631.2 180.36 633.94 182.55 636.13 187.47 637.23 192.4 635.58M182 627.59 185.28 628.69 188.02 629.34 184.74 628.03 182 627.59M192.4 637.23 189.66 638.87 183.09 642.15 178.71 643.8 177.4 642.15 179.26 640.51 182 639.2 178.17 639.42 174.33 641.06 168.86 643.25 166.12 644.89 165.58 647.08 167.98 647.63 165.58 648.72 161.2 649.82 157.91 650.36 155.17 653.1 152.98 654.74 150.79 656.93 152.66 656.39 152.44 659.12 154.08 662.41 151.34 664.6 146.96 666.79 142.58 670.07 139.3 673.36 138.2 675M192.4 613.69 196.78 614.45 200.61 616.64 203.35 620.26 203.13 622.77 198.97 623.87 192.4 626.82M203.13 622.77 198.97 626.28 194.59 632.85 202.8 633.39 203.35 635.26 206.41 634.16 208.82 635.91 211.01 634.16 210.47 630.66 208.28 628.47 205.54 629.56 203.35 626.82 201.16 624.64M92.33 709.6 97.14 711.68 101.52 713.32 105.36 711.68 108.09 712.77 111.38 715.51 114.12 717.15 117.4 717.48M117.4 679.6 113.57 678.28 108.09 678.5 103.71 680.47 99.88 682.88 99.12 687.04 98.79 691.42 98.02 695.8 99.88 700.18 102.62 704.01 106.45 706.75 111.38 705.66 115.21 704.34 116.85 700.73 117.4 700.18M117.4 679.6 120.68 677.41 124.52 676.64 128.35 676.64 131.63 678.07 133.82 679.38 135.47 682.66 137.11 686.5 139.85 689.23 142.04 688.69 142.8 685.4 141.71 681.57 140.39 677.74 139.3 675M145.65 685.73 149.7 685.95 149.15 685.18 145.87 685.07 145.65 685.73M146.96 690.33 148.6 692.52 148.06 690.11 146.96 690.33M130.54 697.45 133.82 695.26 139.3 694.71 144.77 695.8 149.15 697.45 153.53 699.64 157.04 701.5 154.63 702.59 150.25 702.15 149.15 700.73 145.87 698.54 141.49 696.9 137.11 696.35 132.73 697.45 130.54 697.45M146.96 706.75 150.25 706.2 152.22 707.3 149.7 708.07 146.96 706.75M156.82 706.2 160.65 705.66 159.01 702.92 163.39 702.37 167.76 703.25 171.6 705.66 168.86 706.75 165.03 707.85 161.2 706.97 157.91 707.3 156.82 706.2M174.33 706.2 178.71 706.2 178.71 707.3 174.33 707.3 174.33 706.2M117.4 698.54 121.78 697.99 125.61 698.54 124.52 702.37 122.33 706.75 120.68 712.23 125.06 712.77 130.54 712.77 134.37 714.96 134.92 718.8 133.82 723.72 135.47 727.55 138.75 729.74 142.58 729.2 146.09 728.65 149.15 730.29 152.44 729.2 154.63 725.91 158.46 723.72 162.29 722.63 163.93 721.53 165.03 723.18 163.39 725.36 163.17 728.65 164.48 729.2 165.03 726.46 164.48 724.27 166.67 722.63 168.86 722.3 171.05 724.82 174.33 725.91 178.17 725.58 180.9 727.01 183.09 725.58 187.47 725.36 190.21 725.91 188.57 727.55 190.76 729.74 192.4 730.84M117.4 718.25 120.68 719.34 123.97 719.89 127.25 723.72 129.44 727.55 132.73 729.2 134.92 731.39 138.2 731.93 140.94 734.12 143.13 731.39 145.32 730.29 146.96 731.93 148.6 734.67 149.7 738.5 149.7 742.88 147.51 746.17 145.32 750M192.4 730.84 195.68 733.58 198.97 736.86 203.35 737.63 207.73 737.63 212.11 739.6 214.85 742.88 216.49 746.72 218.46 750M143.68 750 142.04 753.28 140.94 757.12 143.13 758.76 142.04 760.95 139.85 763.14 139.3 766.42 142.58 769.71 145.32 773.54 147.51 777.37 150.25 782.85 152.44 787.77 155.72 790.51 161.2 793.25 165.58 795.99 167.22 798.72 167.76 804.74 167.22 811.31 166.12 817.88 165.03 822.26 163.93 825M218.46 750 216.71 751.31 220.87 754.38 225.25 754.16 229.08 755.69 231.27 758.54 232.91 758.21 238.39 759.64 242.76 759.85 247.14 762.04 250.43 764.78 254.26 765.88 255.9 769.71 255.36 774.09 253.17 777.37 249.33 781.75 246.05 785.58 245.83 790.51 244.95 795.99 242.76 801.46 240.03 806.93 237.84 809.67 232.91 810 227.44 811.86 223.6 814.6 221.41 817.88 221.09 821.17 219.22 825M163.93 825 164.48 829.38 163.93 834.85 161.2 841.42 158.79 845.8 159.55 848.54 158.46 852.37 157.36 857.85 159.55 857.3 160.65 858.94 159.88 862.77 157.36 862.23 155.72 866.61 154.08 868.8 156.82 869.34 154.63 870.99 153.75 874.27 154.41 878.65 155.72 882.48 159.55 886.31 164.48 889.05 169.95 891.24 173.79 890.69 177.07 890.15 179.81 889.05 177.07 887.96 173.79 887.41 171.6 883.58 171.05 881.93 167.76 883.58 165.58 886.31 161.2 885.22 156.82 883.03M192.4 849.09 187.47 849.31 186.93 853.69 183.09 854.56 180.36 854.34 180.03 856.75 183.09 857.85 180.9 860.04 178.71 863.87 175.43 864.96 173.79 867.15 175.43 869.34 178.71 870.44 176.52 873.18 173.24 875.91 169.95 879.2 171.05 881.93M219.22 825 216.49 828.83 212.11 833.76 207.73 838.14 204.44 839.23 200.06 838.69 196.78 837.04 197.87 838.69 200.06 840.33 200.94 844.16 198.42 847.45 194.59 848.87 192.4 849.31M189.66 881.39 192.4 880.84 195.68 880.29 197.87 881.39 195.68 882.48 192.4 882.15 190.21 882.48 189.66 881.39" fill="none" stroke="#000" stroke-width="1" stroke-linejoin="round"/>
<path d="M117.93 602.45V902.45M192.87 602.45V902.45M43 677.45H267.8M43 752.45H267.8M43 827.45H267.8" stroke="#b0b0b0" stroke-width="0.75" fill="none"/>
<path d="M43 765.45 57.99 767.95 73.47 770.2 87.96 772.7 101.45 774.7 112.94 776.7 125.93 777.95 132.92 778.33 139.91 777.95 146.66 776.7 153.9 774.45 165.39 771.45 178.38 767.7 190.37 763.95 202.86 759.7 211.6 756.2 220.34 752.7 230.33 747.95 241.32 742.7 255.31 736.7 267.8 730.95" fill="none" stroke="#f00" stroke-width="1.2" stroke-dasharray="4.4 1.9"/>
</g>
<rect x="257" y="606.8" width="6.6" height="6.6" rx="1" fill="#fff" fill-opacity="0.8" stroke="#ccc" stroke-width="0.75"/>
<rect x="43" y="602.45" width="224.8" height="300" fill="none" stroke="#000" stroke-width="0.7"/>
<text x="43" y="914.55" font-size="8.15" text-anchor="middle" fill="#000">240</text>
<text x="117.93" y="914.55" font-size="8.15" text-anchor="middle" fill="#000">270</text>
<text x="192.87" y="914.55" font-size="8.15" text-anchor="middle" fill="#000">300</text>
<text x="267.8" y="914.55" font-size="8.15" text-anchor="middle" fill="#000">330</text>
<text x="37.4" y="605.95" font-size="8.15" text-anchor="end" fill="#000">60</text>
<text x="37.4" y="680.95" font-size="8.15" text-anchor="end" fill="#000">30</text>
<text x="37.4" y="755.95" font-size="8.15" text-anchor="end" fill="#000">0</text>
<text x="37.4" y="830.95" font-size="8.15" text-anchor="end" fill="#000">&#x2212;30</text>
<text x="37.4" y="905.95" font-size="8.15" text-anchor="end" fill="#000">&#x2212;60</text>
<path d="M43 902.45v3M117.93 902.45v3M192.87 902.45v3M267.8 902.45v3M43 602.45h-3M43 677.45h-3M43 752.45h-3M43 827.45h-3M43 902.45h-3" stroke="#000" stroke-width="0.7" fill="none"/>
<text x="155.9" y="929.1" font-size="11.65" text-anchor="middle" fill="#000">Geo Longitude (<tspan dx="1.9" dy="-5.0" font-size="8.15">&#x2218;</tspan><tspan dx="2.1" dy="5.0">)</tspan></text>
<text transform="translate(14.7 752.45) rotate(-90)" font-size="11.65" text-anchor="middle" fill="#000">Geo Latitude (<tspan dx="1.9" dy="-5.0" font-size="8.15">&#x2218;</tspan><tspan dx="2.1" dy="5.0">)</tspan></text>
<text x="156.3" y="597.95" font-size="11.5" text-anchor="middle" fill="#8b0000">(e)10-05-2024 22:40:00 UT GPS + Swarm A</text>
<rect x="282.7" y="602.45" width="12.1" height="300" fill="url(#jet)" stroke="#000" stroke-width="0.7"/>
<text x="300.6" y="905.85" font-size="8.15" text-anchor="start" fill="#000">0</text>
<text x="300.6" y="845.85" font-size="8.15" text-anchor="start" fill="#000">20</text>
<text x="300.6" y="785.85" font-size="8.15" text-anchor="start" fill="#000">40</text>
<text x="300.6" y="725.85" font-size="8.15" text-anchor="start" fill="#000">60</text>
<text x="300.6" y="665.85" font-size="8.15" text-anchor="start" fill="#000">80</text>
<text x="300.6" y="605.85" font-size="8.15" text-anchor="start" fill="#000">100</text>
<text transform="translate(328.6 752.45) rotate(-90)" font-size="11.45" text-anchor="middle" fill="#000"><tspan font-style="italic">VTEC (TECu)</tspan></text>
<path d="M294.8 902.45h3M294.8 842.45h3M294.8 782.45h3M294.8 722.45h3M294.8 662.45h3M294.8 602.45h3" stroke="#000" stroke-width="0.7" fill="none"/>
<g clip-path="url(#cp_f)">
<rect x="544" y="602.45" width="6" height="300" fill="url(#g_fs)"/>
<path d="M447.11 603.21 448.13 605.11 451.35 605.84 453.24 609.49 456.89 609.93 459.81 610.22 465.65 612.41 471.49 614.6 477.33 614.6 478.79 617.52 480.25 621.17 483.9 623.65M384.12 666.06 387.55 667.3 390.83 669.49 393.39 674.6 395.21 677.88 399.59 681.53 397.04 683.36 399.59 685.18 403.61 687.37 404.34 690.66 407.99 692.85 409.45 695.77 410.91 693.94 409.08 691.75 407.26 688.83 405.07 685.55 402.15 681.9 399.59 678.61 397.4 675.69 397.4 673.14 400.69 673.5 401.78 675.69 403.61 679.71 405.8 681.9 407.99 682.99 409.08 685.18 411.27 686.28 411.64 688.47 415.29 691.02 418.94 694.31 421.13 697.96 421.49 699.78 420.03 701.61 421.86 703.8 426.24 706.72 429.16 707.45 433.9 709.64M459.99 610.07 465.47 612.04 472.04 614.01 478.06 614.23 479.16 618.61 481.35 621.9 484.63 624.31 487.15 622.45 487.59 619.16 485.18 616.42 487.37 614.78 491.75 613.14 493.72 610.4 491.75 607.66 488.46 605.47 491.2 603.07M510.36 603.07 511.45 604.93 515.29 606.79 518.57 604.93 520.21 603.07M524.59 603.07 528.97 607.66 531.16 609.31 530.62 611.5 533.9 613.14M506.53 635.26 511.45 631.75 515.83 628.69 520.21 626.82 526.78 626.5 533.9 626.06M506.53 635.26 513.64 632.85 520.21 630.11 522.4 631.2 521.86 633.94 524.05 636.13 528.97 637.23 533.9 635.58M523.5 627.59 526.78 628.69 529.52 629.34 526.24 628.03 523.5 627.59M533.9 637.23 531.16 638.87 524.59 642.15 520.21 643.8 518.9 642.15 520.76 640.51 523.5 639.2 519.67 639.42 515.83 641.06 510.36 643.25 507.62 644.89 507.08 647.08 509.48 647.63 507.08 648.72 502.7 649.82 499.41 650.36 496.67 653.1 494.48 654.74 492.29 656.93 494.16 656.39 493.94 659.12 495.58 662.41 492.84 664.6 488.46 666.79 484.08 670.07 480.8 673.36 479.7 675M533.9 613.69 538.28 614.45 542.11 616.64 544.85 620.26 544.63 622.77 540.47 623.87 533.9 626.82M544.63 622.77 540.47 626.28 536.09 632.85 544.3 633.39 544.85 635.26 547.91 634.16 550.32 635.91 552.51 634.16 551.97 630.66 549.78 628.47 547.04 629.56 544.85 626.82 542.66 624.64M433.83 709.6 438.64 711.68 443.02 713.32 446.86 711.68 449.59 712.77 452.88 715.51 455.62 717.15 458.9 717.48M458.9 679.6 455.07 678.28 449.59 678.5 445.21 680.47 441.38 682.88 440.62 687.04 440.29 691.42 439.52 695.8 441.38 700.18 444.12 704.01 447.95 706.75 452.88 705.66 456.71 704.34 458.35 700.73 458.9 700.18M458.9 679.6 462.18 677.41 466.02 676.64 469.85 676.64 473.13 678.07 475.32 679.38 476.97 682.66 478.61 686.5 481.35 689.23 483.54 688.69 484.3 685.4 483.21 681.57 481.89 677.74 480.8 675M487.15 685.73 491.2 685.95 490.65 685.18 487.37 685.07 487.15 685.73M488.46 690.33 490.1 692.52 489.56 690.11 488.46 690.33M472.04 697.45 475.32 695.26 480.8 694.71 486.27 695.8 490.65 697.45 495.03 699.64 498.54 701.5 496.13 702.59 491.75 702.15 490.65 700.73 487.37 698.54 482.99 696.9 478.61 696.35 474.23 697.45 472.04 697.45M488.46 706.75 491.75 706.2 493.72 707.3 491.2 708.07 488.46 706.75M498.32 706.2 502.15 705.66 500.51 702.92 504.89 702.37 509.26 703.25 513.1 705.66 510.36 706.75 506.53 707.85 502.7 706.97 499.41 707.3 498.32 706.2M515.83 706.2 520.21 706.2 520.21 707.3 515.83 707.3 515.83 706.2M458.9 698.54 463.28 697.99 467.11 698.54 466.02 702.37 463.83 706.75 462.18 712.23 466.56 712.77 472.04 712.77 475.87 714.96 476.42 718.8 475.32 723.72 476.97 727.55 480.25 729.74 484.08 729.2 487.59 728.65 490.65 730.29 493.94 729.2 496.13 725.91 499.96 723.72 503.79 722.63 505.43 721.53 506.53 723.18 504.89 725.36 504.67 728.65 505.98 729.2 506.53 726.46 505.98 724.27 508.17 722.63 510.36 722.3 512.55 724.82 515.83 725.91 519.67 725.58 522.4 727.01 524.59 725.58 528.97 725.36 531.71 725.91 530.07 727.55 532.26 729.74 533.9 730.84M458.9 718.25 462.18 719.34 465.47 719.89 468.75 723.72 470.94 727.55 474.23 729.2 476.42 731.39 479.7 731.93 482.44 734.12 484.63 731.39 486.82 730.29 488.46 731.93 490.1 734.67 491.2 738.5 491.2 742.88 489.01 746.17 486.82 750M533.9 730.84 537.18 733.58 540.47 736.86 544.85 737.63 549.23 737.63 553.61 739.6 556.35 742.88 557.99 746.72 559.96 750M485.18 750 483.54 753.28 482.44 757.12 484.63 758.76 483.54 760.95 481.35 763.14 480.8 766.42 484.08 769.71 486.82 773.54 489.01 777.37 491.75 782.85 493.94 787.77 497.22 790.51 502.7 793.25 507.08 795.99 508.72 798.72 509.26 804.74 508.72 811.31 507.62 817.88 506.53 822.26 505.43 825M559.96 750 558.21 751.31 562.37 754.38 566.75 754.16 570.58 755.69 572.77 758.54 574.41 758.21 579.89 759.64 584.26 759.85 588.64 762.04 591.93 764.78 595.76 765.88 597.4 769.71 596.86 774.09 594.67 777.37 590.83 781.75 587.55 785.58 587.33 790.51 586.45 795.99 584.26 801.46 581.53 806.93 579.34 809.67 574.41 810 568.94 811.86 565.1 814.6 562.91 817.88 562.59 821.17 560.72 825M505.43 825 505.98 829.38 505.43 834.85 502.7 841.42 500.29 845.8 501.05 848.54 499.96 852.37 498.86 857.85 501.05 857.3 502.15 858.94 501.38 862.77 498.86 862.23 497.22 866.61 495.58 868.8 498.32 869.34 496.13 870.99 495.25 874.27 495.91 878.65 497.22 882.48 501.05 886.31 505.98 889.05 511.45 891.24 515.29 890.69 518.57 890.15 521.31 889.05 518.57 887.96 515.29 887.41 513.1 883.58 512.55 881.93 509.26 883.58 507.08 886.31 502.7 885.22 498.32 883.03M533.9 849.09 528.97 849.31 528.43 853.69 524.59 854.56 521.86 854.34 521.53 856.75 524.59 857.85 522.4 860.04 520.21 863.87 516.93 864.96 515.29 867.15 516.93 869.34 520.21 870.44 518.02 873.18 514.74 875.91 511.45 879.2 512.55 881.93M560.72 825 557.99 828.83 553.61 833.76 549.23 838.14 545.94 839.23 541.56 838.69 538.28 837.04 539.37 838.69 541.56 840.33 542.44 844.16 539.92 847.45 536.09 848.87 533.9 849.31M531.16 881.39 533.9 880.84 537.18 880.29 539.37 881.39 537.18 882.48 533.9 882.15 531.71 882.48 531.16 881.39" fill="none" stroke="#000" stroke-width="1" stroke-linejoin="round"/>
<rect x="544" y="602.45" width="6" height="300" fill="url(#g_fs)"/>
<path d="M459.5 602.45V902.45M534.5 602.45V902.45M384.5 677.45H609.5M384.5 752.45H609.5M384.5 827.45H609.5" stroke="#b0b0b0" stroke-width="0.75" fill="none"/>
<path d="M384.5 765.45 399.5 767.95 415 770.2 429.5 772.7 443 774.7 454.5 776.7 467.5 777.95 474.5 778.33 481.5 777.95 488.25 776.7 495.5 774.45 507 771.45 520 767.7 532 763.95 544.5 759.7 553.25 756.2 562 752.7 572 747.95 583 742.7 597 736.7 609.5 730.95" fill="none" stroke="#f00" stroke-width="1.2" stroke-dasharray="4.4 1.9"/>
</g>
<rect x="384.5" y="602.45" width="225" height="300" fill="none" stroke="#000" stroke-width="0.7"/>
<text x="384.5" y="914.55" font-size="8.15" text-anchor="middle" fill="#000">240</text>
<text x="459.5" y="914.55" font-size="8.15" text-anchor="middle" fill="#000">270</text>
<text x="534.5" y="914.55" font-size="8.15" text-anchor="middle" fill="#000">300</text>
<text x="609.5" y="914.55" font-size="8.15" text-anchor="middle" fill="#000">330</text>
<text x="378.9" y="605.95" font-size="8.15" text-anchor="end" fill="#000">60</text>
<text x="378.9" y="680.95" font-size="8.15" text-anchor="end" fill="#000">30</text>
<text x="378.9" y="755.95" font-size="8.15" text-anchor="end" fill="#000">0</text>
<text x="378.9" y="830.95" font-size="8.15" text-anchor="end" fill="#000">&#x2212;30</text>
<text x="378.9" y="905.95" font-size="8.15" text-anchor="end" fill="#000">&#x2212;60</text>
<path d="M384.5 902.45v3M459.5 902.45v3M534.5 902.45v3M609.5 902.45v3M384.5 602.45h-3M384.5 677.45h-3M384.5 752.45h-3M384.5 827.45h-3M384.5 902.45h-3" stroke="#000" stroke-width="0.7" fill="none"/>
<text x="497.5" y="929.1" font-size="11.65" text-anchor="middle" fill="#000">Geo Longitude (<tspan dx="1.9" dy="-5.0" font-size="8.15">&#x2218;</tspan><tspan dx="2.1" dy="5.0">)</tspan></text>
<text x="497.9" y="597.95" font-size="11.5" text-anchor="middle" fill="#8b0000">(f)10-05-2024 22:40:00 UT - Swarm A</text>
<rect x="624.4" y="602.45" width="12.1" height="300" fill="url(#jet)" stroke="#000" stroke-width="0.7"/>
<text x="642.1" y="905.85" font-size="8.15" fill="#000">10<tspan dy="-3.2" font-size="6.4">3</tspan></text>
<text x="642.1" y="830.85" font-size="8.15" fill="#000">10<tspan dy="-3.2" font-size="6.4">4</tspan></text>
<text x="642.1" y="755.85" font-size="8.15" fill="#000">10<tspan dy="-3.2" font-size="6.4">5</tspan></text>
<text x="642.1" y="680.85" font-size="8.15" fill="#000">10<tspan dy="-3.2" font-size="6.4">6</tspan></text>
<text x="642.1" y="605.85" font-size="8.15" fill="#000">10<tspan dy="-3.2" font-size="6.4">7</tspan></text>
<text transform="translate(670.2 752.45) rotate(-90)" font-size="11.8" text-anchor="middle" fill="#000"><tspan font-style="italic">N<tspan dy="2.1" font-size="8.2">e</tspan><tspan dy="-2.1"> (cm</tspan><tspan dy="-4.5" font-size="8.2">&#x2212;3</tspan><tspan dy="4.5">)</tspan></tspan></text>
<path d="M636.5 902.45h3M636.5 879.87h1.5M636.5 866.67h1.5M636.5 857.3h1.5M636.5 850.03h1.5M636.5 844.09h1.5M636.5 839.07h1.5M636.5 834.72h1.5M636.5 830.88h1.5M636.5 827.45h3M636.5 804.87h1.5M636.5 791.67h1.5M636.5 782.3h1.5M636.5 775.03h1.5M636.5 769.09h1.5M636.5 764.07h1.5M636.5 759.72h1.5M636.5 755.88h1.5M636.5 752.45h3M636.5 729.87h1.5M636.5 716.67h1.5M636.5 707.3h1.5M636.5 700.03h1.5M636.5 694.09h1.5M636.5 689.07h1.5M636.5 684.72h1.5M636.5 680.88h1.5M636.5 677.45h3M636.5 654.87h1.5M636.5 641.67h1.5M636.5 632.3h1.5M636.5 625.03h1.5M636.5 619.09h1.5M636.5 614.07h1.5M636.5 609.72h1.5M636.5 605.88h1.5M636.5 602.45h3" stroke="#000" stroke-width="0.7" fill="none"/>
</g></svg>
</body></html>
